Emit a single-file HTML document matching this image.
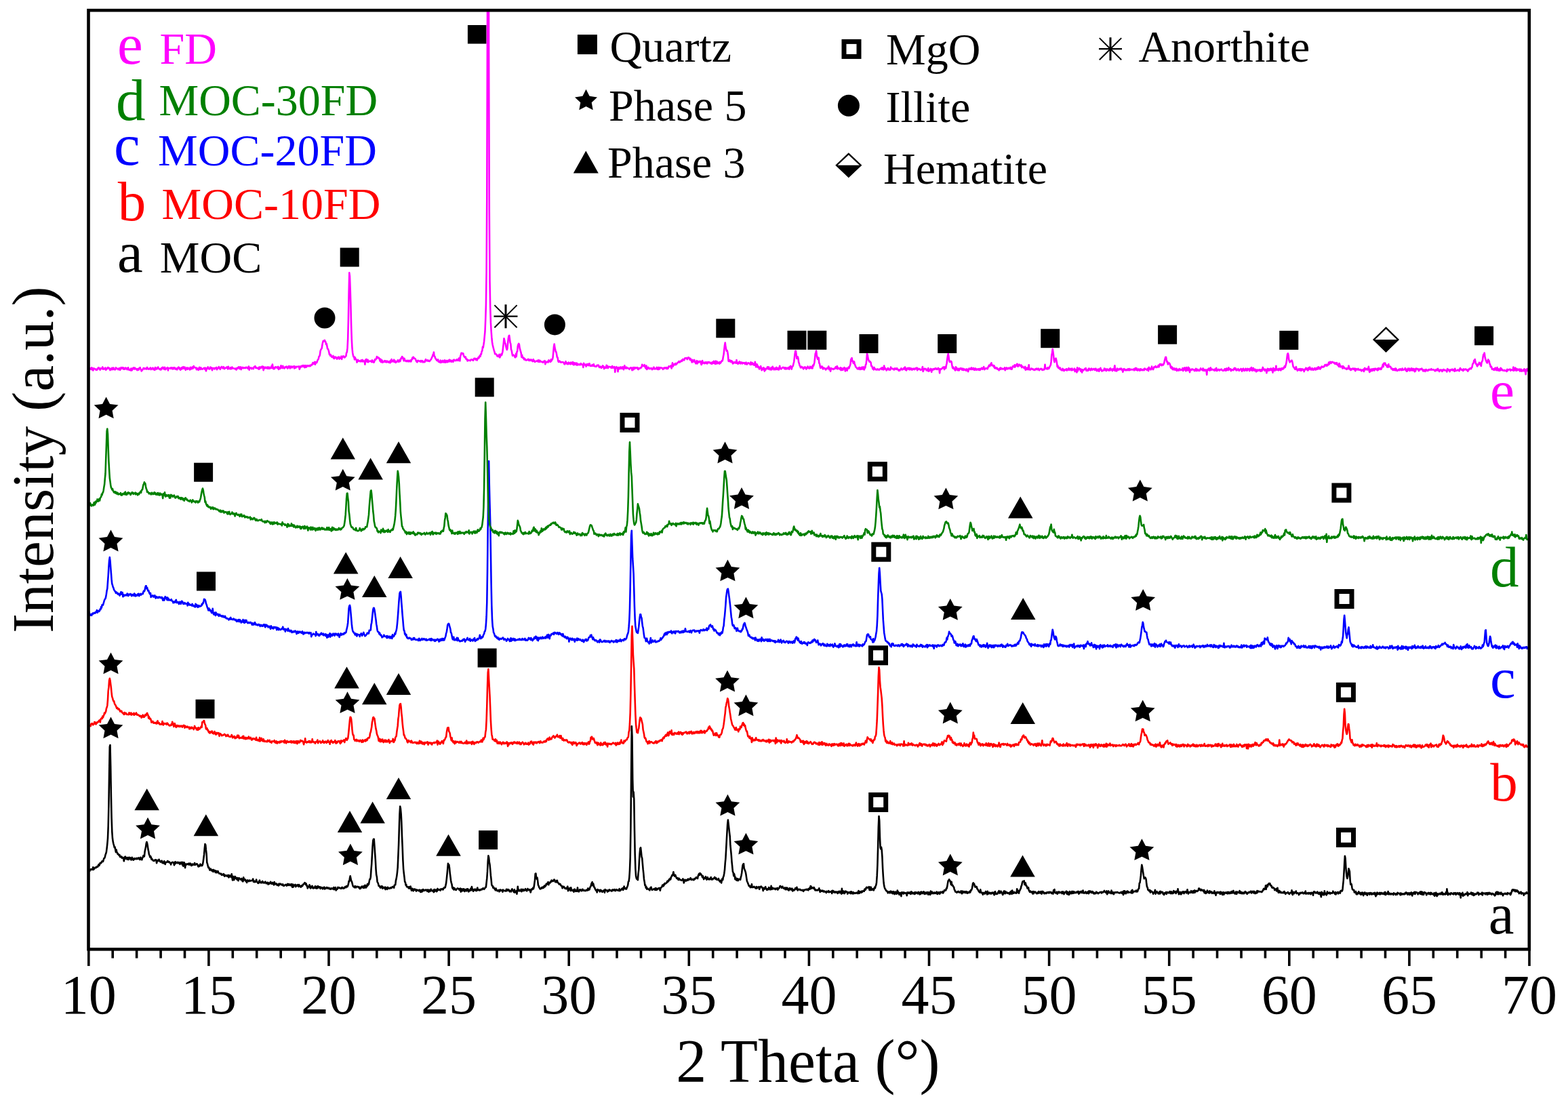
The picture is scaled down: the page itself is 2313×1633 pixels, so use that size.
<!DOCTYPE html><html><head><meta charset="utf-8"><title>XRD patterns</title><style>html,body{margin:0;padding:0;background:#fff;}svg{display:block;}text{font-family:"Liberation Serif","Times New Roman",serif;}</style></head><body>
<svg width="2313" height="1633" viewBox="0 0 2313 1633">
<rect width="2313" height="1633" fill="#fff"/>
<defs><clipPath id="pc"><rect x="130.5" y="15.2" width="2125.3" height="1385.1"/></clipPath></defs>
<g clip-path="url(#pc)" fill="none" stroke-width="2.6" stroke-linejoin="round">
<polyline stroke="#000000" points="131.0,1283.9 131.7,1285.2 132.4,1284.8 133.1,1282.5 133.8,1282.5 134.5,1282.0 135.2,1283.0 135.9,1282.0 136.6,1282.6 137.3,1279.3 138.0,1282.9 138.7,1280.7 139.4,1281.3 140.1,1280.0 140.8,1279.4 141.5,1280.0 142.2,1280.0 142.9,1278.5 143.6,1278.1 144.3,1278.6 145.0,1276.4 145.7,1275.1 146.4,1276.8 147.1,1275.0 147.8,1272.9 148.5,1273.1 149.2,1273.2 149.9,1271.6 150.6,1270.3 151.3,1271.1 152.0,1270.9 152.7,1268.3 153.4,1266.2 154.1,1265.9 154.8,1264.3 155.5,1261.0 156.2,1259.3 156.9,1256.8 157.6,1251.3 158.3,1244.8 159.0,1236.5 159.7,1218.7 160.4,1188.6 161.1,1140.9 161.8,1101.5 162.5,1099.0 163.2,1130.6 163.9,1175.1 164.6,1207.4 165.3,1226.8 166.0,1236.8 166.7,1241.6 167.4,1244.8 168.1,1247.2 168.8,1250.1 169.5,1249.4 170.2,1253.4 170.9,1257.1 171.6,1253.6 172.3,1257.3 173.0,1257.8 173.7,1260.0 174.4,1259.5 175.1,1260.8 175.8,1262.0 176.5,1261.2 177.2,1264.2 177.9,1263.2 178.6,1264.4 179.3,1263.6 180.0,1265.8 180.7,1265.5 181.4,1264.9 182.1,1266.0 182.8,1270.3 183.5,1267.7 184.2,1264.0 184.9,1263.7 185.6,1266.6 186.3,1266.1 187.0,1265.1 187.7,1267.8 188.4,1265.0 189.1,1267.1 189.8,1268.0 190.5,1264.8 191.2,1266.3 191.9,1265.2 192.6,1267.0 193.3,1268.5 194.0,1268.3 194.7,1264.8 195.4,1266.2 196.1,1267.7 196.8,1268.7 197.5,1267.4 198.2,1266.1 198.9,1267.3 199.6,1266.9 200.3,1266.7 201.0,1266.0 201.7,1267.3 202.4,1267.2 203.1,1265.8 203.8,1266.6 204.5,1265.3 205.2,1266.2 205.9,1268.0 206.6,1266.4 207.3,1264.8 208.0,1267.9 208.7,1266.7 209.4,1268.3 210.1,1265.5 210.8,1264.3 211.5,1262.2 212.2,1263.9 212.9,1263.2 213.6,1256.3 214.3,1252.7 215.0,1249.8 215.7,1244.4 216.4,1242.0 217.1,1244.0 217.8,1247.8 218.5,1253.1 219.2,1256.0 219.9,1260.6 220.6,1261.7 221.3,1264.5 222.0,1262.9 222.7,1264.6 223.4,1267.8 224.1,1266.7 224.8,1268.4 225.5,1268.7 226.2,1269.8 226.9,1269.4 227.6,1269.9 228.3,1268.7 229.0,1268.2 229.7,1268.3 230.4,1268.8 231.1,1273.2 231.8,1269.0 232.5,1269.6 233.2,1270.1 233.9,1268.8 234.6,1267.8 235.3,1270.1 236.0,1270.5 236.7,1271.6 237.4,1271.1 238.1,1269.8 238.8,1269.8 239.5,1273.1 240.2,1271.7 240.9,1273.1 241.6,1273.5 242.3,1270.2 243.0,1271.7 243.7,1275.0 244.4,1272.0 245.1,1272.1 245.8,1271.8 246.5,1271.8 247.2,1270.0 247.9,1271.6 248.6,1271.0 249.3,1272.1 250.0,1271.5 250.7,1272.8 251.4,1273.1 252.1,1275.4 252.8,1272.7 253.5,1272.5 254.2,1271.9 254.9,1272.3 255.6,1272.0 256.3,1273.1 257.0,1276.3 257.7,1273.4 258.4,1271.3 259.1,1273.9 259.8,1272.1 260.5,1272.2 261.2,1272.8 261.9,1271.9 262.6,1273.5 263.3,1272.6 264.0,1272.1 264.7,1272.4 265.4,1274.9 266.1,1273.5 266.8,1272.2 267.5,1273.6 268.2,1271.9 268.9,1275.8 269.6,1272.0 270.3,1277.8 271.0,1274.5 271.7,1272.3 272.4,1274.4 273.1,1280.2 273.8,1274.7 274.5,1274.5 275.2,1275.4 275.9,1274.5 276.6,1274.8 277.3,1274.4 278.0,1275.3 278.7,1273.6 279.4,1275.6 280.1,1274.2 280.8,1273.6 281.5,1275.4 282.2,1277.0 282.9,1276.2 283.6,1274.6 284.3,1276.1 285.0,1274.9 285.7,1275.3 286.4,1275.7 287.1,1273.0 287.8,1276.0 288.5,1274.9 289.2,1275.1 289.9,1274.4 290.6,1274.4 291.3,1275.2 292.0,1277.4 292.7,1278.4 293.4,1276.6 294.1,1277.9 294.8,1276.4 295.5,1274.6 296.2,1276.9 296.9,1277.1 297.6,1275.8 298.3,1276.9 299.0,1275.1 299.7,1271.1 300.4,1266.0 301.1,1260.4 301.8,1251.7 302.5,1245.1 303.2,1246.2 303.9,1253.7 304.6,1259.6 305.3,1272.4 306.0,1274.3 306.7,1277.4 307.4,1279.8 308.1,1279.3 308.8,1281.5 309.5,1283.6 310.2,1282.7 310.9,1281.6 311.6,1283.4 312.3,1284.5 313.0,1283.9 313.7,1283.1 314.4,1285.9 315.1,1283.0 315.8,1285.3 316.5,1285.0 317.2,1284.0 317.9,1287.1 318.6,1286.4 319.3,1284.9 320.0,1287.3 320.7,1286.4 321.4,1285.0 322.1,1286.7 322.8,1288.0 323.5,1288.8 324.2,1288.5 324.9,1288.6 325.6,1289.4 326.3,1288.9 327.0,1290.8 327.7,1289.8 328.4,1290.3 329.1,1290.8 329.8,1289.2 330.5,1289.9 331.2,1292.7 331.9,1291.6 332.6,1291.1 333.3,1292.0 334.0,1291.3 334.7,1292.4 335.4,1291.5 336.1,1292.8 336.8,1290.9 337.5,1294.4 338.2,1292.5 338.9,1291.4 339.6,1293.2 340.3,1293.2 341.0,1293.9 341.7,1289.4 342.4,1294.5 343.1,1298.4 343.8,1292.9 344.5,1294.9 345.2,1298.1 345.9,1295.1 346.6,1292.9 347.3,1293.8 348.0,1295.8 348.7,1295.4 349.4,1297.4 350.1,1294.9 350.8,1296.0 351.5,1299.3 352.2,1295.2 352.9,1295.2 353.6,1296.4 354.3,1296.5 355.0,1297.6 355.7,1296.9 356.4,1296.0 357.1,1298.7 357.8,1300.2 358.5,1300.3 359.2,1294.2 359.9,1297.4 360.6,1296.7 361.3,1298.5 362.0,1297.7 362.7,1300.2 363.4,1299.2 364.1,1301.9 364.8,1298.6 365.5,1298.4 366.2,1299.0 366.9,1300.2 367.6,1299.4 368.3,1298.5 369.0,1299.6 369.7,1299.4 370.4,1299.2 371.1,1299.0 371.8,1298.8 372.5,1298.8 373.2,1296.5 373.9,1300.9 374.6,1300.5 375.3,1299.7 376.0,1301.3 376.7,1300.7 377.4,1300.7 378.1,1297.5 378.8,1300.2 379.5,1301.2 380.2,1302.5 380.9,1302.9 381.6,1302.5 382.3,1299.6 383.0,1298.5 383.7,1301.8 384.4,1301.3 385.1,1302.4 385.8,1301.3 386.5,1301.8 387.2,1299.9 387.9,1302.2 388.6,1301.3 389.3,1302.3 390.0,1302.5 390.7,1301.9 391.4,1300.7 392.1,1302.2 392.8,1303.2 393.5,1303.0 394.2,1301.8 394.9,1301.9 395.6,1304.6 396.3,1302.6 397.0,1303.9 397.7,1303.3 398.4,1302.3 399.1,1300.8 399.8,1303.3 400.5,1303.5 401.2,1304.0 401.9,1301.9 402.6,1302.8 403.3,1303.4 404.0,1305.4 404.7,1301.0 405.4,1304.3 406.1,1303.2 406.8,1304.4 407.5,1303.4 408.2,1304.5 408.9,1305.9 409.6,1304.6 410.3,1304.8 411.0,1306.5 411.7,1303.6 412.4,1305.1 413.1,1304.3 413.8,1303.7 414.5,1304.7 415.2,1304.5 415.9,1305.7 416.6,1304.9 417.3,1304.4 418.0,1306.7 418.7,1306.3 419.4,1306.6 420.1,1305.9 420.8,1305.2 421.5,1304.9 422.2,1305.1 422.9,1306.6 423.6,1305.7 424.3,1303.9 425.0,1305.7 425.7,1304.1 426.4,1306.0 427.1,1304.5 427.8,1304.5 428.5,1306.1 429.2,1306.0 429.9,1304.2 430.6,1307.0 431.3,1308.7 432.0,1304.6 432.7,1308.5 433.4,1305.6 434.1,1305.9 434.8,1306.3 435.5,1304.9 436.2,1308.1 436.9,1307.3 437.6,1305.9 438.3,1306.5 439.0,1305.1 439.7,1306.5 440.4,1308.0 441.1,1305.0 441.8,1306.5 442.5,1307.2 443.2,1308.2 443.9,1308.6 444.6,1306.5 445.3,1306.0 446.0,1307.2 446.7,1305.7 447.4,1304.5 448.1,1304.1 448.8,1303.2 449.5,1302.0 450.2,1302.5 450.9,1304.8 451.6,1303.5 452.3,1306.7 453.0,1306.1 453.7,1310.4 454.4,1308.7 455.1,1308.2 455.8,1307.9 456.5,1305.3 457.2,1309.1 457.9,1310.3 458.6,1307.6 459.3,1309.3 460.0,1309.5 460.7,1306.9 461.4,1309.8 462.1,1310.4 462.8,1309.2 463.5,1308.9 464.2,1309.9 464.9,1307.3 465.6,1309.3 466.3,1310.4 467.0,1307.8 467.7,1310.5 468.4,1308.9 469.1,1307.1 469.8,1309.4 470.5,1308.4 471.2,1309.3 471.9,1308.3 472.6,1310.9 473.3,1308.9 474.0,1310.2 474.7,1309.2 475.4,1309.5 476.1,1311.3 476.8,1310.2 477.5,1309.6 478.2,1308.6 478.9,1311.5 479.6,1311.0 480.3,1309.8 481.0,1310.5 481.7,1309.1 482.4,1309.1 483.1,1309.4 483.8,1310.8 484.5,1310.7 485.2,1309.6 485.9,1311.3 486.6,1311.4 487.3,1310.7 488.0,1311.7 488.7,1310.2 489.4,1310.4 490.1,1311.1 490.8,1310.5 491.5,1311.5 492.2,1309.1 492.9,1312.2 493.6,1309.7 494.3,1310.4 495.0,1309.0 495.7,1313.5 496.4,1312.0 497.1,1311.8 497.8,1311.5 498.5,1308.7 499.2,1309.6 499.9,1309.9 500.6,1309.3 501.3,1309.9 502.0,1310.6 502.7,1310.3 503.4,1310.8 504.1,1309.1 504.8,1309.1 505.5,1309.1 506.2,1310.6 506.9,1310.3 507.6,1310.5 508.3,1309.7 509.0,1308.0 509.7,1308.7 510.4,1309.2 511.1,1307.1 511.8,1307.3 512.5,1308.1 513.2,1306.5 513.9,1304.1 514.6,1299.8 515.3,1300.4 516.0,1295.4 516.7,1292.3 517.4,1295.7 518.1,1299.2 518.8,1300.1 519.5,1302.6 520.2,1305.3 520.9,1307.5 521.6,1308.2 522.3,1308.4 523.0,1309.3 523.7,1307.0 524.4,1308.0 525.1,1309.3 525.8,1308.1 526.5,1307.7 527.2,1307.8 527.9,1308.2 528.6,1309.0 529.3,1308.1 530.0,1309.5 530.7,1311.1 531.4,1309.0 532.1,1310.6 532.8,1309.4 533.5,1307.7 534.2,1308.6 534.9,1307.7 535.6,1309.6 536.3,1307.3 537.0,1310.0 537.7,1309.0 538.4,1305.8 539.1,1308.8 539.8,1309.5 540.5,1306.5 541.2,1308.1 541.9,1304.4 542.6,1306.2 543.3,1303.2 544.0,1304.5 544.7,1300.3 545.4,1297.0 546.1,1296.9 546.8,1293.8 547.5,1283.0 548.2,1274.6 548.9,1261.6 549.6,1248.5 550.3,1240.0 551.0,1237.8 551.7,1237.7 552.4,1247.5 553.1,1258.1 553.8,1267.8 554.5,1281.8 555.2,1290.6 555.9,1293.5 556.6,1300.9 557.3,1301.9 558.0,1303.7 558.7,1307.0 559.4,1306.6 560.1,1307.4 560.8,1309.4 561.5,1309.6 562.2,1307.6 562.9,1307.3 563.6,1307.3 564.3,1310.7 565.0,1308.5 565.7,1309.9 566.4,1310.1 567.1,1309.8 567.8,1308.7 568.5,1312.1 569.2,1309.1 569.9,1310.2 570.6,1310.1 571.3,1311.8 572.0,1308.7 572.7,1310.3 573.4,1310.1 574.1,1310.8 574.8,1310.7 575.5,1309.5 576.2,1310.1 576.9,1309.2 577.6,1310.0 578.3,1309.0 579.0,1308.0 579.7,1308.3 580.4,1308.2 581.1,1309.7 581.8,1305.7 582.5,1305.5 583.2,1305.3 583.9,1299.1 584.6,1296.4 585.3,1292.3 586.0,1286.6 586.7,1279.3 587.4,1262.8 588.1,1245.6 588.8,1223.1 589.5,1201.1 590.2,1189.5 590.9,1192.6 591.6,1200.0 592.3,1212.9 593.0,1234.0 593.7,1249.7 594.4,1268.9 595.1,1281.8 595.8,1288.3 596.5,1294.2 597.2,1300.8 597.9,1301.5 598.6,1305.7 599.3,1304.9 600.0,1308.3 600.7,1308.3 601.4,1308.4 602.1,1308.5 602.8,1310.3 603.5,1308.3 604.2,1310.5 604.9,1310.6 605.6,1307.5 606.3,1310.1 607.0,1313.7 607.7,1311.6 608.4,1310.8 609.1,1313.8 609.8,1314.3 610.5,1312.2 611.2,1311.5 611.9,1312.7 612.6,1311.9 613.3,1312.4 614.0,1314.6 614.7,1312.5 615.4,1313.1 616.1,1313.4 616.8,1313.0 617.5,1314.1 618.2,1314.1 618.9,1312.7 619.6,1313.3 620.3,1316.0 621.0,1313.7 621.7,1313.0 622.4,1315.6 623.1,1313.3 623.8,1312.0 624.5,1314.1 625.2,1312.8 625.9,1312.8 626.6,1313.7 627.3,1313.2 628.0,1312.5 628.7,1312.7 629.4,1312.7 630.1,1314.7 630.8,1312.5 631.5,1312.7 632.2,1315.7 632.9,1312.7 633.6,1315.1 634.3,1314.9 635.0,1313.2 635.7,1311.7 636.4,1313.8 637.1,1314.1 637.8,1314.4 638.5,1313.4 639.2,1314.7 639.9,1316.1 640.6,1312.0 641.3,1314.9 642.0,1313.4 642.7,1312.5 643.4,1312.8 644.1,1315.2 644.8,1314.2 645.5,1310.9 646.2,1313.1 646.9,1312.7 647.6,1312.6 648.3,1312.2 649.0,1313.3 649.7,1313.6 650.4,1311.4 651.1,1311.9 651.8,1311.4 652.5,1311.1 653.2,1312.5 653.9,1311.8 654.6,1310.1 655.3,1309.2 656.0,1309.6 656.7,1309.2 657.4,1306.1 658.1,1302.9 658.8,1296.9 659.5,1289.9 660.2,1282.5 660.9,1273.9 661.6,1276.2 662.3,1275.7 663.0,1280.1 663.7,1287.8 664.4,1293.0 665.1,1298.7 665.8,1302.4 666.5,1304.4 667.2,1309.3 667.9,1310.9 668.6,1309.3 669.3,1312.4 670.0,1310.0 670.7,1310.6 671.4,1312.4 672.1,1312.0 672.8,1312.9 673.5,1311.4 674.2,1311.2 674.9,1310.3 675.6,1311.1 676.3,1311.3 677.0,1311.0 677.7,1313.0 678.4,1312.0 679.1,1310.5 679.8,1315.6 680.5,1311.8 681.2,1311.4 681.9,1314.3 682.6,1314.2 683.3,1311.5 684.0,1311.2 684.7,1311.7 685.4,1315.1 686.1,1312.5 686.8,1312.0 687.5,1312.9 688.2,1314.3 688.9,1311.3 689.6,1312.5 690.3,1311.3 691.0,1315.4 691.7,1315.0 692.4,1314.0 693.1,1312.7 693.8,1313.7 694.5,1310.5 695.2,1313.2 695.9,1308.0 696.6,1311.3 697.3,1312.0 698.0,1314.8 698.7,1313.5 699.4,1312.0 700.1,1313.1 700.8,1311.7 701.5,1313.6 702.2,1312.6 702.9,1314.1 703.6,1311.6 704.3,1309.5 705.0,1313.1 705.7,1312.5 706.4,1313.1 707.1,1312.3 707.8,1313.5 708.5,1312.9 709.2,1312.8 709.9,1311.6 710.6,1312.1 711.3,1312.1 712.0,1310.9 712.7,1310.2 713.4,1311.3 714.1,1311.8 714.8,1310.9 715.5,1309.9 716.2,1308.6 716.9,1308.7 717.6,1302.0 718.3,1295.7 719.0,1285.9 719.7,1270.7 720.4,1262.3 721.1,1264.8 721.8,1271.4 722.5,1275.2 723.2,1282.5 723.9,1291.2 724.6,1297.3 725.3,1305.2 726.0,1306.8 726.7,1306.9 727.4,1309.8 728.1,1308.7 728.8,1310.0 729.5,1311.6 730.2,1310.8 730.9,1313.3 731.6,1310.6 732.3,1312.7 733.0,1313.2 733.7,1314.4 734.4,1313.8 735.1,1313.1 735.8,1313.0 736.5,1315.3 737.2,1314.4 737.9,1312.4 738.6,1313.8 739.3,1313.1 740.0,1313.5 740.7,1313.0 741.4,1315.8 742.1,1312.6 742.8,1313.7 743.5,1313.7 744.2,1314.1 744.9,1314.0 745.6,1314.0 746.3,1314.6 747.0,1311.8 747.7,1313.6 748.4,1312.1 749.1,1313.8 749.8,1312.2 750.5,1312.5 751.2,1313.6 751.9,1315.3 752.6,1314.3 753.3,1314.0 754.0,1315.3 754.7,1312.6 755.4,1311.3 756.1,1313.2 756.8,1313.4 757.5,1315.2 758.2,1316.2 758.9,1312.2 759.6,1316.6 760.3,1315.6 761.0,1314.7 761.7,1314.2 762.4,1318.8 763.1,1313.9 763.8,1307.7 764.5,1314.0 765.2,1312.2 765.9,1314.3 766.6,1313.7 767.3,1314.2 768.0,1314.2 768.7,1311.8 769.4,1315.3 770.1,1312.5 770.8,1313.8 771.5,1311.9 772.2,1314.1 772.9,1312.8 773.6,1313.7 774.3,1312.9 775.0,1311.1 775.7,1312.3 776.4,1313.7 777.1,1314.3 777.8,1311.8 778.5,1311.0 779.2,1312.4 779.9,1313.1 780.6,1312.5 781.3,1312.2 782.0,1314.0 782.7,1316.5 783.4,1313.6 784.1,1311.5 784.8,1312.3 785.5,1311.6 786.2,1309.7 786.9,1311.3 787.6,1308.5 788.3,1303.6 789.0,1298.2 789.7,1288.9 790.4,1288.5 791.1,1294.6 791.8,1296.6 792.5,1294.7 793.2,1299.3 793.9,1305.7 794.6,1306.7 795.3,1309.0 796.0,1310.0 796.7,1311.4 797.4,1311.2 798.1,1310.7 798.8,1309.2 799.5,1310.3 800.2,1309.5 800.9,1308.4 801.6,1309.8 802.3,1308.4 803.0,1306.5 803.7,1308.4 804.4,1306.2 805.1,1306.7 805.8,1303.7 806.5,1304.9 807.2,1303.3 807.9,1302.7 808.6,1301.1 809.3,1305.2 810.0,1302.0 810.7,1302.0 811.4,1302.5 812.1,1300.6 812.8,1301.0 813.5,1298.5 814.2,1300.0 814.9,1299.1 815.6,1300.0 816.3,1299.6 817.0,1297.9 817.7,1297.5 818.4,1298.7 819.1,1301.0 819.8,1301.0 820.5,1301.4 821.2,1299.0 821.9,1298.8 822.6,1301.7 823.3,1302.5 824.0,1302.8 824.7,1304.4 825.4,1304.4 826.1,1303.8 826.8,1304.7 827.5,1306.4 828.2,1306.8 828.9,1307.1 829.6,1310.3 830.3,1307.8 831.0,1308.7 831.7,1307.8 832.4,1308.9 833.1,1310.3 833.8,1310.7 834.5,1310.2 835.2,1311.1 835.9,1311.0 836.6,1309.0 837.3,1307.6 838.0,1314.2 838.7,1312.7 839.4,1311.9 840.1,1310.1 840.8,1310.8 841.5,1314.0 842.2,1309.3 842.9,1312.3 843.6,1313.7 844.3,1313.0 845.0,1313.8 845.7,1312.9 846.4,1315.8 847.1,1312.0 847.8,1311.6 848.5,1313.6 849.2,1314.9 849.9,1313.3 850.6,1314.6 851.3,1312.8 852.0,1309.4 852.7,1315.1 853.4,1315.3 854.1,1315.3 854.8,1313.0 855.5,1312.2 856.2,1312.2 856.9,1313.3 857.6,1314.3 858.3,1314.2 859.0,1311.9 859.7,1311.9 860.4,1313.6 861.1,1313.7 861.8,1313.5 862.5,1313.3 863.2,1314.2 863.9,1313.6 864.6,1313.7 865.3,1312.5 866.0,1313.7 866.7,1312.9 867.4,1310.4 868.1,1313.1 868.8,1312.5 869.5,1312.3 870.2,1309.7 870.9,1308.0 871.6,1307.3 872.3,1303.8 873.0,1302.4 873.7,1301.2 874.4,1306.4 875.1,1303.4 875.8,1306.1 876.5,1308.8 877.2,1309.3 877.9,1311.5 878.6,1312.7 879.3,1313.9 880.0,1313.1 880.7,1316.4 881.4,1312.1 882.1,1313.6 882.8,1313.0 883.5,1312.9 884.2,1313.9 884.9,1315.3 885.6,1312.8 886.3,1312.8 887.0,1314.5 887.7,1314.3 888.4,1315.9 889.1,1314.9 889.8,1314.0 890.5,1313.3 891.2,1314.0 891.9,1316.8 892.6,1312.1 893.3,1313.7 894.0,1313.5 894.7,1313.4 895.4,1313.2 896.1,1315.6 896.8,1314.5 897.5,1314.7 898.2,1312.9 898.9,1312.4 899.6,1313.3 900.3,1313.9 901.0,1313.2 901.7,1313.3 902.4,1314.6 903.1,1313.8 903.8,1312.3 904.5,1312.9 905.2,1312.7 905.9,1313.6 906.6,1312.0 907.3,1313.1 908.0,1314.1 908.7,1313.2 909.4,1312.1 910.1,1312.4 910.8,1313.2 911.5,1313.5 912.2,1313.9 912.9,1312.7 913.6,1311.2 914.3,1314.3 915.0,1312.9 915.7,1312.9 916.4,1312.7 917.1,1311.0 917.8,1311.6 918.5,1310.2 919.2,1312.8 919.9,1311.4 920.6,1307.5 921.3,1310.4 922.0,1310.7 922.7,1311.3 923.4,1310.0 924.1,1311.3 924.8,1309.1 925.5,1307.8 926.2,1305.7 926.9,1300.7 927.6,1300.0 928.3,1294.6 929.0,1283.9 929.7,1264.8 930.4,1220.8 931.1,1144.4 931.8,1071.2 932.5,1086.4 933.2,1149.5 933.9,1175.5 934.6,1168.3 935.3,1178.5 936.0,1225.3 936.7,1260.6 937.4,1282.0 938.1,1292.3 938.8,1295.6 939.5,1297.0 940.2,1296.8 940.9,1298.1 941.6,1288.2 942.3,1282.6 943.0,1269.1 943.7,1258.6 944.4,1251.5 945.1,1250.3 945.8,1256.7 946.5,1263.8 947.2,1265.9 947.9,1274.1 948.6,1282.2 949.3,1288.5 950.0,1296.9 950.7,1300.7 951.4,1306.2 952.1,1305.6 952.8,1309.9 953.5,1308.2 954.2,1311.7 954.9,1310.5 955.6,1310.8 956.3,1311.6 957.0,1311.9 957.7,1312.7 958.4,1313.3 959.1,1309.7 959.8,1310.2 960.5,1308.6 961.2,1311.4 961.9,1312.8 962.6,1312.4 963.3,1312.1 964.0,1311.6 964.7,1311.3 965.4,1312.2 966.1,1312.6 966.8,1310.1 967.5,1312.9 968.2,1310.4 968.9,1312.7 969.6,1311.2 970.3,1311.4 971.0,1310.5 971.7,1310.2 972.4,1311.1 973.1,1309.9 973.8,1313.7 974.5,1310.0 975.2,1309.3 975.9,1308.9 976.6,1307.7 977.3,1305.5 978.0,1307.3 978.7,1307.2 979.4,1304.3 980.1,1305.2 980.8,1302.9 981.5,1303.5 982.2,1303.1 982.9,1302.6 983.6,1301.8 984.3,1299.9 985.0,1301.1 985.7,1299.1 986.4,1299.5 987.1,1297.2 987.8,1297.7 988.5,1295.9 989.2,1297.3 989.9,1294.2 990.6,1293.0 991.3,1291.1 992.0,1291.6 992.7,1289.1 993.4,1286.2 994.1,1289.9 994.8,1292.1 995.5,1292.6 996.2,1290.8 996.9,1292.6 997.6,1294.4 998.3,1295.9 999.0,1295.8 999.7,1295.1 1000.4,1297.7 1001.1,1297.9 1001.8,1295.8 1002.5,1297.1 1003.2,1297.9 1003.9,1297.9 1004.6,1298.3 1005.3,1298.7 1006.0,1298.4 1006.7,1297.7 1007.4,1296.3 1008.1,1299.1 1008.8,1302.5 1009.5,1300.1 1010.2,1297.8 1010.9,1297.8 1011.6,1299.5 1012.3,1299.4 1013.0,1298.2 1013.7,1298.6 1014.4,1296.9 1015.1,1298.4 1015.8,1296.7 1016.5,1297.5 1017.2,1297.5 1017.9,1297.0 1018.6,1295.1 1019.3,1296.6 1020.0,1297.8 1020.7,1297.3 1021.4,1296.9 1022.1,1297.8 1022.8,1298.0 1023.5,1298.1 1024.2,1296.1 1024.9,1296.9 1025.6,1296.3 1026.3,1295.4 1027.0,1294.2 1027.7,1295.3 1028.4,1295.4 1029.1,1295.9 1029.8,1291.9 1030.5,1290.3 1031.2,1288.9 1031.9,1291.0 1032.6,1288.0 1033.3,1289.4 1034.0,1289.3 1034.7,1290.8 1035.4,1291.8 1036.1,1294.1 1036.8,1292.2 1037.5,1294.6 1038.2,1297.1 1038.9,1295.1 1039.6,1295.7 1040.3,1295.1 1041.0,1293.2 1041.7,1296.2 1042.4,1297.7 1043.1,1295.8 1043.8,1294.2 1044.5,1296.6 1045.2,1296.4 1045.9,1297.4 1046.6,1297.3 1047.3,1295.9 1048.0,1296.4 1048.7,1294.1 1049.4,1297.4 1050.1,1296.3 1050.8,1297.4 1051.5,1297.3 1052.2,1295.8 1052.9,1295.9 1053.6,1295.1 1054.3,1293.8 1055.0,1296.1 1055.7,1296.6 1056.4,1295.3 1057.1,1297.6 1057.8,1297.1 1058.5,1297.8 1059.2,1296.8 1059.9,1296.0 1060.6,1298.8 1061.3,1299.4 1062.0,1300.6 1062.7,1298.8 1063.4,1299.0 1064.1,1302.5 1064.8,1298.4 1065.5,1296.0 1066.2,1298.1 1066.9,1293.7 1067.6,1292.3 1068.3,1288.3 1069.0,1283.3 1069.7,1273.3 1070.4,1266.5 1071.1,1253.5 1071.8,1240.0 1072.5,1227.5 1073.2,1215.7 1073.9,1209.6 1074.6,1215.5 1075.3,1221.6 1076.0,1227.8 1076.7,1233.6 1077.4,1247.2 1078.1,1254.3 1078.8,1261.7 1079.5,1271.4 1080.2,1278.2 1080.9,1285.8 1081.6,1287.0 1082.3,1292.2 1083.0,1289.0 1083.7,1291.9 1084.4,1297.2 1085.1,1294.3 1085.8,1296.8 1086.5,1298.6 1087.2,1296.5 1087.9,1296.1 1088.6,1299.1 1089.3,1298.2 1090.0,1296.8 1090.7,1296.9 1091.4,1297.2 1092.1,1297.7 1092.8,1294.1 1093.5,1291.6 1094.2,1287.7 1094.9,1281.3 1095.6,1276.4 1096.3,1274.8 1097.0,1274.2 1097.7,1281.1 1098.4,1282.8 1099.1,1284.5 1099.8,1286.6 1100.5,1290.3 1101.2,1295.1 1101.9,1299.8 1102.6,1301.1 1103.3,1303.2 1104.0,1304.6 1104.7,1306.9 1105.4,1306.4 1106.1,1307.0 1106.8,1309.1 1107.5,1307.5 1108.2,1308.8 1108.9,1304.3 1109.6,1308.9 1110.3,1308.8 1111.0,1309.0 1111.7,1308.4 1112.4,1307.9 1113.1,1308.8 1113.8,1308.7 1114.5,1310.5 1115.2,1310.5 1115.9,1308.1 1116.6,1310.3 1117.3,1309.1 1118.0,1308.7 1118.7,1309.2 1119.4,1308.1 1120.1,1311.8 1120.8,1310.4 1121.5,1308.5 1122.2,1307.7 1122.9,1307.6 1123.6,1308.6 1124.3,1309.6 1125.0,1310.7 1125.7,1314.1 1126.4,1309.7 1127.1,1311.7 1127.8,1311.5 1128.5,1309.6 1129.2,1308.2 1129.9,1311.2 1130.6,1310.9 1131.3,1312.9 1132.0,1311.9 1132.7,1311.1 1133.4,1312.2 1134.1,1309.1 1134.8,1310.5 1135.5,1310.0 1136.2,1312.3 1136.9,1311.0 1137.6,1306.9 1138.3,1312.0 1139.0,1309.4 1139.7,1311.3 1140.4,1309.9 1141.1,1310.8 1141.8,1311.2 1142.5,1310.7 1143.2,1310.6 1143.9,1312.1 1144.6,1311.0 1145.3,1310.5 1146.0,1311.3 1146.7,1309.9 1147.4,1312.6 1148.1,1310.6 1148.8,1310.5 1149.5,1310.1 1150.2,1308.0 1150.9,1306.8 1151.6,1307.7 1152.3,1308.0 1153.0,1309.8 1153.7,1309.3 1154.4,1307.7 1155.1,1309.6 1155.8,1310.2 1156.5,1310.9 1157.2,1310.7 1157.9,1309.3 1158.6,1312.2 1159.3,1310.2 1160.0,1311.8 1160.7,1309.4 1161.4,1312.2 1162.1,1310.5 1162.8,1312.7 1163.5,1313.5 1164.2,1312.9 1164.9,1310.2 1165.6,1310.6 1166.3,1310.7 1167.0,1312.5 1167.7,1312.2 1168.4,1310.6 1169.1,1314.5 1169.8,1312.6 1170.5,1312.7 1171.2,1313.5 1171.9,1312.0 1172.6,1312.3 1173.3,1310.0 1174.0,1310.6 1174.7,1311.4 1175.4,1308.8 1176.1,1312.5 1176.8,1313.5 1177.5,1311.9 1178.2,1311.9 1178.9,1311.9 1179.6,1312.6 1180.3,1311.9 1181.0,1313.1 1181.7,1313.0 1182.4,1313.0 1183.1,1313.6 1183.8,1312.7 1184.5,1312.9 1185.2,1314.8 1185.9,1312.7 1186.6,1312.7 1187.3,1312.9 1188.0,1312.3 1188.7,1312.2 1189.4,1311.8 1190.1,1312.7 1190.8,1311.8 1191.5,1311.8 1192.2,1313.3 1192.9,1311.2 1193.6,1311.9 1194.3,1309.9 1195.0,1311.6 1195.7,1307.0 1196.4,1307.5 1197.1,1310.6 1197.8,1309.1 1198.5,1309.8 1199.2,1309.4 1199.9,1310.6 1200.6,1309.0 1201.3,1310.1 1202.0,1312.4 1202.7,1313.4 1203.4,1312.5 1204.1,1313.1 1204.8,1313.2 1205.5,1313.6 1206.2,1312.6 1206.9,1312.5 1207.6,1313.0 1208.3,1310.2 1209.0,1313.3 1209.7,1316.0 1210.4,1313.3 1211.1,1314.9 1211.8,1314.2 1212.5,1314.6 1213.2,1313.6 1213.9,1314.0 1214.6,1315.5 1215.3,1315.4 1216.0,1314.5 1216.7,1315.5 1217.4,1315.3 1218.1,1315.3 1218.8,1317.0 1219.5,1314.8 1220.2,1315.8 1220.9,1315.8 1221.6,1315.1 1222.3,1314.1 1223.0,1316.3 1223.7,1315.8 1224.4,1315.6 1225.1,1315.6 1225.8,1315.7 1226.5,1314.6 1227.2,1318.0 1227.9,1313.7 1228.6,1315.8 1229.3,1314.1 1230.0,1315.5 1230.7,1316.7 1231.4,1315.6 1232.1,1315.4 1232.8,1316.6 1233.5,1315.7 1234.2,1315.6 1234.9,1315.6 1235.6,1317.9 1236.3,1316.9 1237.0,1315.3 1237.7,1314.8 1238.4,1316.9 1239.1,1314.8 1239.8,1316.8 1240.5,1315.0 1241.2,1318.6 1241.9,1310.9 1242.6,1317.8 1243.3,1317.3 1244.0,1314.4 1244.7,1316.1 1245.4,1318.1 1246.1,1317.8 1246.8,1314.6 1247.5,1315.9 1248.2,1315.1 1248.9,1315.3 1249.6,1315.8 1250.3,1318.6 1251.0,1316.7 1251.7,1316.3 1252.4,1316.2 1253.1,1317.3 1253.8,1317.4 1254.5,1315.5 1255.2,1318.3 1255.9,1315.3 1256.6,1316.2 1257.3,1317.1 1258.0,1318.5 1258.7,1316.2 1259.4,1316.9 1260.1,1318.0 1260.8,1317.2 1261.5,1317.8 1262.2,1317.7 1262.9,1316.8 1263.6,1317.2 1264.3,1317.5 1265.0,1316.3 1265.7,1318.1 1266.4,1314.0 1267.1,1315.1 1267.8,1317.7 1268.5,1316.5 1269.2,1315.1 1269.9,1316.1 1270.6,1316.7 1271.3,1314.6 1272.0,1315.8 1272.7,1314.5 1273.4,1314.4 1274.1,1313.8 1274.8,1314.7 1275.5,1311.6 1276.2,1312.7 1276.9,1312.5 1277.6,1309.8 1278.3,1308.8 1279.0,1308.8 1279.7,1309.7 1280.4,1309.3 1281.1,1309.5 1281.8,1308.2 1282.5,1312.9 1283.2,1308.7 1283.9,1313.1 1284.6,1308.5 1285.3,1310.4 1286.0,1313.0 1286.7,1311.5 1287.4,1312.2 1288.1,1311.0 1288.8,1313.4 1289.5,1311.2 1290.2,1308.9 1290.9,1310.2 1291.6,1307.3 1292.3,1305.8 1293.0,1301.9 1293.7,1291.9 1294.4,1276.2 1295.1,1250.8 1295.8,1220.6 1296.5,1204.0 1297.2,1210.6 1297.9,1233.8 1298.6,1249.8 1299.3,1252.5 1300.0,1249.8 1300.7,1253.8 1301.4,1263.8 1302.1,1280.5 1302.8,1292.1 1303.5,1301.5 1304.2,1306.6 1304.9,1309.5 1305.6,1311.4 1306.3,1311.9 1307.0,1313.8 1307.7,1314.1 1308.4,1315.0 1309.1,1314.8 1309.8,1317.3 1310.5,1315.8 1311.2,1316.0 1311.9,1315.3 1312.6,1317.4 1313.3,1315.2 1314.0,1314.6 1314.7,1315.4 1315.4,1317.4 1316.1,1315.4 1316.8,1318.3 1317.5,1316.9 1318.2,1315.2 1318.9,1316.7 1319.6,1319.1 1320.3,1316.1 1321.0,1315.6 1321.7,1317.8 1322.4,1318.7 1323.1,1318.4 1323.8,1313.5 1324.5,1317.5 1325.2,1315.8 1325.9,1318.7 1326.6,1319.8 1327.3,1317.2 1328.0,1318.9 1328.7,1317.0 1329.4,1322.1 1330.1,1316.4 1330.8,1316.6 1331.5,1317.9 1332.2,1316.4 1332.9,1318.5 1333.6,1316.5 1334.3,1317.6 1335.0,1317.4 1335.7,1317.1 1336.4,1317.7 1337.1,1318.8 1337.8,1321.1 1338.5,1316.2 1339.2,1317.9 1339.9,1317.3 1340.6,1316.5 1341.3,1317.9 1342.0,1316.5 1342.7,1317.5 1343.4,1319.0 1344.1,1315.2 1344.8,1317.8 1345.5,1318.1 1346.2,1316.5 1346.9,1318.2 1347.6,1318.0 1348.3,1317.2 1349.0,1319.0 1349.7,1316.1 1350.4,1318.3 1351.1,1317.3 1351.8,1316.4 1352.5,1317.4 1353.2,1317.2 1353.9,1318.5 1354.6,1315.8 1355.3,1317.3 1356.0,1317.0 1356.7,1319.4 1357.4,1316.3 1358.1,1318.8 1358.8,1315.5 1359.5,1315.7 1360.2,1317.4 1360.9,1318.0 1361.6,1316.7 1362.3,1315.3 1363.0,1315.7 1363.7,1319.0 1364.4,1317.7 1365.1,1316.5 1365.8,1318.5 1366.5,1316.6 1367.2,1316.6 1367.9,1316.1 1368.6,1318.8 1369.3,1319.7 1370.0,1316.3 1370.7,1317.8 1371.4,1318.5 1372.1,1319.8 1372.8,1314.6 1373.5,1317.5 1374.2,1318.1 1374.9,1315.6 1375.6,1317.8 1376.3,1317.5 1377.0,1318.1 1377.7,1316.6 1378.4,1317.7 1379.1,1316.5 1379.8,1317.9 1380.5,1317.4 1381.2,1316.7 1381.9,1315.5 1382.6,1319.0 1383.3,1318.3 1384.0,1318.0 1384.7,1316.2 1385.4,1316.5 1386.1,1318.7 1386.8,1317.6 1387.5,1315.7 1388.2,1316.6 1388.9,1316.6 1389.6,1316.1 1390.3,1315.1 1391.0,1317.4 1391.7,1316.4 1392.4,1315.1 1393.1,1313.1 1393.8,1313.7 1394.5,1313.5 1395.2,1313.4 1395.9,1310.6 1396.6,1310.6 1397.3,1307.4 1398.0,1303.1 1398.7,1299.3 1399.4,1299.0 1400.1,1297.3 1400.8,1298.5 1401.5,1299.5 1402.2,1301.6 1402.9,1305.0 1403.6,1300.9 1404.3,1306.2 1405.0,1305.4 1405.7,1306.4 1406.4,1308.2 1407.1,1308.6 1407.8,1312.3 1408.5,1313.1 1409.2,1315.5 1409.9,1315.6 1410.6,1315.9 1411.3,1316.8 1412.0,1315.3 1412.7,1315.4 1413.4,1316.0 1414.1,1314.8 1414.8,1316.2 1415.5,1316.0 1416.2,1316.8 1416.9,1316.5 1417.6,1314.4 1418.3,1316.7 1419.0,1318.3 1419.7,1314.6 1420.4,1315.8 1421.1,1316.8 1421.8,1315.2 1422.5,1316.1 1423.2,1316.8 1423.9,1315.2 1424.6,1317.0 1425.3,1317.1 1426.0,1315.2 1426.7,1316.6 1427.4,1317.7 1428.1,1316.2 1428.8,1316.8 1429.5,1316.8 1430.2,1314.9 1430.9,1316.6 1431.6,1315.3 1432.3,1312.8 1433.0,1313.0 1433.7,1311.1 1434.4,1308.1 1435.1,1303.2 1435.8,1302.3 1436.5,1303.5 1437.2,1304.2 1437.9,1307.3 1438.6,1308.7 1439.3,1307.5 1440.0,1308.3 1440.7,1308.0 1441.4,1311.1 1442.1,1311.6 1442.8,1312.7 1443.5,1314.4 1444.2,1315.2 1444.9,1316.2 1445.6,1316.6 1446.3,1312.4 1447.0,1315.7 1447.7,1317.0 1448.4,1317.2 1449.1,1316.8 1449.8,1319.8 1450.5,1318.1 1451.2,1316.8 1451.9,1317.7 1452.6,1318.5 1453.3,1317.4 1454.0,1315.0 1454.7,1317.1 1455.4,1317.1 1456.1,1319.5 1456.8,1314.9 1457.5,1318.8 1458.2,1316.9 1458.9,1318.1 1459.6,1316.7 1460.3,1317.3 1461.0,1318.4 1461.7,1317.2 1462.4,1318.3 1463.1,1317.0 1463.8,1316.6 1464.5,1316.8 1465.2,1318.2 1465.9,1316.9 1466.6,1320.3 1467.3,1315.7 1468.0,1315.2 1468.7,1317.1 1469.4,1319.0 1470.1,1318.3 1470.8,1318.6 1471.5,1318.5 1472.2,1316.2 1472.9,1317.2 1473.6,1314.0 1474.3,1316.4 1475.0,1317.7 1475.7,1315.3 1476.4,1314.7 1477.1,1315.5 1477.8,1317.3 1478.5,1318.4 1479.2,1320.0 1479.9,1318.7 1480.6,1315.3 1481.3,1314.3 1482.0,1317.2 1482.7,1318.2 1483.4,1315.1 1484.1,1316.4 1484.8,1316.4 1485.5,1317.7 1486.2,1316.7 1486.9,1317.5 1487.6,1318.1 1488.3,1317.0 1489.0,1317.7 1489.7,1319.1 1490.4,1315.6 1491.1,1315.6 1491.8,1314.5 1492.5,1318.9 1493.2,1313.5 1493.9,1317.9 1494.6,1316.3 1495.3,1317.6 1496.0,1315.8 1496.7,1317.2 1497.4,1316.8 1498.1,1316.7 1498.8,1317.7 1499.5,1317.3 1500.2,1311.3 1500.9,1316.7 1501.6,1313.5 1502.3,1316.2 1503.0,1317.7 1503.7,1314.5 1504.4,1313.5 1505.1,1311.6 1505.8,1310.7 1506.5,1307.1 1507.2,1305.9 1507.9,1302.3 1508.6,1300.2 1509.3,1300.0 1510.0,1300.1 1510.7,1299.3 1511.4,1304.9 1512.1,1303.7 1512.8,1302.4 1513.5,1306.5 1514.2,1306.4 1514.9,1308.3 1515.6,1310.5 1516.3,1310.2 1517.0,1309.1 1517.7,1313.4 1518.4,1314.5 1519.1,1316.0 1519.8,1314.4 1520.5,1315.3 1521.2,1316.2 1521.9,1315.6 1522.6,1315.8 1523.3,1318.4 1524.0,1315.1 1524.7,1318.2 1525.4,1315.3 1526.1,1316.5 1526.8,1316.1 1527.5,1315.7 1528.2,1317.2 1528.9,1317.8 1529.6,1318.3 1530.3,1317.3 1531.0,1316.2 1531.7,1317.7 1532.4,1315.0 1533.1,1316.8 1533.8,1317.3 1534.5,1317.4 1535.2,1315.4 1535.9,1315.0 1536.6,1318.7 1537.3,1316.2 1538.0,1314.9 1538.7,1315.3 1539.4,1316.8 1540.1,1318.1 1540.8,1316.8 1541.5,1318.2 1542.2,1317.0 1542.9,1317.3 1543.6,1317.9 1544.3,1316.3 1545.0,1317.1 1545.7,1316.3 1546.4,1316.0 1547.1,1317.5 1547.8,1315.8 1548.5,1316.9 1549.2,1315.9 1549.9,1316.7 1550.6,1316.2 1551.3,1318.0 1552.0,1316.8 1552.7,1316.8 1553.4,1318.6 1554.1,1313.4 1554.8,1315.5 1555.5,1312.1 1556.2,1316.7 1556.9,1317.2 1557.6,1317.5 1558.3,1317.0 1559.0,1315.7 1559.7,1318.7 1560.4,1317.0 1561.1,1316.4 1561.8,1315.4 1562.5,1317.2 1563.2,1316.1 1563.9,1316.2 1564.6,1316.9 1565.3,1316.9 1566.0,1315.7 1566.7,1318.1 1567.4,1315.5 1568.1,1315.4 1568.8,1317.0 1569.5,1319.1 1570.2,1316.7 1570.9,1316.1 1571.6,1316.7 1572.3,1316.0 1573.0,1314.7 1573.7,1318.6 1574.4,1315.5 1575.1,1316.4 1575.8,1319.7 1576.5,1316.6 1577.2,1319.8 1577.9,1315.0 1578.6,1315.7 1579.3,1316.7 1580.0,1318.2 1580.7,1316.3 1581.4,1314.9 1582.1,1317.9 1582.8,1315.5 1583.5,1315.0 1584.2,1317.6 1584.9,1315.8 1585.6,1316.1 1586.3,1317.1 1587.0,1316.3 1587.7,1316.9 1588.4,1315.5 1589.1,1316.4 1589.8,1315.3 1590.5,1314.8 1591.2,1318.6 1591.9,1317.1 1592.6,1317.6 1593.3,1315.4 1594.0,1316.5 1594.7,1315.1 1595.4,1314.9 1596.1,1317.2 1596.8,1315.7 1597.5,1313.6 1598.2,1316.9 1598.9,1317.7 1599.6,1317.4 1600.3,1317.0 1601.0,1315.5 1601.7,1315.9 1602.4,1317.9 1603.1,1316.2 1603.8,1317.6 1604.5,1316.7 1605.2,1315.2 1605.9,1318.2 1606.6,1314.2 1607.3,1316.7 1608.0,1315.4 1608.7,1314.6 1609.4,1315.5 1610.1,1317.1 1610.8,1316.5 1611.5,1315.0 1612.2,1317.0 1612.9,1317.8 1613.6,1316.7 1614.3,1318.5 1615.0,1317.5 1615.7,1317.4 1616.4,1318.1 1617.1,1315.7 1617.8,1315.9 1618.5,1317.1 1619.2,1317.1 1619.9,1318.2 1620.6,1317.8 1621.3,1316.7 1622.0,1316.7 1622.7,1316.1 1623.4,1316.0 1624.1,1315.9 1624.8,1317.5 1625.5,1315.9 1626.2,1316.0 1626.9,1316.6 1627.6,1315.9 1628.3,1315.0 1629.0,1313.9 1629.7,1315.2 1630.4,1316.1 1631.1,1316.7 1631.8,1316.9 1632.5,1314.3 1633.2,1319.2 1633.9,1316.6 1634.6,1316.7 1635.3,1314.4 1636.0,1317.2 1636.7,1317.0 1637.4,1316.1 1638.1,1316.8 1638.8,1318.0 1639.5,1313.6 1640.2,1315.5 1640.9,1318.1 1641.6,1316.8 1642.3,1316.3 1643.0,1319.2 1643.7,1316.7 1644.4,1316.3 1645.1,1316.8 1645.8,1316.1 1646.5,1316.8 1647.2,1316.7 1647.9,1315.8 1648.6,1316.2 1649.3,1316.9 1650.0,1316.9 1650.7,1317.2 1651.4,1317.4 1652.1,1316.8 1652.8,1317.1 1653.5,1316.0 1654.2,1316.1 1654.9,1317.6 1655.6,1315.7 1656.3,1316.8 1657.0,1320.0 1657.7,1314.3 1658.4,1318.1 1659.1,1314.3 1659.8,1316.8 1660.5,1318.2 1661.2,1318.0 1661.9,1315.2 1662.6,1314.8 1663.3,1314.6 1664.0,1317.0 1664.7,1315.7 1665.4,1316.1 1666.1,1316.4 1666.8,1316.5 1667.5,1316.7 1668.2,1316.1 1668.9,1314.1 1669.6,1317.6 1670.3,1312.7 1671.0,1317.2 1671.7,1315.0 1672.4,1315.4 1673.1,1314.9 1673.8,1314.9 1674.5,1315.2 1675.2,1314.7 1675.9,1313.5 1676.6,1315.5 1677.3,1313.5 1678.0,1315.2 1678.7,1312.8 1679.4,1311.1 1680.1,1310.8 1680.8,1302.7 1681.5,1302.4 1682.2,1297.1 1682.9,1291.2 1683.6,1282.4 1684.3,1275.9 1685.0,1278.9 1685.7,1283.4 1686.4,1288.1 1687.1,1292.8 1687.8,1296.2 1688.5,1295.5 1689.2,1294.3 1689.9,1295.2 1690.6,1297.1 1691.3,1303.8 1692.0,1308.3 1692.7,1309.0 1693.4,1312.8 1694.1,1312.5 1694.8,1314.0 1695.5,1314.7 1696.2,1312.9 1696.9,1316.6 1697.6,1314.2 1698.3,1315.2 1699.0,1314.9 1699.7,1316.1 1700.4,1316.2 1701.1,1318.7 1701.8,1317.5 1702.5,1316.2 1703.2,1315.5 1703.9,1312.7 1704.6,1318.8 1705.3,1315.8 1706.0,1316.5 1706.7,1315.2 1707.4,1316.9 1708.1,1317.4 1708.8,1318.4 1709.5,1317.6 1710.2,1315.5 1710.9,1318.5 1711.6,1314.8 1712.3,1317.2 1713.0,1316.8 1713.7,1315.7 1714.4,1316.3 1715.1,1316.1 1715.8,1318.8 1716.5,1317.9 1717.2,1320.0 1717.9,1317.4 1718.6,1317.7 1719.3,1316.6 1720.0,1316.1 1720.7,1319.0 1721.4,1316.1 1722.1,1316.9 1722.8,1316.4 1723.5,1317.2 1724.2,1316.4 1724.9,1317.2 1725.6,1315.1 1726.3,1316.4 1727.0,1318.1 1727.7,1315.3 1728.4,1315.8 1729.1,1318.1 1729.8,1317.0 1730.5,1317.8 1731.2,1314.0 1731.9,1316.7 1732.6,1315.1 1733.3,1315.0 1734.0,1317.0 1734.7,1317.9 1735.4,1314.8 1736.1,1315.3 1736.8,1315.9 1737.5,1311.2 1738.2,1315.0 1738.9,1319.2 1739.6,1317.2 1740.3,1316.1 1741.0,1316.0 1741.7,1319.2 1742.4,1319.1 1743.1,1316.0 1743.8,1317.0 1744.5,1317.2 1745.2,1315.2 1745.9,1315.9 1746.6,1318.1 1747.3,1315.7 1748.0,1316.0 1748.7,1315.0 1749.4,1315.6 1750.1,1317.3 1750.8,1315.5 1751.5,1312.3 1752.2,1316.2 1752.9,1318.5 1753.6,1316.6 1754.3,1315.8 1755.0,1316.6 1755.7,1316.9 1756.4,1316.4 1757.1,1314.2 1757.8,1316.5 1758.5,1315.9 1759.2,1317.0 1759.9,1314.3 1760.6,1317.0 1761.3,1315.0 1762.0,1313.4 1762.7,1316.7 1763.4,1314.2 1764.1,1314.9 1764.8,1314.0 1765.5,1315.0 1766.2,1314.6 1766.9,1314.3 1767.6,1313.5 1768.3,1310.6 1769.0,1310.5 1769.7,1312.7 1770.4,1311.6 1771.1,1313.5 1771.8,1313.6 1772.5,1312.1 1773.2,1313.0 1773.9,1313.2 1774.6,1313.9 1775.3,1314.9 1776.0,1312.8 1776.7,1317.2 1777.4,1314.7 1778.1,1315.3 1778.8,1317.9 1779.5,1317.2 1780.2,1316.6 1780.9,1313.6 1781.6,1315.2 1782.3,1316.6 1783.0,1315.8 1783.7,1317.6 1784.4,1314.3 1785.1,1316.9 1785.8,1315.3 1786.5,1315.4 1787.2,1315.9 1787.9,1317.8 1788.6,1316.4 1789.3,1317.1 1790.0,1317.0 1790.7,1317.9 1791.4,1314.2 1792.1,1317.0 1792.8,1317.0 1793.5,1320.7 1794.2,1316.5 1794.9,1317.1 1795.6,1315.8 1796.3,1317.3 1797.0,1317.2 1797.7,1316.1 1798.4,1316.3 1799.1,1316.8 1799.8,1318.9 1800.5,1315.5 1801.2,1317.8 1801.9,1316.4 1802.6,1319.0 1803.3,1319.8 1804.0,1316.4 1804.7,1316.1 1805.4,1319.7 1806.1,1317.6 1806.8,1317.5 1807.5,1316.4 1808.2,1316.7 1808.9,1317.8 1809.6,1317.6 1810.3,1315.9 1811.0,1318.3 1811.7,1317.2 1812.4,1315.8 1813.1,1318.0 1813.8,1316.7 1814.5,1317.8 1815.2,1316.2 1815.9,1317.3 1816.6,1315.0 1817.3,1317.3 1818.0,1315.1 1818.7,1317.1 1819.4,1313.9 1820.1,1316.8 1820.8,1317.7 1821.5,1318.5 1822.2,1318.3 1822.9,1315.6 1823.6,1318.7 1824.3,1318.8 1825.0,1315.5 1825.7,1316.0 1826.4,1316.2 1827.1,1316.9 1827.8,1317.1 1828.5,1314.0 1829.2,1317.6 1829.9,1316.6 1830.6,1315.7 1831.3,1318.0 1832.0,1316.5 1832.7,1318.2 1833.4,1317.5 1834.1,1316.5 1834.8,1318.2 1835.5,1317.8 1836.2,1316.2 1836.9,1315.0 1837.6,1316.2 1838.3,1317.5 1839.0,1316.5 1839.7,1318.8 1840.4,1317.1 1841.1,1317.0 1841.8,1317.2 1842.5,1315.7 1843.2,1316.6 1843.9,1315.9 1844.6,1316.0 1845.3,1314.6 1846.0,1317.5 1846.7,1316.1 1847.4,1316.4 1848.1,1314.8 1848.8,1315.8 1849.5,1317.4 1850.2,1314.9 1850.9,1315.8 1851.6,1318.1 1852.3,1316.2 1853.0,1315.8 1853.7,1317.5 1854.4,1314.1 1855.1,1316.6 1855.8,1314.6 1856.5,1314.8 1857.2,1314.8 1857.9,1315.5 1858.6,1315.3 1859.3,1315.3 1860.0,1315.3 1860.7,1316.0 1861.4,1316.0 1862.1,1314.4 1862.8,1314.0 1863.5,1312.2 1864.2,1310.8 1864.9,1312.2 1865.6,1310.9 1866.3,1311.4 1867.0,1306.4 1867.7,1311.9 1868.4,1306.6 1869.1,1305.7 1869.8,1307.9 1870.5,1304.6 1871.2,1305.1 1871.9,1303.1 1872.6,1303.7 1873.3,1303.2 1874.0,1305.9 1874.7,1306.5 1875.4,1306.4 1876.1,1308.9 1876.8,1309.7 1877.5,1308.8 1878.2,1309.3 1878.9,1310.0 1879.6,1310.4 1880.3,1313.1 1881.0,1312.5 1881.7,1312.4 1882.4,1311.0 1883.1,1314.4 1883.8,1313.7 1884.5,1309.8 1885.2,1314.8 1885.9,1316.7 1886.6,1316.7 1887.3,1313.9 1888.0,1315.6 1888.7,1316.7 1889.4,1315.5 1890.1,1317.1 1890.8,1316.7 1891.5,1317.1 1892.2,1316.4 1892.9,1316.9 1893.6,1317.2 1894.3,1315.0 1895.0,1315.6 1895.7,1317.4 1896.4,1318.8 1897.1,1317.2 1897.8,1317.3 1898.5,1317.1 1899.2,1316.4 1899.9,1316.1 1900.6,1318.0 1901.3,1317.9 1902.0,1318.9 1902.7,1317.3 1903.4,1317.2 1904.1,1316.9 1904.8,1317.1 1905.5,1313.4 1906.2,1319.0 1906.9,1319.9 1907.6,1315.9 1908.3,1317.5 1909.0,1318.1 1909.7,1316.2 1910.4,1316.6 1911.1,1316.8 1911.8,1314.5 1912.5,1318.1 1913.2,1317.3 1913.9,1317.2 1914.6,1317.5 1915.3,1317.7 1916.0,1320.1 1916.7,1317.6 1917.4,1318.4 1918.1,1316.8 1918.8,1317.8 1919.5,1317.1 1920.2,1317.3 1920.9,1316.4 1921.6,1316.5 1922.3,1318.0 1923.0,1318.3 1923.7,1318.0 1924.4,1316.7 1925.1,1317.9 1925.8,1314.6 1926.5,1318.6 1927.2,1317.5 1927.9,1317.8 1928.6,1318.2 1929.3,1317.0 1930.0,1318.6 1930.7,1317.0 1931.4,1318.2 1932.1,1317.1 1932.8,1317.9 1933.5,1319.2 1934.2,1316.8 1934.9,1316.9 1935.6,1317.2 1936.3,1317.9 1937.0,1320.8 1937.7,1315.7 1938.4,1315.2 1939.1,1316.8 1939.8,1315.8 1940.5,1317.0 1941.2,1317.6 1941.9,1316.5 1942.6,1316.8 1943.3,1315.5 1944.0,1317.8 1944.7,1316.8 1945.4,1318.9 1946.1,1318.8 1946.8,1316.6 1947.5,1317.2 1948.2,1320.7 1948.9,1323.1 1949.6,1315.7 1950.3,1317.5 1951.0,1319.8 1951.7,1317.5 1952.4,1317.9 1953.1,1320.3 1953.8,1314.3 1954.5,1318.7 1955.2,1317.9 1955.9,1317.8 1956.6,1320.5 1957.3,1318.5 1958.0,1315.4 1958.7,1318.1 1959.4,1316.9 1960.1,1317.8 1960.8,1316.7 1961.5,1316.5 1962.2,1318.6 1962.9,1317.5 1963.6,1317.2 1964.3,1317.2 1965.0,1317.6 1965.7,1317.4 1966.4,1314.7 1967.1,1316.4 1967.8,1317.1 1968.5,1316.9 1969.2,1318.8 1969.9,1316.1 1970.6,1319.4 1971.3,1317.2 1972.0,1317.2 1972.7,1316.3 1973.4,1316.1 1974.1,1318.3 1974.8,1316.2 1975.5,1316.1 1976.2,1317.3 1976.9,1317.6 1977.6,1314.0 1978.3,1314.3 1979.0,1313.6 1979.7,1314.4 1980.4,1312.8 1981.1,1305.6 1981.8,1298.6 1982.5,1287.5 1983.2,1273.6 1983.9,1262.7 1984.6,1266.2 1985.3,1278.6 1986.0,1286.7 1986.7,1293.6 1987.4,1295.9 1988.1,1293.5 1988.8,1287.9 1989.5,1281.4 1990.2,1283.3 1990.9,1285.6 1991.6,1298.1 1992.3,1304.7 1993.0,1303.5 1993.7,1304.5 1994.4,1309.2 1995.1,1312.2 1995.8,1312.4 1996.5,1313.2 1997.2,1312.8 1997.9,1316.5 1998.6,1316.2 1999.3,1316.4 2000.0,1315.0 2000.7,1319.1 2001.4,1317.5 2002.1,1319.2 2002.8,1317.2 2003.5,1317.2 2004.2,1315.3 2004.9,1318.3 2005.6,1317.3 2006.3,1316.8 2007.0,1319.5 2007.7,1319.7 2008.4,1317.2 2009.1,1316.6 2009.8,1319.1 2010.5,1316.8 2011.2,1321.1 2011.9,1317.7 2012.6,1319.0 2013.3,1316.4 2014.0,1317.9 2014.7,1319.2 2015.4,1318.4 2016.1,1317.3 2016.8,1320.8 2017.5,1318.8 2018.2,1317.7 2018.9,1317.3 2019.6,1317.7 2020.3,1319.6 2021.0,1317.1 2021.7,1318.1 2022.4,1317.1 2023.1,1319.5 2023.8,1317.9 2024.5,1319.1 2025.2,1318.7 2025.9,1317.4 2026.6,1318.9 2027.3,1319.2 2028.0,1316.8 2028.7,1318.9 2029.4,1322.2 2030.1,1317.8 2030.8,1320.3 2031.5,1316.6 2032.2,1318.7 2032.9,1317.5 2033.6,1319.0 2034.3,1318.1 2035.0,1316.8 2035.7,1319.4 2036.4,1317.9 2037.1,1317.0 2037.8,1318.3 2038.5,1317.1 2039.2,1318.6 2039.9,1318.1 2040.6,1317.8 2041.3,1319.0 2042.0,1316.7 2042.7,1319.3 2043.4,1315.9 2044.1,1320.1 2044.8,1318.4 2045.5,1317.9 2046.2,1317.4 2046.9,1318.9 2047.6,1315.1 2048.3,1318.0 2049.0,1319.4 2049.7,1317.7 2050.4,1318.0 2051.1,1318.7 2051.8,1319.5 2052.5,1318.1 2053.2,1318.4 2053.9,1318.3 2054.6,1319.1 2055.3,1320.0 2056.0,1317.2 2056.7,1318.1 2057.4,1318.2 2058.1,1319.0 2058.8,1320.0 2059.5,1318.3 2060.2,1318.5 2060.9,1319.6 2061.6,1316.8 2062.3,1317.4 2063.0,1317.8 2063.7,1318.3 2064.4,1318.6 2065.1,1317.7 2065.8,1320.3 2066.5,1317.5 2067.2,1318.1 2067.9,1319.6 2068.6,1319.2 2069.3,1318.3 2070.0,1318.7 2070.7,1319.3 2071.4,1318.3 2072.1,1319.1 2072.8,1317.2 2073.5,1318.4 2074.2,1316.4 2074.9,1317.3 2075.6,1317.0 2076.3,1319.8 2077.0,1317.8 2077.7,1318.7 2078.4,1317.2 2079.1,1319.8 2079.8,1318.0 2080.5,1317.3 2081.2,1319.3 2081.9,1316.4 2082.6,1319.0 2083.3,1321.4 2084.0,1317.4 2084.7,1318.4 2085.4,1316.5 2086.1,1318.3 2086.8,1315.8 2087.5,1319.0 2088.2,1316.0 2088.9,1316.2 2089.6,1316.8 2090.3,1316.5 2091.0,1318.0 2091.7,1319.3 2092.4,1317.8 2093.1,1316.9 2093.8,1317.3 2094.5,1318.4 2095.2,1315.4 2095.9,1319.0 2096.6,1318.8 2097.3,1315.4 2098.0,1319.7 2098.7,1316.4 2099.4,1318.0 2100.1,1319.7 2100.8,1316.4 2101.5,1316.1 2102.2,1317.0 2102.9,1317.0 2103.6,1318.1 2104.3,1320.3 2105.0,1317.7 2105.7,1317.7 2106.4,1318.1 2107.1,1316.9 2107.8,1318.7 2108.5,1318.3 2109.2,1317.1 2109.9,1319.3 2110.6,1316.8 2111.3,1319.1 2112.0,1317.4 2112.7,1318.7 2113.4,1318.9 2114.1,1319.3 2114.8,1320.0 2115.5,1317.3 2116.2,1321.7 2116.9,1318.8 2117.6,1317.4 2118.3,1316.7 2119.0,1321.1 2119.7,1322.0 2120.4,1318.3 2121.1,1319.2 2121.8,1319.9 2122.5,1318.5 2123.2,1317.9 2123.9,1318.3 2124.6,1319.3 2125.3,1318.4 2126.0,1316.9 2126.7,1319.2 2127.4,1316.3 2128.1,1317.5 2128.8,1319.8 2129.5,1318.6 2130.2,1318.6 2130.9,1318.5 2131.6,1319.6 2132.3,1318.3 2133.0,1316.1 2133.7,1318.7 2134.4,1311.4 2135.1,1316.0 2135.8,1320.2 2136.5,1319.6 2137.2,1317.8 2137.9,1318.3 2138.6,1318.5 2139.3,1319.6 2140.0,1317.5 2140.7,1317.3 2141.4,1317.6 2142.1,1318.6 2142.8,1318.7 2143.5,1317.9 2144.2,1319.3 2144.9,1317.2 2145.6,1318.3 2146.3,1317.6 2147.0,1317.2 2147.7,1319.8 2148.4,1318.0 2149.1,1317.6 2149.8,1318.4 2150.5,1317.2 2151.2,1319.1 2151.9,1319.4 2152.6,1319.6 2153.3,1317.2 2154.0,1319.8 2154.7,1324.4 2155.4,1318.2 2156.1,1319.9 2156.8,1320.2 2157.5,1316.8 2158.2,1321.7 2158.9,1319.3 2159.6,1319.5 2160.3,1320.4 2161.0,1319.0 2161.7,1318.5 2162.4,1319.1 2163.1,1318.0 2163.8,1319.0 2164.5,1316.1 2165.2,1321.2 2165.9,1317.8 2166.6,1319.1 2167.3,1318.4 2168.0,1318.6 2168.7,1318.6 2169.4,1318.5 2170.1,1316.5 2170.8,1317.8 2171.5,1319.8 2172.2,1317.2 2172.9,1317.2 2173.6,1320.9 2174.3,1319.9 2175.0,1320.3 2175.7,1318.4 2176.4,1318.8 2177.1,1319.3 2177.8,1319.1 2178.5,1318.3 2179.2,1316.7 2179.9,1317.6 2180.6,1316.7 2181.3,1320.3 2182.0,1318.0 2182.7,1318.2 2183.4,1318.8 2184.1,1318.5 2184.8,1319.1 2185.5,1317.7 2186.2,1316.6 2186.9,1320.5 2187.6,1317.6 2188.3,1317.9 2189.0,1317.5 2189.7,1317.8 2190.4,1318.4 2191.1,1319.3 2191.8,1317.2 2192.5,1317.2 2193.2,1317.6 2193.9,1319.8 2194.6,1317.0 2195.3,1318.5 2196.0,1319.2 2196.7,1316.8 2197.4,1318.5 2198.1,1318.6 2198.8,1317.5 2199.5,1318.2 2200.2,1319.6 2200.9,1318.7 2201.6,1317.9 2202.3,1318.2 2203.0,1318.9 2203.7,1319.9 2204.4,1319.3 2205.1,1321.3 2205.8,1320.2 2206.5,1316.6 2207.2,1316.7 2207.9,1315.7 2208.6,1319.3 2209.3,1315.7 2210.0,1318.3 2210.7,1319.2 2211.4,1316.7 2212.1,1317.6 2212.8,1318.0 2213.5,1319.2 2214.2,1316.5 2214.9,1318.7 2215.6,1319.1 2216.3,1318.4 2217.0,1321.2 2217.7,1319.7 2218.4,1318.5 2219.1,1318.2 2219.8,1317.8 2220.5,1318.9 2221.2,1317.8 2221.9,1318.8 2222.6,1318.2 2223.3,1319.3 2224.0,1317.0 2224.7,1317.9 2225.4,1318.1 2226.1,1318.0 2226.8,1318.6 2227.5,1317.5 2228.2,1320.1 2228.9,1318.4 2229.6,1316.5 2230.3,1313.6 2231.0,1312.4 2231.7,1314.1 2232.4,1312.4 2233.1,1312.9 2233.8,1312.5 2234.5,1314.7 2235.2,1315.1 2235.9,1312.9 2236.6,1314.9 2237.3,1314.4 2238.0,1313.3 2238.7,1315.6 2239.4,1314.7 2240.1,1315.5 2240.8,1318.1 2241.5,1317.2 2242.2,1317.4 2242.9,1316.0 2243.6,1315.5 2244.3,1318.6 2245.0,1317.1 2245.7,1317.7 2246.4,1317.4 2247.1,1318.0 2247.8,1320.8 2248.5,1317.7 2249.2,1317.8 2249.9,1318.4 2250.6,1318.5 2251.3,1316.8 2252.0,1316.2 2252.7,1317.6 2253.4,1318.0 2254.1,1317.4"/>
<polyline stroke="#ff0000" points="131.0,1070.0 131.7,1071.0 132.4,1070.5 133.1,1070.3 133.8,1071.1 134.5,1067.7 135.2,1068.1 135.9,1067.1 136.6,1068.2 137.3,1069.3 138.0,1067.8 138.7,1068.2 139.4,1065.1 140.1,1067.2 140.8,1065.7 141.5,1068.4 142.2,1067.0 142.9,1066.7 143.6,1065.1 144.3,1065.4 145.0,1065.0 145.7,1063.3 146.4,1062.6 147.1,1062.5 147.8,1065.4 148.5,1060.7 149.2,1060.4 149.9,1059.2 150.6,1060.1 151.3,1056.6 152.0,1058.4 152.7,1055.8 153.4,1054.8 154.1,1051.6 154.8,1052.6 155.5,1050.9 156.2,1049.5 156.9,1045.2 157.6,1043.5 158.3,1040.7 159.0,1032.3 159.7,1019.3 160.4,1013.9 161.1,1003.7 161.8,1000.7 162.5,1003.5 163.2,1009.1 163.9,1014.7 164.6,1022.5 165.3,1027.8 166.0,1029.6 166.7,1032.4 167.4,1034.2 168.1,1034.0 168.8,1037.3 169.5,1039.1 170.2,1039.8 170.9,1041.2 171.6,1043.1 172.3,1045.0 173.0,1043.8 173.7,1044.8 174.4,1046.5 175.1,1045.8 175.8,1045.9 176.5,1047.5 177.2,1049.7 177.9,1048.9 178.6,1048.7 179.3,1048.8 180.0,1051.0 180.7,1051.6 181.4,1052.0 182.1,1053.1 182.8,1053.9 183.5,1051.0 184.2,1053.5 184.9,1051.7 185.6,1051.7 186.3,1052.5 187.0,1053.9 187.7,1054.0 188.4,1053.9 189.1,1054.1 189.8,1054.1 190.5,1051.2 191.2,1052.4 191.9,1053.8 192.6,1053.9 193.3,1051.5 194.0,1054.6 194.7,1052.8 195.4,1053.1 196.1,1053.7 196.8,1054.3 197.5,1051.8 198.2,1054.7 198.9,1053.8 199.6,1052.9 200.3,1053.7 201.0,1051.6 201.7,1053.6 202.4,1054.7 203.1,1053.9 203.8,1054.5 204.5,1055.0 205.2,1055.4 205.9,1056.7 206.6,1055.7 207.3,1055.7 208.0,1056.8 208.7,1058.7 209.4,1056.0 210.1,1057.1 210.8,1054.7 211.5,1058.0 212.2,1057.1 212.9,1057.7 213.6,1055.7 214.3,1054.1 215.0,1055.7 215.7,1055.0 216.4,1052.7 217.1,1051.8 217.8,1054.0 218.5,1055.0 219.2,1059.6 219.9,1057.3 220.6,1059.1 221.3,1060.8 222.0,1060.2 222.7,1062.0 223.4,1065.8 224.1,1064.4 224.8,1064.3 225.5,1064.0 226.2,1066.4 226.9,1066.7 227.6,1066.4 228.3,1065.9 229.0,1066.8 229.7,1067.1 230.4,1066.0 231.1,1067.6 231.8,1064.6 232.5,1063.3 233.2,1066.9 233.9,1067.2 234.6,1066.1 235.3,1067.9 236.0,1068.8 236.7,1068.1 237.4,1068.0 238.1,1068.7 238.8,1068.3 239.5,1064.0 240.2,1067.7 240.9,1069.5 241.6,1066.8 242.3,1068.2 243.0,1067.7 243.7,1067.2 244.4,1067.2 245.1,1068.5 245.8,1068.8 246.5,1066.6 247.2,1066.9 247.9,1068.3 248.6,1069.1 249.3,1069.9 250.0,1070.6 250.7,1069.9 251.4,1070.3 252.1,1070.0 252.8,1068.2 253.5,1069.3 254.2,1064.8 254.9,1066.7 255.6,1067.6 256.3,1072.0 257.0,1068.4 257.7,1067.2 258.4,1069.2 259.1,1071.7 259.8,1072.8 260.5,1070.6 261.2,1070.0 261.9,1070.3 262.6,1071.9 263.3,1070.5 264.0,1070.6 264.7,1071.8 265.4,1072.1 266.1,1070.7 266.8,1071.4 267.5,1071.5 268.2,1070.5 268.9,1072.7 269.6,1071.3 270.3,1070.9 271.0,1069.8 271.7,1070.3 272.4,1073.7 273.1,1070.7 273.8,1072.6 274.5,1071.8 275.2,1072.9 275.9,1073.1 276.6,1071.7 277.3,1072.3 278.0,1072.9 278.7,1073.0 279.4,1075.3 280.1,1072.7 280.8,1073.9 281.5,1074.8 282.2,1074.1 282.9,1072.7 283.6,1074.1 284.3,1073.8 285.0,1074.4 285.7,1076.1 286.4,1073.8 287.1,1070.9 287.8,1073.3 288.5,1074.0 289.2,1073.8 289.9,1076.4 290.6,1075.0 291.3,1074.0 292.0,1076.9 292.7,1073.2 293.4,1075.7 294.1,1075.7 294.8,1075.0 295.5,1073.5 296.2,1072.9 296.9,1071.4 297.6,1072.9 298.3,1065.4 299.0,1065.3 299.7,1064.5 300.4,1063.3 301.1,1063.0 301.8,1066.9 302.5,1068.7 303.2,1070.0 303.9,1075.4 304.6,1075.4 305.3,1074.2 306.0,1076.9 306.7,1076.7 307.4,1079.0 308.1,1080.5 308.8,1079.2 309.5,1081.5 310.2,1081.1 310.9,1080.0 311.6,1078.9 312.3,1080.3 313.0,1078.7 313.7,1081.8 314.4,1080.9 315.1,1082.5 315.8,1081.5 316.5,1079.1 317.2,1082.2 317.9,1082.7 318.6,1083.7 319.3,1080.9 320.0,1081.1 320.7,1082.4 321.4,1081.3 322.1,1081.1 322.8,1081.5 323.5,1085.9 324.2,1082.4 324.9,1082.1 325.6,1082.9 326.3,1083.5 327.0,1085.2 327.7,1084.9 328.4,1084.9 329.1,1084.2 329.8,1084.4 330.5,1083.7 331.2,1082.8 331.9,1084.0 332.6,1084.3 333.3,1086.1 334.0,1084.7 334.7,1085.1 335.4,1085.6 336.1,1083.8 336.8,1085.5 337.5,1086.1 338.2,1086.7 338.9,1086.5 339.6,1087.2 340.3,1086.4 341.0,1086.2 341.7,1084.0 342.4,1085.8 343.1,1088.3 343.8,1086.7 344.5,1087.6 345.2,1086.5 345.9,1086.1 346.6,1089.3 347.3,1087.5 348.0,1088.9 348.7,1087.9 349.4,1087.0 350.1,1084.8 350.8,1087.6 351.5,1084.8 352.2,1085.1 352.9,1089.2 353.6,1088.7 354.3,1088.7 355.0,1088.1 355.7,1088.1 356.4,1088.7 357.1,1088.4 357.8,1086.4 358.5,1089.3 359.2,1085.7 359.9,1089.6 360.6,1087.9 361.3,1089.7 362.0,1090.2 362.7,1087.9 363.4,1089.9 364.1,1089.9 364.8,1088.3 365.5,1088.6 366.2,1089.4 366.9,1086.7 367.6,1088.9 368.3,1089.7 369.0,1089.0 369.7,1087.8 370.4,1089.3 371.1,1091.5 371.8,1091.4 372.5,1089.8 373.2,1089.1 373.9,1090.1 374.6,1090.2 375.3,1089.5 376.0,1090.0 376.7,1091.2 377.4,1091.7 378.1,1087.9 378.8,1091.9 379.5,1091.1 380.2,1092.3 380.9,1091.1 381.6,1091.7 382.3,1093.2 383.0,1088.1 383.7,1093.4 384.4,1091.9 385.1,1089.7 385.8,1088.9 386.5,1092.4 387.2,1091.0 387.9,1093.4 388.6,1090.3 389.3,1092.4 390.0,1093.8 390.7,1093.0 391.4,1093.7 392.1,1093.9 392.8,1093.4 393.5,1094.1 394.2,1094.2 394.9,1091.8 395.6,1093.2 396.3,1093.4 397.0,1093.2 397.7,1091.9 398.4,1094.8 399.1,1094.3 399.8,1094.2 400.5,1095.8 401.2,1093.4 401.9,1093.7 402.6,1093.6 403.3,1093.9 404.0,1093.7 404.7,1092.2 405.4,1094.8 406.1,1095.6 406.8,1095.8 407.5,1093.3 408.2,1094.3 408.9,1096.6 409.6,1094.4 410.3,1094.9 411.0,1094.3 411.7,1095.7 412.4,1095.6 413.1,1093.5 413.8,1095.1 414.5,1095.0 415.2,1093.1 415.9,1094.0 416.6,1093.7 417.3,1094.1 418.0,1093.0 418.7,1093.5 419.4,1095.7 420.1,1091.9 420.8,1093.1 421.5,1094.9 422.2,1096.4 422.9,1093.6 423.6,1093.0 424.3,1094.4 425.0,1094.8 425.7,1095.0 426.4,1093.8 427.1,1094.3 427.8,1094.8 428.5,1093.6 429.2,1093.1 429.9,1095.6 430.6,1093.7 431.3,1095.3 432.0,1095.1 432.7,1093.4 433.4,1095.7 434.1,1093.5 434.8,1095.2 435.5,1096.2 436.2,1093.7 436.9,1093.4 437.6,1093.4 438.3,1097.1 439.0,1094.1 439.7,1093.0 440.4,1095.4 441.1,1094.3 441.8,1095.5 442.5,1093.3 443.2,1091.9 443.9,1093.6 444.6,1093.3 445.3,1092.6 446.0,1093.2 446.7,1093.4 447.4,1095.4 448.1,1098.3 448.8,1095.1 449.5,1093.9 450.2,1089.4 450.9,1094.8 451.6,1095.0 452.3,1095.6 453.0,1094.4 453.7,1094.3 454.4,1094.8 455.1,1093.4 455.8,1093.5 456.5,1095.2 457.2,1093.0 457.9,1094.4 458.6,1095.4 459.3,1094.7 460.0,1095.0 460.7,1090.3 461.4,1094.3 462.1,1094.1 462.8,1095.1 463.5,1094.9 464.2,1094.5 464.9,1096.6 465.6,1095.1 466.3,1094.1 467.0,1093.8 467.7,1094.4 468.4,1091.6 469.1,1096.3 469.8,1095.1 470.5,1094.1 471.2,1093.7 471.9,1093.2 472.6,1094.1 473.3,1096.0 474.0,1095.4 474.7,1094.4 475.4,1094.6 476.1,1092.3 476.8,1095.3 477.5,1094.2 478.2,1096.0 478.9,1094.2 479.6,1093.9 480.3,1094.7 481.0,1093.7 481.7,1096.0 482.4,1094.7 483.1,1094.8 483.8,1092.1 484.5,1094.0 485.2,1094.9 485.9,1094.6 486.6,1097.8 487.3,1093.2 488.0,1094.8 488.7,1092.0 489.4,1093.9 490.1,1094.1 490.8,1095.8 491.5,1094.4 492.2,1095.4 492.9,1094.0 493.6,1093.9 494.3,1092.1 495.0,1095.2 495.7,1096.6 496.4,1094.0 497.1,1095.9 497.8,1095.2 498.5,1093.4 499.2,1093.4 499.9,1093.1 500.6,1093.7 501.3,1095.4 502.0,1097.0 502.7,1092.6 503.4,1095.5 504.1,1092.5 504.8,1093.5 505.5,1093.2 506.2,1093.3 506.9,1091.9 507.6,1091.3 508.3,1095.1 509.0,1091.6 509.7,1091.3 510.4,1089.1 511.1,1091.4 511.8,1091.8 512.5,1090.3 513.2,1089.4 513.9,1084.1 514.6,1077.2 515.3,1069.6 516.0,1062.0 516.7,1057.7 517.4,1058.1 518.1,1060.3 518.8,1067.1 519.5,1075.9 520.2,1082.1 520.9,1084.6 521.6,1084.5 522.3,1090.8 523.0,1091.0 523.7,1092.9 524.4,1092.1 525.1,1091.2 525.8,1090.9 526.5,1093.3 527.2,1092.8 527.9,1091.8 528.6,1093.0 529.3,1092.4 530.0,1094.0 530.7,1092.7 531.4,1091.8 532.1,1093.1 532.8,1092.5 533.5,1094.8 534.2,1094.6 534.9,1091.5 535.6,1094.6 536.3,1092.6 537.0,1093.1 537.7,1092.9 538.4,1091.4 539.1,1093.5 539.8,1092.0 540.5,1090.5 541.2,1092.3 541.9,1091.4 542.6,1088.7 543.3,1088.6 544.0,1088.2 544.7,1088.5 545.4,1086.0 546.1,1081.3 546.8,1079.9 547.5,1076.3 548.2,1072.8 548.9,1065.7 549.6,1062.5 550.3,1058.5 551.0,1057.9 551.7,1059.6 552.4,1060.0 553.1,1065.3 553.8,1070.4 554.5,1075.1 555.2,1077.8 555.9,1082.5 556.6,1084.6 557.3,1085.8 558.0,1088.8 558.7,1093.0 559.4,1089.6 560.1,1091.9 560.8,1094.2 561.5,1090.6 562.2,1093.5 562.9,1094.0 563.6,1093.2 564.3,1090.5 565.0,1093.2 565.7,1095.1 566.4,1092.6 567.1,1093.6 567.8,1091.6 568.5,1094.3 569.2,1094.4 569.9,1092.0 570.6,1093.0 571.3,1094.5 572.0,1093.4 572.7,1092.6 573.4,1091.0 574.1,1094.3 574.8,1096.0 575.5,1093.2 576.2,1094.1 576.9,1093.9 577.6,1093.2 578.3,1093.2 579.0,1093.0 579.7,1089.9 580.4,1095.0 581.1,1094.8 581.8,1091.3 582.5,1092.2 583.2,1088.0 583.9,1086.9 584.6,1086.0 585.3,1079.9 586.0,1075.0 586.7,1070.7 587.4,1060.5 588.1,1056.2 588.8,1046.9 589.5,1040.2 590.2,1038.4 590.9,1038.2 591.6,1043.0 592.3,1052.1 593.0,1058.2 593.7,1067.0 594.4,1073.6 595.1,1078.4 595.8,1084.7 596.5,1084.4 597.2,1087.3 597.9,1089.2 598.6,1089.2 599.3,1090.3 600.0,1091.2 600.7,1094.1 601.4,1095.4 602.1,1094.0 602.8,1092.0 603.5,1093.4 604.2,1094.2 604.9,1094.2 605.6,1093.3 606.3,1095.4 607.0,1092.7 607.7,1094.3 608.4,1095.3 609.1,1096.0 609.8,1095.6 610.5,1095.3 611.2,1095.2 611.9,1094.7 612.6,1095.6 613.3,1095.3 614.0,1095.0 614.7,1097.0 615.4,1097.0 616.1,1095.2 616.8,1096.4 617.5,1097.1 618.2,1096.1 618.9,1092.7 619.6,1096.4 620.3,1093.9 621.0,1093.6 621.7,1096.5 622.4,1094.7 623.1,1097.5 623.8,1095.3 624.5,1097.2 625.2,1097.1 625.9,1098.2 626.6,1095.0 627.3,1095.5 628.0,1096.3 628.7,1096.3 629.4,1094.8 630.1,1095.3 630.8,1094.5 631.5,1098.6 632.2,1095.9 632.9,1096.0 633.6,1095.3 634.3,1096.0 635.0,1096.9 635.7,1095.6 636.4,1095.9 637.1,1098.5 637.8,1096.2 638.5,1096.2 639.2,1095.5 639.9,1095.9 640.6,1095.1 641.3,1096.2 642.0,1095.1 642.7,1095.0 643.4,1095.4 644.1,1094.6 644.8,1092.6 645.5,1098.6 646.2,1095.0 646.9,1093.7 647.6,1096.7 648.3,1095.4 649.0,1097.7 649.7,1095.8 650.4,1096.3 651.1,1094.2 651.8,1093.1 652.5,1094.5 653.2,1095.2 653.9,1097.0 654.6,1091.8 655.3,1092.2 656.0,1091.2 656.7,1089.7 657.4,1087.7 658.1,1087.4 658.8,1081.0 659.5,1076.8 660.2,1073.5 660.9,1075.0 661.6,1073.3 662.3,1078.9 663.0,1080.1 663.7,1081.7 664.4,1086.7 665.1,1088.9 665.8,1092.3 666.5,1088.2 667.2,1093.4 667.9,1093.8 668.6,1095.3 669.3,1093.2 670.0,1093.9 670.7,1097.2 671.4,1095.7 672.1,1093.5 672.8,1095.7 673.5,1094.5 674.2,1094.6 674.9,1094.1 675.6,1094.3 676.3,1095.0 677.0,1095.8 677.7,1095.7 678.4,1093.9 679.1,1094.8 679.8,1095.9 680.5,1093.9 681.2,1096.0 681.9,1095.6 682.6,1096.5 683.3,1096.5 684.0,1096.7 684.7,1095.8 685.4,1096.1 686.1,1095.0 686.8,1094.6 687.5,1096.8 688.2,1092.5 688.9,1096.9 689.6,1096.9 690.3,1094.8 691.0,1096.4 691.7,1094.8 692.4,1096.1 693.1,1094.8 693.8,1096.1 694.5,1095.9 695.2,1094.5 695.9,1098.0 696.6,1096.7 697.3,1093.8 698.0,1096.0 698.7,1095.1 699.4,1097.9 700.1,1095.4 700.8,1095.9 701.5,1095.2 702.2,1096.1 702.9,1094.7 703.6,1094.2 704.3,1094.6 705.0,1094.6 705.7,1095.7 706.4,1095.0 707.1,1094.2 707.8,1094.1 708.5,1093.3 709.2,1094.3 709.9,1091.6 710.6,1093.3 711.3,1094.5 712.0,1092.3 712.7,1088.7 713.4,1091.2 714.1,1089.1 714.8,1087.7 715.5,1087.0 716.2,1080.3 716.9,1076.4 717.6,1062.8 718.3,1041.5 719.0,1014.1 719.7,991.9 720.4,987.1 721.1,1001.4 721.8,1013.6 722.5,1026.6 723.2,1044.0 723.9,1062.4 724.6,1074.7 725.3,1083.2 726.0,1086.4 726.7,1090.7 727.4,1090.8 728.1,1090.9 728.8,1092.2 729.5,1093.0 730.2,1091.5 730.9,1090.4 731.6,1093.9 732.3,1091.8 733.0,1092.5 733.7,1096.8 734.4,1095.0 735.1,1096.5 735.8,1094.7 736.5,1097.0 737.2,1096.0 737.9,1094.6 738.6,1095.8 739.3,1097.3 740.0,1098.3 740.7,1096.2 741.4,1095.2 742.1,1094.7 742.8,1096.6 743.5,1097.1 744.2,1096.0 744.9,1095.7 745.6,1096.8 746.3,1096.5 747.0,1096.4 747.7,1094.4 748.4,1095.6 749.1,1100.9 749.8,1096.0 750.5,1098.8 751.2,1096.5 751.9,1095.8 752.6,1096.4 753.3,1096.8 754.0,1095.3 754.7,1096.4 755.4,1095.7 756.1,1097.8 756.8,1095.6 757.5,1096.3 758.2,1094.5 758.9,1094.6 759.6,1096.1 760.3,1095.1 761.0,1095.9 761.7,1096.5 762.4,1096.9 763.1,1094.6 763.8,1096.0 764.5,1097.0 765.2,1095.5 765.9,1094.7 766.6,1095.4 767.3,1098.1 768.0,1096.3 768.7,1098.0 769.4,1095.9 770.1,1095.7 770.8,1094.6 771.5,1095.9 772.2,1096.3 772.9,1098.3 773.6,1096.8 774.3,1097.5 775.0,1095.7 775.7,1095.7 776.4,1097.7 777.1,1097.8 777.8,1097.6 778.5,1097.6 779.2,1095.6 779.9,1098.7 780.6,1096.6 781.3,1097.6 782.0,1097.0 782.7,1094.1 783.4,1093.9 784.1,1093.6 784.8,1096.0 785.5,1097.3 786.2,1095.7 786.9,1098.6 787.6,1094.5 788.3,1095.2 789.0,1094.9 789.7,1095.9 790.4,1094.5 791.1,1095.6 791.8,1096.4 792.5,1095.1 793.2,1094.5 793.9,1095.0 794.6,1094.0 795.3,1094.1 796.0,1096.2 796.7,1095.5 797.4,1093.3 798.1,1094.6 798.8,1095.3 799.5,1095.5 800.2,1095.2 800.9,1095.4 801.6,1094.0 802.3,1093.8 803.0,1093.3 803.7,1094.6 804.4,1094.1 805.1,1092.7 805.8,1093.8 806.5,1091.3 807.2,1090.2 807.9,1089.4 808.6,1090.2 809.3,1091.6 810.0,1088.8 810.7,1087.7 811.4,1090.9 812.1,1090.2 812.8,1089.7 813.5,1090.4 814.2,1088.0 814.9,1087.0 815.6,1086.9 816.3,1085.4 817.0,1085.9 817.7,1087.9 818.4,1088.6 819.1,1087.5 819.8,1086.3 820.5,1085.6 821.2,1086.2 821.9,1083.8 822.6,1086.8 823.3,1087.3 824.0,1086.5 824.7,1086.9 825.4,1085.3 826.1,1088.5 826.8,1088.9 827.5,1085.2 828.2,1088.2 828.9,1089.7 829.6,1091.6 830.3,1089.1 831.0,1091.6 831.7,1092.6 832.4,1091.9 833.1,1091.4 833.8,1091.5 834.5,1092.4 835.2,1091.8 835.9,1091.3 836.6,1092.3 837.3,1094.3 838.0,1095.0 838.7,1095.5 839.4,1094.5 840.1,1094.6 840.8,1095.2 841.5,1095.1 842.2,1096.5 842.9,1095.2 843.6,1097.7 844.3,1098.9 845.0,1095.0 845.7,1096.4 846.4,1094.7 847.1,1097.0 847.8,1096.7 848.5,1096.0 849.2,1095.1 849.9,1096.4 850.6,1100.0 851.3,1098.4 852.0,1097.0 852.7,1097.4 853.4,1096.6 854.1,1095.7 854.8,1096.2 855.5,1095.6 856.2,1097.5 856.9,1097.1 857.6,1097.0 858.3,1095.5 859.0,1095.2 859.7,1098.0 860.4,1096.4 861.1,1098.2 861.8,1096.0 862.5,1098.0 863.2,1097.1 863.9,1096.3 864.6,1096.3 865.3,1098.9 866.0,1097.7 866.7,1096.2 867.4,1096.6 868.1,1094.4 868.8,1097.7 869.5,1096.7 870.2,1093.6 870.9,1093.2 871.6,1087.7 872.3,1090.3 873.0,1086.7 873.7,1089.1 874.4,1090.5 875.1,1090.7 875.8,1089.1 876.5,1091.8 877.2,1093.7 877.9,1095.9 878.6,1095.7 879.3,1095.4 880.0,1096.9 880.7,1095.2 881.4,1099.2 882.1,1097.3 882.8,1095.8 883.5,1097.2 884.2,1098.3 884.9,1097.7 885.6,1099.5 886.3,1095.5 887.0,1099.0 887.7,1097.2 888.4,1098.3 889.1,1099.2 889.8,1098.2 890.5,1095.6 891.2,1096.8 891.9,1097.5 892.6,1094.9 893.3,1097.4 894.0,1098.6 894.7,1096.7 895.4,1097.9 896.1,1101.5 896.8,1096.6 897.5,1096.9 898.2,1097.1 898.9,1097.7 899.6,1096.9 900.3,1098.0 901.0,1097.4 901.7,1098.2 902.4,1097.3 903.1,1097.0 903.8,1096.0 904.5,1095.5 905.2,1096.7 905.9,1096.6 906.6,1097.3 907.3,1096.9 908.0,1095.8 908.7,1099.5 909.4,1097.2 910.1,1098.2 910.8,1095.5 911.5,1097.8 912.2,1097.9 912.9,1097.0 913.6,1095.4 914.3,1097.7 915.0,1095.3 915.7,1094.2 916.4,1091.6 917.1,1095.8 917.8,1095.0 918.5,1096.3 919.2,1095.9 919.9,1096.5 920.6,1092.6 921.3,1094.3 922.0,1093.8 922.7,1092.4 923.4,1091.7 924.1,1091.0 924.8,1091.2 925.5,1088.7 926.2,1088.0 926.9,1087.1 927.6,1079.9 928.3,1077.5 929.0,1067.2 929.7,1051.6 930.4,1021.9 931.1,982.9 931.8,938.8 932.5,923.9 933.2,942.9 933.9,965.6 934.6,976.7 935.3,986.4 936.0,1011.2 936.7,1033.7 937.4,1054.9 938.1,1068.6 938.8,1075.1 939.5,1080.5 940.2,1079.6 940.9,1081.2 941.6,1076.5 942.3,1074.2 943.0,1067.8 943.7,1061.8 944.4,1058.3 945.1,1059.4 945.8,1059.7 946.5,1063.2 947.2,1065.8 947.9,1068.5 948.6,1076.3 949.3,1079.4 950.0,1082.8 950.7,1087.7 951.4,1089.1 952.1,1088.7 952.8,1090.9 953.5,1093.6 954.2,1094.5 954.9,1094.2 955.6,1097.3 956.3,1094.8 957.0,1093.7 957.7,1093.1 958.4,1096.6 959.1,1094.5 959.8,1094.7 960.5,1094.3 961.2,1094.4 961.9,1095.0 962.6,1096.0 963.3,1096.1 964.0,1095.9 964.7,1096.6 965.4,1095.0 966.1,1094.3 966.8,1095.4 967.5,1093.0 968.2,1096.3 968.9,1096.2 969.6,1095.7 970.3,1093.7 971.0,1094.1 971.7,1094.4 972.4,1092.9 973.1,1092.4 973.8,1092.9 974.5,1092.8 975.2,1091.2 975.9,1092.5 976.6,1093.1 977.3,1090.4 978.0,1088.7 978.7,1087.7 979.4,1089.2 980.1,1086.9 980.8,1086.5 981.5,1084.8 982.2,1084.0 982.9,1085.9 983.6,1083.4 984.3,1083.5 985.0,1080.6 985.7,1085.3 986.4,1085.0 987.1,1082.3 987.8,1079.1 988.5,1079.6 989.2,1080.1 989.9,1082.5 990.6,1077.4 991.3,1083.9 992.0,1082.3 992.7,1083.9 993.4,1081.9 994.1,1083.9 994.8,1082.2 995.5,1080.9 996.2,1081.3 996.9,1081.9 997.6,1082.8 998.3,1082.3 999.0,1081.1 999.7,1082.8 1000.4,1081.0 1001.1,1079.6 1001.8,1083.2 1002.5,1081.4 1003.2,1080.8 1003.9,1079.9 1004.6,1080.8 1005.3,1083.2 1006.0,1081.2 1006.7,1083.8 1007.4,1081.2 1008.1,1082.5 1008.8,1081.2 1009.5,1080.6 1010.2,1080.6 1010.9,1080.7 1011.6,1079.6 1012.3,1079.6 1013.0,1081.4 1013.7,1082.4 1014.4,1081.1 1015.1,1080.9 1015.8,1079.8 1016.5,1082.1 1017.2,1082.0 1017.9,1079.4 1018.6,1080.8 1019.3,1080.3 1020.0,1078.9 1020.7,1082.5 1021.4,1081.9 1022.1,1080.9 1022.8,1082.1 1023.5,1079.9 1024.2,1080.7 1024.9,1081.9 1025.6,1080.0 1026.3,1080.7 1027.0,1079.1 1027.7,1081.0 1028.4,1081.5 1029.1,1079.0 1029.8,1079.2 1030.5,1079.9 1031.2,1081.6 1031.9,1079.3 1032.6,1078.9 1033.3,1077.9 1034.0,1081.1 1034.7,1077.9 1035.4,1079.4 1036.1,1081.1 1036.8,1079.5 1037.5,1079.1 1038.2,1080.3 1038.9,1077.9 1039.6,1081.5 1040.3,1079.6 1041.0,1078.5 1041.7,1078.9 1042.4,1078.5 1043.1,1077.8 1043.8,1076.0 1044.5,1076.0 1045.2,1072.7 1045.9,1074.7 1046.6,1071.2 1047.3,1072.6 1048.0,1073.7 1048.7,1076.1 1049.4,1075.4 1050.1,1078.2 1050.8,1077.4 1051.5,1079.4 1052.2,1082.9 1052.9,1084.7 1053.6,1083.4 1054.3,1084.2 1055.0,1081.6 1055.7,1082.6 1056.4,1085.1 1057.1,1081.3 1057.8,1084.3 1058.5,1083.9 1059.2,1085.0 1059.9,1086.8 1060.6,1087.6 1061.3,1087.7 1062.0,1084.2 1062.7,1083.8 1063.4,1083.8 1064.1,1082.4 1064.8,1080.7 1065.5,1076.2 1066.2,1075.3 1066.9,1072.8 1067.6,1068.4 1068.3,1063.2 1069.0,1057.2 1069.7,1052.1 1070.4,1043.6 1071.1,1041.0 1071.8,1036.8 1072.5,1034.3 1073.2,1030.2 1073.9,1031.4 1074.6,1035.7 1075.3,1042.3 1076.0,1045.7 1076.7,1050.8 1077.4,1055.1 1078.1,1060.2 1078.8,1063.3 1079.5,1066.4 1080.2,1069.3 1080.9,1070.3 1081.6,1071.1 1082.3,1072.8 1083.0,1073.4 1083.7,1075.4 1084.4,1076.6 1085.1,1075.2 1085.8,1073.2 1086.5,1077.0 1087.2,1076.6 1087.9,1075.8 1088.6,1076.8 1089.3,1079.3 1090.0,1075.4 1090.7,1075.4 1091.4,1076.0 1092.1,1071.5 1092.8,1073.2 1093.5,1073.1 1094.2,1070.6 1094.9,1068.5 1095.6,1066.4 1096.3,1066.1 1097.0,1069.9 1097.7,1068.2 1098.4,1071.2 1099.1,1070.1 1099.8,1074.1 1100.5,1076.6 1101.2,1078.8 1101.9,1078.5 1102.6,1082.4 1103.3,1086.2 1104.0,1086.5 1104.7,1086.0 1105.4,1088.8 1106.1,1086.3 1106.8,1089.6 1107.5,1089.8 1108.2,1089.0 1108.9,1095.0 1109.6,1088.4 1110.3,1090.3 1111.0,1092.7 1111.7,1091.9 1112.4,1091.5 1113.1,1092.3 1113.8,1090.6 1114.5,1092.0 1115.2,1088.2 1115.9,1091.1 1116.6,1091.2 1117.3,1091.7 1118.0,1091.2 1118.7,1092.6 1119.4,1091.3 1120.1,1093.1 1120.8,1091.9 1121.5,1093.2 1122.2,1092.4 1122.9,1093.3 1123.6,1092.9 1124.3,1091.7 1125.0,1092.7 1125.7,1091.0 1126.4,1092.6 1127.1,1093.0 1127.8,1092.3 1128.5,1092.4 1129.2,1093.8 1129.9,1094.1 1130.6,1094.4 1131.3,1092.1 1132.0,1092.3 1132.7,1093.7 1133.4,1093.9 1134.1,1090.8 1134.8,1095.6 1135.5,1094.3 1136.2,1091.6 1136.9,1094.3 1137.6,1092.6 1138.3,1092.9 1139.0,1092.0 1139.7,1092.2 1140.4,1092.7 1141.1,1093.3 1141.8,1091.9 1142.5,1093.2 1143.2,1092.4 1143.9,1097.0 1144.6,1088.5 1145.3,1092.6 1146.0,1095.2 1146.7,1091.5 1147.4,1091.9 1148.1,1093.3 1148.8,1092.9 1149.5,1092.2 1150.2,1093.9 1150.9,1092.1 1151.6,1093.5 1152.3,1096.4 1153.0,1092.1 1153.7,1093.2 1154.4,1093.6 1155.1,1093.8 1155.8,1094.3 1156.5,1092.6 1157.2,1095.1 1157.9,1094.6 1158.6,1095.9 1159.3,1094.7 1160.0,1095.0 1160.7,1090.4 1161.4,1093.3 1162.1,1096.0 1162.8,1094.3 1163.5,1093.4 1164.2,1094.7 1164.9,1094.0 1165.6,1094.4 1166.3,1094.2 1167.0,1094.5 1167.7,1095.7 1168.4,1094.2 1169.1,1094.4 1169.8,1093.0 1170.5,1094.2 1171.2,1093.0 1171.9,1091.5 1172.6,1091.7 1173.3,1090.5 1174.0,1089.4 1174.7,1087.5 1175.4,1084.3 1176.1,1086.1 1176.8,1089.0 1177.5,1088.1 1178.2,1088.9 1178.9,1089.1 1179.6,1090.2 1180.3,1091.1 1181.0,1094.8 1181.7,1094.8 1182.4,1094.0 1183.1,1092.9 1183.8,1094.2 1184.5,1095.6 1185.2,1092.8 1185.9,1098.0 1186.6,1095.1 1187.3,1094.3 1188.0,1096.1 1188.7,1093.8 1189.4,1095.6 1190.1,1093.3 1190.8,1096.5 1191.5,1094.5 1192.2,1096.5 1192.9,1097.2 1193.6,1096.2 1194.3,1095.3 1195.0,1095.0 1195.7,1094.0 1196.4,1095.4 1197.1,1096.7 1197.8,1097.9 1198.5,1097.5 1199.2,1097.7 1199.9,1095.8 1200.6,1095.9 1201.3,1094.7 1202.0,1095.8 1202.7,1095.3 1203.4,1096.3 1204.1,1097.5 1204.8,1096.6 1205.5,1096.4 1206.2,1097.6 1206.9,1098.6 1207.6,1098.2 1208.3,1095.0 1209.0,1099.0 1209.7,1096.6 1210.4,1095.5 1211.1,1096.8 1211.8,1098.4 1212.5,1094.2 1213.2,1098.8 1213.9,1097.6 1214.6,1098.1 1215.3,1095.9 1216.0,1096.9 1216.7,1096.2 1217.4,1098.9 1218.1,1099.7 1218.8,1098.1 1219.5,1096.9 1220.2,1099.2 1220.9,1098.8 1221.6,1099.2 1222.3,1099.6 1223.0,1097.3 1223.7,1098.0 1224.4,1098.8 1225.1,1098.4 1225.8,1098.3 1226.5,1100.8 1227.2,1097.6 1227.9,1099.2 1228.6,1097.5 1229.3,1099.8 1230.0,1097.9 1230.7,1097.1 1231.4,1099.2 1232.1,1098.4 1232.8,1097.9 1233.5,1098.1 1234.2,1097.7 1234.9,1099.0 1235.6,1098.8 1236.3,1100.4 1237.0,1097.7 1237.7,1100.1 1238.4,1099.1 1239.1,1096.9 1239.8,1100.0 1240.5,1096.1 1241.2,1099.2 1241.9,1096.4 1242.6,1098.9 1243.3,1099.5 1244.0,1098.3 1244.7,1096.4 1245.4,1100.8 1246.1,1100.0 1246.8,1099.4 1247.5,1098.6 1248.2,1097.7 1248.9,1097.9 1249.6,1100.3 1250.3,1098.6 1251.0,1099.9 1251.7,1097.0 1252.4,1096.9 1253.1,1100.0 1253.8,1097.6 1254.5,1098.4 1255.2,1099.2 1255.9,1099.7 1256.6,1099.4 1257.3,1099.3 1258.0,1100.5 1258.7,1098.9 1259.4,1099.7 1260.1,1098.6 1260.8,1098.8 1261.5,1100.1 1262.2,1098.2 1262.9,1095.6 1263.6,1098.6 1264.3,1098.7 1265.0,1100.6 1265.7,1098.0 1266.4,1097.0 1267.1,1098.5 1267.8,1100.4 1268.5,1097.6 1269.2,1099.7 1269.9,1098.7 1270.6,1098.8 1271.3,1097.0 1272.0,1098.0 1272.7,1096.8 1273.4,1097.6 1274.1,1096.6 1274.8,1098.5 1275.5,1096.2 1276.2,1096.0 1276.9,1092.8 1277.6,1093.1 1278.3,1095.4 1279.0,1090.2 1279.7,1087.4 1280.4,1088.9 1281.1,1089.4 1281.8,1090.0 1282.5,1090.7 1283.2,1090.5 1283.9,1092.3 1284.6,1090.3 1285.3,1092.7 1286.0,1094.0 1286.7,1092.3 1287.4,1095.9 1288.1,1093.1 1288.8,1092.3 1289.5,1090.9 1290.2,1091.1 1290.9,1086.5 1291.6,1086.2 1292.3,1083.5 1293.0,1073.9 1293.7,1062.7 1294.4,1043.5 1295.1,1023.3 1295.8,998.4 1296.5,984.6 1297.2,988.3 1297.9,1003.5 1298.6,1013.4 1299.3,1018.2 1300.0,1024.2 1300.7,1030.2 1301.4,1041.3 1302.1,1056.3 1302.8,1068.5 1303.5,1077.4 1304.2,1083.9 1304.9,1086.7 1305.6,1088.2 1306.3,1093.5 1307.0,1091.9 1307.7,1095.3 1308.4,1095.9 1309.1,1093.8 1309.8,1094.9 1310.5,1096.5 1311.2,1096.2 1311.9,1095.5 1312.6,1096.5 1313.3,1093.0 1314.0,1095.8 1314.7,1097.5 1315.4,1097.0 1316.1,1095.3 1316.8,1098.2 1317.5,1097.4 1318.2,1097.5 1318.9,1096.5 1319.6,1098.9 1320.3,1098.5 1321.0,1098.5 1321.7,1098.2 1322.4,1098.7 1323.1,1100.2 1323.8,1098.6 1324.5,1098.7 1325.2,1097.9 1325.9,1099.2 1326.6,1098.2 1327.3,1097.7 1328.0,1099.9 1328.7,1098.4 1329.4,1097.6 1330.1,1097.8 1330.8,1098.0 1331.5,1098.2 1332.2,1100.4 1332.9,1099.4 1333.6,1093.4 1334.3,1100.1 1335.0,1098.4 1335.7,1099.1 1336.4,1098.3 1337.1,1099.3 1337.8,1099.2 1338.5,1099.7 1339.2,1099.8 1339.9,1095.8 1340.6,1098.2 1341.3,1098.8 1342.0,1098.6 1342.7,1097.1 1343.4,1098.3 1344.1,1098.6 1344.8,1096.4 1345.5,1097.8 1346.2,1099.6 1346.9,1097.9 1347.6,1098.6 1348.3,1098.8 1349.0,1099.4 1349.7,1099.6 1350.4,1100.0 1351.1,1098.9 1351.8,1099.0 1352.5,1098.7 1353.2,1099.1 1353.9,1101.5 1354.6,1099.7 1355.3,1099.7 1356.0,1097.3 1356.7,1096.2 1357.4,1099.3 1358.1,1098.2 1358.8,1097.1 1359.5,1099.9 1360.2,1100.6 1360.9,1098.2 1361.6,1097.7 1362.3,1098.0 1363.0,1097.9 1363.7,1098.7 1364.4,1097.5 1365.1,1098.8 1365.8,1098.3 1366.5,1100.0 1367.2,1098.7 1367.9,1099.8 1368.6,1100.5 1369.3,1099.4 1370.0,1099.5 1370.7,1098.2 1371.4,1098.8 1372.1,1101.4 1372.8,1100.3 1373.5,1098.8 1374.2,1098.3 1374.9,1098.5 1375.6,1099.9 1376.3,1096.3 1377.0,1098.9 1377.7,1097.1 1378.4,1100.2 1379.1,1096.9 1379.8,1099.6 1380.5,1098.2 1381.2,1098.5 1381.9,1100.7 1382.6,1098.4 1383.3,1099.2 1384.0,1098.8 1384.7,1096.9 1385.4,1098.1 1386.1,1099.2 1386.8,1098.4 1387.5,1098.1 1388.2,1096.9 1388.9,1096.3 1389.6,1094.4 1390.3,1099.1 1391.0,1096.9 1391.7,1097.0 1392.4,1093.9 1393.1,1092.3 1393.8,1092.8 1394.5,1093.0 1395.2,1093.1 1395.9,1093.7 1396.6,1089.3 1397.3,1088.8 1398.0,1085.2 1398.7,1085.9 1399.4,1084.8 1400.1,1087.0 1400.8,1085.7 1401.5,1089.6 1402.2,1091.4 1402.9,1088.0 1403.6,1091.6 1404.3,1091.1 1405.0,1095.4 1405.7,1093.9 1406.4,1096.4 1407.1,1096.6 1407.8,1095.6 1408.5,1095.3 1409.2,1098.7 1409.9,1096.9 1410.6,1098.1 1411.3,1099.6 1412.0,1098.0 1412.7,1097.8 1413.4,1097.1 1414.1,1098.9 1414.8,1097.4 1415.5,1096.5 1416.2,1097.8 1416.9,1099.9 1417.6,1096.6 1418.3,1098.3 1419.0,1099.5 1419.7,1099.3 1420.4,1101.0 1421.1,1099.9 1421.8,1098.9 1422.5,1096.3 1423.2,1098.9 1423.9,1100.1 1424.6,1098.3 1425.3,1100.3 1426.0,1097.5 1426.7,1098.8 1427.4,1099.5 1428.1,1100.4 1428.8,1098.3 1429.5,1101.4 1430.2,1097.6 1430.9,1095.7 1431.6,1098.5 1432.3,1098.5 1433.0,1095.3 1433.7,1095.6 1434.4,1090.2 1435.1,1088.5 1435.8,1080.6 1436.5,1086.5 1437.2,1084.8 1437.9,1090.0 1438.6,1089.9 1439.3,1089.8 1440.0,1089.8 1440.7,1090.1 1441.4,1093.1 1442.1,1095.7 1442.8,1095.8 1443.5,1098.7 1444.2,1095.7 1444.9,1096.8 1445.6,1096.7 1446.3,1100.3 1447.0,1099.6 1447.7,1098.1 1448.4,1097.9 1449.1,1097.3 1449.8,1099.6 1450.5,1100.2 1451.2,1098.2 1451.9,1098.7 1452.6,1098.4 1453.3,1098.9 1454.0,1099.5 1454.7,1096.3 1455.4,1098.3 1456.1,1099.9 1456.8,1097.9 1457.5,1100.5 1458.2,1096.3 1458.9,1097.9 1459.6,1100.1 1460.3,1100.6 1461.0,1097.1 1461.7,1097.8 1462.4,1097.1 1463.1,1099.1 1463.8,1099.5 1464.5,1101.9 1465.2,1097.7 1465.9,1097.4 1466.6,1100.5 1467.3,1099.0 1468.0,1098.6 1468.7,1101.1 1469.4,1099.2 1470.1,1099.5 1470.8,1100.1 1471.5,1101.5 1472.2,1099.0 1472.9,1099.9 1473.6,1095.6 1474.3,1097.9 1475.0,1101.5 1475.7,1101.9 1476.4,1098.9 1477.1,1098.0 1477.8,1097.4 1478.5,1097.6 1479.2,1098.3 1479.9,1097.0 1480.6,1098.9 1481.3,1098.8 1482.0,1097.5 1482.7,1097.4 1483.4,1097.6 1484.1,1098.4 1484.8,1098.7 1485.5,1099.6 1486.2,1096.9 1486.9,1098.5 1487.6,1099.0 1488.3,1099.3 1489.0,1099.9 1489.7,1098.4 1490.4,1100.3 1491.1,1101.6 1491.8,1099.3 1492.5,1100.6 1493.2,1099.9 1493.9,1099.3 1494.6,1098.4 1495.3,1098.9 1496.0,1101.0 1496.7,1098.6 1497.4,1097.5 1498.1,1097.8 1498.8,1099.2 1499.5,1097.4 1500.2,1099.1 1500.9,1098.7 1501.6,1097.8 1502.3,1099.1 1503.0,1095.1 1503.7,1095.3 1504.4,1094.8 1505.1,1094.4 1505.8,1090.9 1506.5,1090.2 1507.2,1091.2 1507.9,1086.9 1508.6,1087.2 1509.3,1085.1 1510.0,1084.6 1510.7,1086.7 1511.4,1088.4 1512.1,1087.5 1512.8,1086.8 1513.5,1088.3 1514.2,1089.7 1514.9,1091.9 1515.6,1091.5 1516.3,1094.7 1517.0,1093.6 1517.7,1096.9 1518.4,1095.2 1519.1,1095.8 1519.8,1098.7 1520.5,1098.5 1521.2,1097.5 1521.9,1097.4 1522.6,1097.9 1523.3,1098.4 1524.0,1098.7 1524.7,1099.7 1525.4,1097.6 1526.1,1098.6 1526.8,1098.7 1527.5,1097.1 1528.2,1100.1 1528.9,1100.7 1529.6,1098.8 1530.3,1096.7 1531.0,1097.9 1531.7,1100.0 1532.4,1096.5 1533.1,1096.5 1533.8,1098.3 1534.5,1099.4 1535.2,1099.9 1535.9,1100.1 1536.6,1096.1 1537.3,1092.2 1538.0,1097.7 1538.7,1097.7 1539.4,1099.8 1540.1,1099.4 1540.8,1098.0 1541.5,1099.1 1542.2,1099.1 1542.9,1100.3 1543.6,1098.2 1544.3,1099.5 1545.0,1097.9 1545.7,1099.2 1546.4,1098.6 1547.1,1098.8 1547.8,1098.3 1548.5,1099.8 1549.2,1096.8 1549.9,1093.2 1550.6,1094.6 1551.3,1093.5 1552.0,1091.2 1552.7,1089.0 1553.4,1089.4 1554.1,1092.0 1554.8,1093.5 1555.5,1095.5 1556.2,1094.5 1556.9,1094.0 1557.6,1093.8 1558.3,1094.9 1559.0,1097.5 1559.7,1096.7 1560.4,1098.5 1561.1,1098.9 1561.8,1097.8 1562.5,1100.6 1563.2,1099.1 1563.9,1097.6 1564.6,1100.0 1565.3,1099.6 1566.0,1099.8 1566.7,1098.8 1567.4,1098.7 1568.1,1100.6 1568.8,1097.6 1569.5,1099.3 1570.2,1099.2 1570.9,1100.2 1571.6,1098.9 1572.3,1099.8 1573.0,1097.4 1573.7,1096.2 1574.4,1100.1 1575.1,1100.8 1575.8,1098.9 1576.5,1097.5 1577.2,1098.0 1577.9,1098.5 1578.6,1100.6 1579.3,1098.5 1580.0,1099.5 1580.7,1099.7 1581.4,1099.7 1582.1,1099.1 1582.8,1099.6 1583.5,1100.2 1584.2,1099.4 1584.9,1099.2 1585.6,1100.1 1586.3,1100.9 1587.0,1102.0 1587.7,1098.0 1588.4,1099.6 1589.1,1097.8 1589.8,1098.0 1590.5,1098.9 1591.2,1098.5 1591.9,1098.1 1592.6,1098.6 1593.3,1100.0 1594.0,1098.1 1594.7,1098.7 1595.4,1099.1 1596.1,1098.1 1596.8,1097.9 1597.5,1097.4 1598.2,1098.4 1598.9,1100.8 1599.6,1097.3 1600.3,1100.2 1601.0,1098.2 1601.7,1098.2 1602.4,1100.1 1603.1,1099.9 1603.8,1099.9 1604.5,1099.2 1605.2,1100.2 1605.9,1098.5 1606.6,1099.6 1607.3,1100.3 1608.0,1102.6 1608.7,1098.3 1609.4,1101.1 1610.1,1099.0 1610.8,1098.1 1611.5,1099.9 1612.2,1100.7 1612.9,1102.8 1613.6,1097.9 1614.3,1099.3 1615.0,1099.6 1615.7,1100.0 1616.4,1097.3 1617.1,1097.8 1617.8,1099.5 1618.5,1099.3 1619.2,1103.2 1619.9,1100.6 1620.6,1097.7 1621.3,1098.0 1622.0,1099.5 1622.7,1101.0 1623.4,1099.0 1624.1,1100.4 1624.8,1098.4 1625.5,1099.5 1626.2,1100.3 1626.9,1100.9 1627.6,1098.5 1628.3,1101.6 1629.0,1098.4 1629.7,1100.9 1630.4,1101.2 1631.1,1099.2 1631.8,1096.8 1632.5,1101.8 1633.2,1099.7 1633.9,1097.9 1634.6,1099.9 1635.3,1099.0 1636.0,1099.5 1636.7,1098.1 1637.4,1096.7 1638.1,1100.1 1638.8,1098.5 1639.5,1099.1 1640.2,1099.4 1640.9,1099.1 1641.6,1098.5 1642.3,1101.1 1643.0,1100.0 1643.7,1099.5 1644.4,1098.9 1645.1,1099.3 1645.8,1101.0 1646.5,1100.7 1647.2,1099.0 1647.9,1100.0 1648.6,1100.0 1649.3,1100.0 1650.0,1099.4 1650.7,1099.9 1651.4,1099.0 1652.1,1100.1 1652.8,1100.0 1653.5,1100.1 1654.2,1100.1 1654.9,1100.0 1655.6,1098.5 1656.3,1098.0 1657.0,1098.5 1657.7,1098.9 1658.4,1100.1 1659.1,1098.6 1659.8,1098.8 1660.5,1097.7 1661.2,1099.1 1661.9,1101.5 1662.6,1100.5 1663.3,1099.3 1664.0,1099.3 1664.7,1098.3 1665.4,1097.4 1666.1,1100.4 1666.8,1099.7 1667.5,1100.9 1668.2,1098.3 1668.9,1097.1 1669.6,1100.8 1670.3,1099.3 1671.0,1098.3 1671.7,1101.4 1672.4,1098.9 1673.1,1097.9 1673.8,1099.2 1674.5,1098.1 1675.2,1097.6 1675.9,1098.9 1676.6,1098.3 1677.3,1097.8 1678.0,1097.7 1678.7,1095.9 1679.4,1097.7 1680.1,1098.4 1680.8,1095.5 1681.5,1095.0 1682.2,1093.5 1682.9,1087.8 1683.6,1083.3 1684.3,1080.3 1685.0,1075.6 1685.7,1075.5 1686.4,1075.7 1687.1,1079.9 1687.8,1080.5 1688.5,1084.9 1689.2,1083.5 1689.9,1083.9 1690.6,1084.5 1691.3,1086.3 1692.0,1087.9 1692.7,1091.5 1693.4,1092.5 1694.1,1094.9 1694.8,1094.8 1695.5,1096.2 1696.2,1095.7 1696.9,1098.5 1697.6,1097.1 1698.3,1098.7 1699.0,1098.9 1699.7,1098.7 1700.4,1098.4 1701.1,1099.4 1701.8,1099.4 1702.5,1100.8 1703.2,1098.7 1703.9,1098.6 1704.6,1097.7 1705.3,1101.6 1706.0,1098.4 1706.7,1100.1 1707.4,1100.1 1708.1,1097.9 1708.8,1098.5 1709.5,1100.1 1710.2,1099.3 1710.9,1095.2 1711.6,1099.4 1712.3,1101.0 1713.0,1102.3 1713.7,1099.8 1714.4,1100.6 1715.1,1101.6 1715.8,1099.1 1716.5,1102.5 1717.2,1098.7 1717.9,1097.9 1718.6,1096.2 1719.3,1096.5 1720.0,1094.1 1720.7,1093.4 1721.4,1093.9 1722.1,1092.3 1722.8,1095.3 1723.5,1097.7 1724.2,1096.8 1724.9,1096.2 1725.6,1096.0 1726.3,1095.4 1727.0,1097.5 1727.7,1097.1 1728.4,1097.2 1729.1,1099.7 1729.8,1097.6 1730.5,1099.3 1731.2,1098.0 1731.9,1098.7 1732.6,1098.7 1733.3,1098.0 1734.0,1098.6 1734.7,1101.0 1735.4,1098.1 1736.1,1101.6 1736.8,1100.3 1737.5,1101.2 1738.2,1098.8 1738.9,1100.7 1739.6,1099.7 1740.3,1101.5 1741.0,1099.0 1741.7,1100.9 1742.4,1098.8 1743.1,1100.9 1743.8,1099.1 1744.5,1098.2 1745.2,1097.9 1745.9,1098.8 1746.6,1101.3 1747.3,1100.1 1748.0,1098.6 1748.7,1099.4 1749.4,1099.5 1750.1,1099.8 1750.8,1101.3 1751.5,1099.3 1752.2,1097.9 1752.9,1100.4 1753.6,1099.1 1754.3,1099.3 1755.0,1099.7 1755.7,1101.4 1756.4,1101.0 1757.1,1099.6 1757.8,1099.2 1758.5,1100.1 1759.2,1098.7 1759.9,1097.6 1760.6,1098.8 1761.3,1100.7 1762.0,1098.8 1762.7,1099.0 1763.4,1101.3 1764.1,1101.3 1764.8,1101.3 1765.5,1098.7 1766.2,1100.2 1766.9,1101.2 1767.6,1100.8 1768.3,1099.2 1769.0,1099.4 1769.7,1098.8 1770.4,1099.0 1771.1,1101.0 1771.8,1100.1 1772.5,1098.7 1773.2,1100.4 1773.9,1099.9 1774.6,1100.5 1775.3,1099.1 1776.0,1099.9 1776.7,1097.1 1777.4,1100.6 1778.1,1100.4 1778.8,1100.7 1779.5,1099.7 1780.2,1099.7 1780.9,1099.6 1781.6,1101.1 1782.3,1098.6 1783.0,1099.6 1783.7,1100.4 1784.4,1099.3 1785.1,1098.7 1785.8,1099.4 1786.5,1100.1 1787.2,1101.6 1787.9,1099.2 1788.6,1101.0 1789.3,1100.9 1790.0,1099.8 1790.7,1100.5 1791.4,1099.6 1792.1,1099.7 1792.8,1097.6 1793.5,1100.4 1794.2,1098.5 1794.9,1100.5 1795.6,1097.6 1796.3,1101.1 1797.0,1099.5 1797.7,1097.1 1798.4,1099.9 1799.1,1099.8 1799.8,1099.8 1800.5,1098.5 1801.2,1102.3 1801.9,1099.2 1802.6,1100.9 1803.3,1096.9 1804.0,1100.4 1804.7,1100.3 1805.4,1099.7 1806.1,1100.6 1806.8,1099.1 1807.5,1100.3 1808.2,1099.7 1808.9,1100.1 1809.6,1098.6 1810.3,1101.1 1811.0,1100.4 1811.7,1100.1 1812.4,1100.1 1813.1,1099.3 1813.8,1098.3 1814.5,1099.5 1815.2,1102.0 1815.9,1098.4 1816.6,1099.7 1817.3,1101.5 1818.0,1100.6 1818.7,1098.7 1819.4,1101.2 1820.1,1097.9 1820.8,1099.6 1821.5,1101.1 1822.2,1100.6 1822.9,1100.2 1823.6,1101.1 1824.3,1097.9 1825.0,1100.4 1825.7,1100.1 1826.4,1101.7 1827.1,1099.1 1827.8,1098.5 1828.5,1099.2 1829.2,1097.7 1829.9,1099.4 1830.6,1099.7 1831.3,1099.6 1832.0,1101.8 1832.7,1101.9 1833.4,1100.5 1834.1,1099.1 1834.8,1101.2 1835.5,1101.0 1836.2,1098.3 1836.9,1098.9 1837.6,1098.8 1838.3,1098.3 1839.0,1104.1 1839.7,1098.3 1840.4,1100.6 1841.1,1104.4 1841.8,1097.7 1842.5,1098.9 1843.2,1099.0 1843.9,1101.3 1844.6,1098.9 1845.3,1100.6 1846.0,1101.5 1846.7,1098.6 1847.4,1100.2 1848.1,1098.0 1848.8,1100.6 1849.5,1098.0 1850.2,1099.1 1850.9,1097.6 1851.6,1095.2 1852.3,1097.1 1853.0,1099.4 1853.7,1096.1 1854.4,1098.4 1855.1,1098.2 1855.8,1099.1 1856.5,1100.5 1857.2,1100.1 1857.9,1100.2 1858.6,1098.4 1859.3,1099.0 1860.0,1099.2 1860.7,1095.9 1861.4,1096.8 1862.1,1095.4 1862.8,1094.6 1863.5,1095.0 1864.2,1092.6 1864.9,1092.9 1865.6,1092.1 1866.3,1092.6 1867.0,1090.7 1867.7,1091.2 1868.4,1090.3 1869.1,1092.5 1869.8,1092.2 1870.5,1090.4 1871.2,1093.0 1871.9,1093.1 1872.6,1093.5 1873.3,1095.5 1874.0,1095.6 1874.7,1095.6 1875.4,1097.2 1876.1,1096.9 1876.8,1096.6 1877.5,1098.3 1878.2,1096.4 1878.9,1100.0 1879.6,1098.5 1880.3,1099.1 1881.0,1100.2 1881.7,1100.3 1882.4,1098.9 1883.1,1099.7 1883.8,1100.4 1884.5,1101.0 1885.2,1099.2 1885.9,1099.7 1886.6,1098.1 1887.3,1091.5 1888.0,1099.9 1888.7,1099.1 1889.4,1098.1 1890.1,1098.3 1890.8,1099.1 1891.5,1097.5 1892.2,1099.3 1892.9,1097.6 1893.6,1101.6 1894.3,1098.8 1895.0,1099.1 1895.7,1097.4 1896.4,1098.0 1897.1,1097.2 1897.8,1096.6 1898.5,1094.8 1899.2,1094.2 1899.9,1092.2 1900.6,1092.2 1901.3,1090.6 1902.0,1090.7 1902.7,1091.7 1903.4,1092.3 1904.1,1092.7 1904.8,1092.4 1905.5,1093.3 1906.2,1095.3 1906.9,1094.3 1907.6,1095.0 1908.3,1094.6 1909.0,1097.6 1909.7,1096.4 1910.4,1097.9 1911.1,1097.8 1911.8,1099.7 1912.5,1096.8 1913.2,1096.6 1913.9,1098.7 1914.6,1096.4 1915.3,1098.5 1916.0,1098.7 1916.7,1099.3 1917.4,1100.4 1918.1,1098.1 1918.8,1100.3 1919.5,1101.2 1920.2,1101.7 1920.9,1098.5 1921.6,1099.5 1922.3,1102.1 1923.0,1098.8 1923.7,1101.3 1924.4,1100.4 1925.1,1100.6 1925.8,1098.1 1926.5,1098.4 1927.2,1099.0 1927.9,1100.8 1928.6,1101.0 1929.3,1099.1 1930.0,1100.4 1930.7,1100.2 1931.4,1099.0 1932.1,1098.8 1932.8,1097.8 1933.5,1098.8 1934.2,1099.1 1934.9,1101.5 1935.6,1101.0 1936.3,1099.8 1937.0,1100.4 1937.7,1099.1 1938.4,1097.3 1939.1,1100.3 1939.8,1100.7 1940.5,1099.1 1941.2,1101.4 1941.9,1101.3 1942.6,1097.6 1943.3,1097.9 1944.0,1100.1 1944.7,1100.8 1945.4,1098.6 1946.1,1099.5 1946.8,1101.0 1947.5,1102.4 1948.2,1101.0 1948.9,1100.4 1949.6,1099.5 1950.3,1098.8 1951.0,1099.1 1951.7,1100.5 1952.4,1099.5 1953.1,1101.6 1953.8,1098.5 1954.5,1098.7 1955.2,1100.0 1955.9,1100.3 1956.6,1100.2 1957.3,1098.8 1958.0,1099.2 1958.7,1101.2 1959.4,1099.6 1960.1,1099.5 1960.8,1100.8 1961.5,1100.7 1962.2,1101.7 1962.9,1102.0 1963.6,1098.4 1964.3,1100.4 1965.0,1099.3 1965.7,1100.0 1966.4,1098.8 1967.1,1100.6 1967.8,1099.4 1968.5,1102.7 1969.2,1100.0 1969.9,1102.2 1970.6,1098.8 1971.3,1098.8 1972.0,1099.8 1972.7,1097.3 1973.4,1098.1 1974.1,1100.7 1974.8,1100.0 1975.5,1098.2 1976.2,1099.4 1976.9,1098.2 1977.6,1097.6 1978.3,1095.1 1979.0,1095.9 1979.7,1091.7 1980.4,1089.6 1981.1,1078.8 1981.8,1071.1 1982.5,1053.9 1983.2,1045.9 1983.9,1052.4 1984.6,1070.6 1985.3,1076.7 1986.0,1080.9 1986.7,1083.0 1987.4,1080.9 1988.1,1072.8 1988.8,1068.1 1989.5,1068.3 1990.2,1074.9 1990.9,1079.9 1991.6,1089.7 1992.3,1091.5 1993.0,1093.4 1993.7,1095.2 1994.4,1091.2 1995.1,1096.0 1995.8,1096.4 1996.5,1099.0 1997.2,1098.3 1997.9,1100.0 1998.6,1100.1 1999.3,1097.8 2000.0,1099.3 2000.7,1098.7 2001.4,1099.6 2002.1,1098.7 2002.8,1098.1 2003.5,1099.7 2004.2,1099.6 2004.9,1100.5 2005.6,1101.9 2006.3,1099.6 2007.0,1099.8 2007.7,1101.5 2008.4,1101.3 2009.1,1098.3 2009.8,1100.2 2010.5,1098.5 2011.2,1099.2 2011.9,1099.6 2012.6,1099.6 2013.3,1099.9 2014.0,1100.5 2014.7,1100.6 2015.4,1102.1 2016.1,1101.2 2016.8,1099.0 2017.5,1101.8 2018.2,1101.2 2018.9,1098.9 2019.6,1099.2 2020.3,1100.4 2021.0,1100.4 2021.7,1100.7 2022.4,1098.6 2023.1,1098.6 2023.8,1102.7 2024.5,1098.3 2025.2,1098.8 2025.9,1100.4 2026.6,1100.7 2027.3,1099.7 2028.0,1100.5 2028.7,1100.2 2029.4,1099.4 2030.1,1100.3 2030.8,1096.2 2031.5,1100.8 2032.2,1101.2 2032.9,1099.3 2033.6,1098.6 2034.3,1099.2 2035.0,1100.0 2035.7,1100.5 2036.4,1101.2 2037.1,1099.5 2037.8,1101.1 2038.5,1100.3 2039.2,1100.1 2039.9,1100.1 2040.6,1099.7 2041.3,1100.8 2042.0,1099.0 2042.7,1100.9 2043.4,1099.8 2044.1,1102.1 2044.8,1099.8 2045.5,1100.8 2046.2,1101.2 2046.9,1101.3 2047.6,1099.3 2048.3,1102.3 2049.0,1100.3 2049.7,1099.9 2050.4,1100.2 2051.1,1101.0 2051.8,1100.4 2052.5,1100.5 2053.2,1101.5 2053.9,1101.5 2054.6,1098.1 2055.3,1099.6 2056.0,1099.9 2056.7,1099.4 2057.4,1101.8 2058.1,1102.0 2058.8,1100.4 2059.5,1102.2 2060.2,1100.2 2060.9,1102.2 2061.6,1101.5 2062.3,1100.9 2063.0,1101.3 2063.7,1100.1 2064.4,1102.0 2065.1,1100.3 2065.8,1101.4 2066.5,1099.8 2067.2,1099.9 2067.9,1100.9 2068.6,1100.9 2069.3,1102.2 2070.0,1100.5 2070.7,1101.1 2071.4,1101.2 2072.1,1103.0 2072.8,1100.9 2073.5,1099.5 2074.2,1099.1 2074.9,1100.3 2075.6,1100.8 2076.3,1100.8 2077.0,1099.3 2077.7,1099.5 2078.4,1100.5 2079.1,1101.3 2079.8,1099.7 2080.5,1099.6 2081.2,1102.0 2081.9,1102.5 2082.6,1101.1 2083.3,1099.9 2084.0,1099.8 2084.7,1101.3 2085.4,1098.5 2086.1,1098.7 2086.8,1101.6 2087.5,1098.8 2088.2,1099.6 2088.9,1102.8 2089.6,1099.9 2090.3,1102.0 2091.0,1100.1 2091.7,1099.2 2092.4,1101.0 2093.1,1100.4 2093.8,1101.4 2094.5,1098.8 2095.2,1101.1 2095.9,1100.8 2096.6,1103.5 2097.3,1100.8 2098.0,1099.4 2098.7,1102.0 2099.4,1101.6 2100.1,1101.6 2100.8,1101.2 2101.5,1101.0 2102.2,1099.9 2102.9,1098.5 2103.6,1098.7 2104.3,1100.3 2105.0,1098.0 2105.7,1099.8 2106.4,1101.5 2107.1,1099.4 2107.8,1102.6 2108.5,1098.6 2109.2,1098.9 2109.9,1098.2 2110.6,1096.7 2111.3,1102.3 2112.0,1100.1 2112.7,1099.0 2113.4,1099.1 2114.1,1101.1 2114.8,1101.4 2115.5,1100.8 2116.2,1099.8 2116.9,1099.1 2117.6,1099.3 2118.3,1099.1 2119.0,1098.4 2119.7,1101.4 2120.4,1101.6 2121.1,1101.5 2121.8,1101.9 2122.5,1098.3 2123.2,1097.6 2123.9,1099.7 2124.6,1098.8 2125.3,1097.3 2126.0,1098.1 2126.7,1095.3 2127.4,1093.7 2128.1,1089.5 2128.8,1084.8 2129.5,1086.0 2130.2,1088.8 2130.9,1093.4 2131.6,1095.4 2132.3,1095.7 2133.0,1097.5 2133.7,1096.0 2134.4,1094.6 2135.1,1093.2 2135.8,1095.0 2136.5,1094.2 2137.2,1095.6 2137.9,1096.8 2138.6,1096.7 2139.3,1099.2 2140.0,1099.6 2140.7,1099.1 2141.4,1100.8 2142.1,1100.5 2142.8,1100.9 2143.5,1099.9 2144.2,1103.0 2144.9,1100.9 2145.6,1099.6 2146.3,1100.3 2147.0,1101.5 2147.7,1099.6 2148.4,1101.8 2149.1,1099.9 2149.8,1098.3 2150.5,1101.2 2151.2,1099.8 2151.9,1100.5 2152.6,1100.3 2153.3,1101.7 2154.0,1100.4 2154.7,1101.5 2155.4,1099.5 2156.1,1100.5 2156.8,1099.8 2157.5,1100.4 2158.2,1102.9 2158.9,1099.6 2159.6,1100.9 2160.3,1100.1 2161.0,1100.9 2161.7,1099.5 2162.4,1099.8 2163.1,1098.5 2163.8,1101.8 2164.5,1100.5 2165.2,1100.7 2165.9,1102.4 2166.6,1102.1 2167.3,1101.7 2168.0,1100.0 2168.7,1100.7 2169.4,1100.1 2170.1,1101.5 2170.8,1097.9 2171.5,1100.6 2172.2,1100.7 2172.9,1101.4 2173.6,1099.2 2174.3,1099.6 2175.0,1099.2 2175.7,1101.5 2176.4,1100.9 2177.1,1101.6 2177.8,1101.3 2178.5,1101.1 2179.2,1099.1 2179.9,1100.1 2180.6,1101.9 2181.3,1100.7 2182.0,1099.2 2182.7,1099.4 2183.4,1099.8 2184.1,1100.0 2184.8,1100.3 2185.5,1097.4 2186.2,1100.6 2186.9,1101.1 2187.6,1100.5 2188.3,1098.5 2189.0,1100.3 2189.7,1098.7 2190.4,1097.8 2191.1,1099.2 2191.8,1098.8 2192.5,1097.0 2193.2,1097.2 2193.9,1094.9 2194.6,1094.5 2195.3,1093.4 2196.0,1096.2 2196.7,1095.7 2197.4,1097.9 2198.1,1096.1 2198.8,1098.0 2199.5,1097.0 2200.2,1095.7 2200.9,1097.0 2201.6,1098.7 2202.3,1096.2 2203.0,1094.1 2203.7,1097.6 2204.4,1099.8 2205.1,1096.7 2205.8,1098.0 2206.5,1099.9 2207.2,1099.8 2207.9,1099.9 2208.6,1100.6 2209.3,1099.9 2210.0,1101.0 2210.7,1101.7 2211.4,1099.3 2212.1,1101.7 2212.8,1099.5 2213.5,1098.9 2214.2,1100.2 2214.9,1100.2 2215.6,1100.6 2216.3,1099.0 2217.0,1100.2 2217.7,1099.6 2218.4,1101.4 2219.1,1100.2 2219.8,1099.4 2220.5,1098.9 2221.2,1100.5 2221.9,1102.1 2222.6,1097.9 2223.3,1099.0 2224.0,1101.0 2224.7,1100.5 2225.4,1098.9 2226.1,1098.6 2226.8,1097.8 2227.5,1096.6 2228.2,1096.4 2228.9,1096.3 2229.6,1095.0 2230.3,1091.8 2231.0,1092.2 2231.7,1091.1 2232.4,1093.1 2233.1,1090.6 2233.8,1091.6 2234.5,1092.2 2235.2,1098.4 2235.9,1096.8 2236.6,1094.9 2237.3,1096.3 2238.0,1093.2 2238.7,1095.0 2239.4,1098.2 2240.1,1095.9 2240.8,1095.2 2241.5,1096.7 2242.2,1097.3 2242.9,1098.3 2243.6,1098.8 2244.3,1098.8 2245.0,1097.9 2245.7,1099.7 2246.4,1098.4 2247.1,1098.2 2247.8,1100.8 2248.5,1102.1 2249.2,1102.2 2249.9,1100.9 2250.6,1099.6 2251.3,1099.4 2252.0,1101.4 2252.7,1101.8 2253.4,1101.1 2254.1,1101.5"/>
<polyline stroke="#0000ff" points="131.0,908.8 131.7,903.0 132.4,907.5 133.1,906.3 133.8,907.6 134.5,906.3 135.2,907.8 135.9,905.5 136.6,904.6 137.3,905.6 138.0,905.2 138.7,904.0 139.4,903.8 140.1,904.6 140.8,904.2 141.5,902.5 142.2,902.3 142.9,900.2 143.6,903.8 144.3,901.2 145.0,902.2 145.7,900.8 146.4,901.9 147.1,900.7 147.8,898.4 148.5,898.9 149.2,895.1 149.9,896.5 150.6,892.2 151.3,893.0 152.0,892.4 152.7,889.9 153.4,887.5 154.1,885.2 154.8,883.7 155.5,883.1 156.2,880.4 156.9,876.2 157.6,871.3 158.3,868.3 159.0,858.4 159.7,849.2 160.4,836.5 161.1,826.9 161.8,822.1 162.5,827.0 163.2,836.7 163.9,845.7 164.6,854.9 165.3,861.3 166.0,863.2 166.7,866.0 167.4,867.2 168.1,870.0 168.8,870.8 169.5,872.2 170.2,872.6 170.9,875.0 171.6,873.5 172.3,874.2 173.0,874.6 173.7,876.5 174.4,875.5 175.1,875.9 175.8,877.5 176.5,878.6 177.2,877.2 177.9,874.6 178.6,873.2 179.3,876.7 180.0,876.6 180.7,874.1 181.4,880.3 182.1,877.8 182.8,877.3 183.5,879.0 184.2,878.2 184.9,878.3 185.6,877.3 186.3,878.0 187.0,878.4 187.7,875.7 188.4,876.0 189.1,879.0 189.8,878.6 190.5,877.0 191.2,876.4 191.9,877.3 192.6,876.0 193.3,877.0 194.0,879.2 194.7,877.4 195.4,878.5 196.1,876.9 196.8,877.6 197.5,878.7 198.2,875.5 198.9,876.7 199.6,879.5 200.3,877.4 201.0,878.8 201.7,877.8 202.4,878.6 203.1,876.7 203.8,876.0 204.5,875.9 205.2,879.3 205.9,877.7 206.6,877.1 207.3,875.9 208.0,877.6 208.7,876.8 209.4,876.2 210.1,875.5 210.8,876.2 211.5,872.8 212.2,871.7 212.9,872.4 213.6,870.5 214.3,866.6 215.0,864.3 215.7,864.4 216.4,868.4 217.1,866.9 217.8,870.1 218.5,871.7 219.2,871.1 219.9,873.8 220.6,875.5 221.3,876.4 222.0,874.9 222.7,881.0 223.4,879.4 224.1,878.8 224.8,878.7 225.5,878.3 226.2,880.5 226.9,879.3 227.6,880.3 228.3,878.3 229.0,880.5 229.7,882.5 230.4,880.0 231.1,881.4 231.8,880.6 232.5,882.0 233.2,882.1 233.9,881.0 234.6,880.4 235.3,881.5 236.0,881.4 236.7,880.8 237.4,882.1 238.1,882.2 238.8,880.9 239.5,881.9 240.2,885.6 240.9,883.3 241.6,882.6 242.3,885.6 243.0,882.3 243.7,880.2 244.4,881.0 245.1,881.6 245.8,883.9 246.5,884.9 247.2,881.4 247.9,885.4 248.6,882.9 249.3,884.8 250.0,885.2 250.7,885.4 251.4,885.1 252.1,885.5 252.8,884.2 253.5,886.0 254.2,887.0 254.9,887.1 255.6,889.3 256.3,887.7 257.0,887.5 257.7,888.8 258.4,887.4 259.1,885.8 259.8,884.9 260.5,889.1 261.2,888.5 261.9,889.0 262.6,887.8 263.3,889.1 264.0,891.1 264.7,889.2 265.4,887.7 266.1,888.6 266.8,890.9 267.5,888.2 268.2,886.7 268.9,887.2 269.6,888.4 270.3,891.0 271.0,890.3 271.7,890.8 272.4,889.0 273.1,890.5 273.8,890.6 274.5,890.3 275.2,890.8 275.9,890.3 276.6,893.4 277.3,888.7 278.0,891.7 278.7,890.5 279.4,892.6 280.1,891.6 280.8,892.4 281.5,892.7 282.2,892.5 282.9,893.5 283.6,890.9 284.3,893.7 285.0,892.5 285.7,893.3 286.4,894.7 287.1,894.4 287.8,895.5 288.5,890.7 289.2,892.3 289.9,894.7 290.6,892.4 291.3,893.6 292.0,895.8 292.7,895.0 293.4,893.0 294.1,894.6 294.8,894.9 295.5,894.2 296.2,893.8 296.9,893.8 297.6,891.3 298.3,892.2 299.0,889.5 299.7,889.9 300.4,887.1 301.1,883.8 301.8,884.7 302.5,884.6 303.2,886.6 303.9,890.2 304.6,891.7 305.3,894.2 306.0,896.5 306.7,897.9 307.4,900.4 308.1,897.2 308.8,900.3 309.5,898.9 310.2,901.2 310.9,900.7 311.6,902.6 312.3,904.1 313.0,903.7 313.7,897.9 314.4,903.3 315.1,906.2 315.8,906.5 316.5,905.1 317.2,903.5 317.9,908.1 318.6,903.5 319.3,906.5 320.0,906.4 320.7,907.0 321.4,905.6 322.1,906.8 322.8,908.8 323.5,907.2 324.2,906.5 324.9,908.3 325.6,908.7 326.3,908.7 327.0,908.2 327.7,909.9 328.4,909.4 329.1,908.4 329.8,910.3 330.5,910.2 331.2,910.7 331.9,908.8 332.6,910.1 333.3,911.7 334.0,912.5 334.7,912.0 335.4,912.0 336.1,912.9 336.8,913.4 337.5,914.5 338.2,913.2 338.9,912.2 339.6,913.5 340.3,910.9 341.0,913.4 341.7,913.0 342.4,913.7 343.1,913.9 343.8,914.1 344.5,912.5 345.2,913.9 345.9,913.6 346.6,914.6 347.3,915.2 348.0,913.9 348.7,916.0 349.4,916.8 350.1,915.1 350.8,916.4 351.5,914.0 352.2,915.2 352.9,917.1 353.6,914.1 354.3,915.7 355.0,915.3 355.7,918.6 356.4,918.0 357.1,916.3 357.8,917.0 358.5,914.0 359.2,918.1 359.9,917.7 360.6,918.9 361.3,914.8 362.0,918.1 362.7,917.4 363.4,914.9 364.1,917.2 364.8,918.1 365.5,919.2 366.2,918.7 366.9,918.0 367.6,919.2 368.3,918.7 369.0,918.2 369.7,917.9 370.4,919.4 371.1,919.5 371.8,921.6 372.5,919.1 373.2,921.6 373.9,920.3 374.6,921.4 375.3,919.1 376.0,918.1 376.7,920.1 377.4,921.6 378.1,920.9 378.8,921.8 379.5,921.4 380.2,922.4 380.9,921.5 381.6,920.9 382.3,922.2 383.0,921.9 383.7,923.9 384.4,921.9 385.1,922.3 385.8,922.0 386.5,923.8 387.2,923.6 387.9,923.5 388.6,921.5 389.3,921.3 390.0,921.4 390.7,924.2 391.4,925.2 392.1,921.5 392.8,923.6 393.5,922.0 394.2,922.9 394.9,923.9 395.6,925.4 396.3,923.9 397.0,923.8 397.7,924.4 398.4,926.3 399.1,927.8 399.8,923.4 400.5,925.0 401.2,924.9 401.9,926.9 402.6,926.2 403.3,927.4 404.0,924.8 404.7,926.1 405.4,925.7 406.1,925.1 406.8,926.3 407.5,925.3 408.2,929.3 408.9,927.4 409.6,925.9 410.3,926.5 411.0,929.3 411.7,927.2 412.4,928.3 413.1,928.4 413.8,929.1 414.5,928.7 415.2,927.8 415.9,927.5 416.6,926.3 417.3,924.7 418.0,928.8 418.7,928.3 419.4,928.7 420.1,927.6 420.8,931.6 421.5,928.7 422.2,928.2 422.9,928.8 423.6,929.4 424.3,930.6 425.0,927.1 425.7,930.6 426.4,929.4 427.1,930.1 427.8,931.6 428.5,931.4 429.2,929.9 429.9,930.7 430.6,933.0 431.3,932.6 432.0,932.1 432.7,931.2 433.4,932.5 434.1,931.9 434.8,930.9 435.5,930.5 436.2,932.4 436.9,932.3 437.6,935.1 438.3,931.6 439.0,933.8 439.7,931.6 440.4,933.9 441.1,933.1 441.8,931.9 442.5,931.6 443.2,932.7 443.9,932.6 444.6,934.0 445.3,932.3 446.0,931.4 446.7,933.2 447.4,935.5 448.1,935.3 448.8,932.8 449.5,933.3 450.2,934.0 450.9,933.0 451.6,933.5 452.3,933.6 453.0,932.8 453.7,933.4 454.4,933.6 455.1,934.5 455.8,933.0 456.5,934.5 457.2,933.4 457.9,933.6 458.6,933.4 459.3,939.3 460.0,936.2 460.7,936.4 461.4,935.9 462.1,934.7 462.8,935.2 463.5,935.5 464.2,935.7 464.9,936.0 465.6,938.2 466.3,932.0 467.0,934.8 467.7,936.3 468.4,935.2 469.1,935.5 469.8,937.4 470.5,936.0 471.2,937.9 471.9,935.8 472.6,936.2 473.3,934.7 474.0,933.7 474.7,935.5 475.4,936.1 476.1,936.1 476.8,934.6 477.5,937.3 478.2,936.3 478.9,936.2 479.6,935.3 480.3,938.1 481.0,935.7 481.7,936.6 482.4,940.7 483.1,936.6 483.8,938.3 484.5,939.6 485.2,936.4 485.9,935.9 486.6,934.3 487.3,939.6 488.0,935.2 488.7,937.4 489.4,937.0 490.1,938.0 490.8,935.5 491.5,934.6 492.2,936.6 492.9,936.9 493.6,937.8 494.3,934.5 495.0,935.9 495.7,936.1 496.4,934.9 497.1,936.2 497.8,937.3 498.5,936.3 499.2,934.7 499.9,936.7 500.6,939.9 501.3,936.8 502.0,937.1 502.7,934.2 503.4,936.5 504.1,936.6 504.8,935.3 505.5,935.6 506.2,934.6 506.9,936.0 507.6,934.6 508.3,933.4 509.0,934.2 509.7,933.4 510.4,932.9 511.1,929.4 511.8,926.6 512.5,923.2 513.2,918.7 513.9,908.1 514.6,897.3 515.3,893.8 516.0,892.9 516.7,895.8 517.4,903.9 518.1,911.9 518.8,920.2 519.5,926.6 520.2,930.1 520.9,932.2 521.6,932.2 522.3,933.9 523.0,934.3 523.7,936.4 524.4,934.4 525.1,934.8 525.8,937.4 526.5,938.4 527.2,935.4 527.9,936.2 528.6,936.3 529.3,936.4 530.0,937.2 530.7,939.0 531.4,936.1 532.1,935.8 532.8,934.4 533.5,935.9 534.2,937.7 534.9,936.6 535.6,934.8 536.3,932.9 537.0,935.2 537.7,936.4 538.4,938.3 539.1,937.9 539.8,937.1 540.5,936.4 541.2,935.0 541.9,933.6 542.6,934.6 543.3,933.6 544.0,934.4 544.7,929.9 545.4,930.3 546.1,929.5 546.8,929.5 547.5,921.3 548.2,918.8 548.9,912.4 549.6,905.5 550.3,899.3 551.0,896.9 551.7,896.9 552.4,899.5 553.1,904.3 553.8,909.5 554.5,914.2 555.2,920.7 555.9,924.3 556.6,929.7 557.3,931.9 558.0,932.0 558.7,932.7 559.4,935.2 560.1,933.6 560.8,936.3 561.5,937.3 562.2,936.7 562.9,937.8 563.6,940.3 564.3,939.7 565.0,939.3 565.7,939.1 566.4,936.7 567.1,938.6 567.8,938.6 568.5,939.0 569.2,939.2 569.9,938.3 570.6,941.1 571.3,938.1 572.0,939.8 572.7,940.6 573.4,939.4 574.1,938.7 574.8,939.4 575.5,941.6 576.2,940.0 576.9,938.8 577.6,939.7 578.3,941.9 579.0,936.4 579.7,938.6 580.4,939.1 581.1,938.7 581.8,936.6 582.5,934.0 583.2,935.6 583.9,932.0 584.6,930.1 585.3,926.4 586.0,919.9 586.7,912.0 587.4,902.3 588.1,892.4 588.8,883.1 589.5,875.3 590.2,873.4 590.9,872.8 591.6,879.7 592.3,889.3 593.0,898.2 593.7,907.7 594.4,915.2 595.1,923.8 595.8,929.9 596.5,930.5 597.2,935.6 597.9,934.5 598.6,937.6 599.3,936.2 600.0,939.8 600.7,941.2 601.4,940.5 602.1,942.1 602.8,941.7 603.5,941.3 604.2,940.6 604.9,941.9 605.6,941.7 606.3,941.7 607.0,944.0 607.7,943.5 608.4,942.9 609.1,943.4 609.8,941.1 610.5,943.0 611.2,941.0 611.9,942.3 612.6,943.5 613.3,943.6 614.0,944.0 614.7,943.4 615.4,943.5 616.1,943.3 616.8,945.0 617.5,944.9 618.2,941.8 618.9,943.7 619.6,945.0 620.3,943.3 621.0,943.9 621.7,942.9 622.4,941.9 623.1,943.8 623.8,943.2 624.5,943.5 625.2,942.1 625.9,942.4 626.6,943.6 627.3,943.2 628.0,944.4 628.7,942.6 629.4,944.6 630.1,944.5 630.8,943.9 631.5,943.9 632.2,943.7 632.9,943.0 633.6,943.8 634.3,942.4 635.0,944.5 635.7,944.8 636.4,942.0 637.1,944.6 637.8,943.1 638.5,943.4 639.2,943.9 639.9,944.1 640.6,945.4 641.3,943.7 642.0,945.8 642.7,943.9 643.4,944.4 644.1,944.6 644.8,943.0 645.5,942.5 646.2,943.8 646.9,944.5 647.6,946.6 648.3,943.2 649.0,945.6 649.7,943.2 650.4,942.6 651.1,944.6 651.8,944.6 652.5,941.9 653.2,943.8 653.9,944.4 654.6,942.2 655.3,944.3 656.0,942.3 656.7,940.4 657.4,938.6 658.1,934.4 658.8,932.3 659.5,928.3 660.2,922.4 660.9,920.6 661.6,919.9 662.3,920.4 663.0,923.0 663.7,925.5 664.4,928.2 665.1,933.2 665.8,933.9 666.5,937.6 667.2,941.3 667.9,943.2 668.6,942.4 669.3,939.7 670.0,944.4 670.7,943.7 671.4,943.1 672.1,944.3 672.8,944.2 673.5,941.7 674.2,940.7 674.9,945.1 675.6,941.3 676.3,944.7 677.0,944.4 677.7,945.2 678.4,946.2 679.1,945.7 679.8,946.0 680.5,945.2 681.2,944.8 681.9,945.5 682.6,944.3 683.3,943.2 684.0,944.2 684.7,942.5 685.4,943.7 686.1,946.7 686.8,944.9 687.5,944.4 688.2,943.6 688.9,942.2 689.6,940.8 690.3,943.4 691.0,944.2 691.7,944.3 692.4,944.1 693.1,942.0 693.8,945.8 694.5,944.6 695.2,944.1 695.9,943.7 696.6,944.5 697.3,945.4 698.0,944.6 698.7,942.5 699.4,942.3 700.1,941.0 700.8,945.9 701.5,944.4 702.2,944.8 702.9,943.5 703.6,944.2 704.3,942.0 705.0,943.5 705.7,942.6 706.4,941.8 707.1,940.4 707.8,936.8 708.5,939.2 709.2,942.1 709.9,940.1 710.6,941.2 711.3,939.3 712.0,940.0 712.7,938.0 713.4,935.9 714.1,934.9 714.8,931.7 715.5,931.1 716.2,928.0 716.9,921.0 717.6,909.2 718.3,888.6 719.0,842.5 719.7,777.0 720.4,702.6 721.1,680.3 721.8,715.9 722.5,744.8 723.2,770.4 723.9,814.5 724.6,859.5 725.3,893.4 726.0,913.3 726.7,924.0 727.4,927.4 728.1,933.0 728.8,934.1 729.5,936.3 730.2,938.7 730.9,939.4 731.6,938.5 732.3,940.3 733.0,941.0 733.7,941.9 734.4,940.2 735.1,942.6 735.8,942.0 736.5,943.8 737.2,941.9 737.9,941.9 738.6,942.6 739.3,942.4 740.0,942.7 740.7,941.5 741.4,940.7 742.1,940.6 742.8,942.5 743.5,943.8 744.2,943.0 744.9,942.3 745.6,943.2 746.3,943.5 747.0,945.7 747.7,945.0 748.4,943.7 749.1,941.9 749.8,943.4 750.5,943.2 751.2,944.2 751.9,946.0 752.6,943.5 753.3,941.4 754.0,945.7 754.7,941.7 755.4,944.6 756.1,944.3 756.8,944.0 757.5,941.9 758.2,943.4 758.9,945.0 759.6,942.5 760.3,945.0 761.0,943.9 761.7,944.2 762.4,943.7 763.1,944.0 763.8,943.9 764.5,942.9 765.2,943.5 765.9,943.9 766.6,942.3 767.3,943.8 768.0,943.7 768.7,944.1 769.4,943.9 770.1,942.3 770.8,942.1 771.5,943.8 772.2,943.3 772.9,943.6 773.6,942.8 774.3,941.9 775.0,944.6 775.7,943.2 776.4,944.1 777.1,944.6 777.8,944.6 778.5,944.4 779.2,942.1 779.9,940.8 780.6,942.5 781.3,941.7 782.0,941.6 782.7,943.8 783.4,941.1 784.1,943.8 784.8,943.8 785.5,945.2 786.2,942.8 786.9,943.4 787.6,941.9 788.3,940.0 789.0,942.1 789.7,939.7 790.4,938.7 791.1,941.4 791.8,939.7 792.5,944.3 793.2,941.0 793.9,945.1 794.6,940.5 795.3,941.2 796.0,942.3 796.7,942.0 797.4,940.1 798.1,941.9 798.8,941.9 799.5,942.1 800.2,939.5 800.9,940.5 801.6,940.9 802.3,941.8 803.0,940.8 803.7,940.0 804.4,939.7 805.1,941.6 805.8,938.7 806.5,939.7 807.2,936.6 807.9,940.8 808.6,939.0 809.3,936.1 810.0,938.5 810.7,942.3 811.4,938.0 812.1,936.8 812.8,937.3 813.5,935.1 814.2,935.4 814.9,934.9 815.6,935.1 816.3,933.5 817.0,936.0 817.7,934.1 818.4,932.8 819.1,933.6 819.8,934.2 820.5,933.8 821.2,935.1 821.9,933.5 822.6,933.2 823.3,934.9 824.0,936.0 824.7,933.7 825.4,933.3 826.1,934.7 826.8,935.8 827.5,935.0 828.2,936.8 828.9,936.0 829.6,938.4 830.3,935.0 831.0,937.1 831.7,938.6 832.4,939.7 833.1,940.3 833.8,938.8 834.5,940.0 835.2,940.9 835.9,942.2 836.6,939.8 837.3,939.7 838.0,941.9 838.7,941.3 839.4,946.6 840.1,942.1 840.8,942.6 841.5,941.5 842.2,942.9 842.9,944.2 843.6,942.6 844.3,941.7 845.0,944.2 845.7,942.9 846.4,943.5 847.1,942.7 847.8,946.7 848.5,942.9 849.2,943.2 849.9,943.9 850.6,944.4 851.3,941.5 852.0,944.6 852.7,942.8 853.4,942.1 854.1,943.8 854.8,944.2 855.5,943.5 856.2,943.2 856.9,944.6 857.6,944.8 858.3,945.7 859.0,945.2 859.7,943.6 860.4,946.4 861.1,947.2 861.8,945.5 862.5,944.4 863.2,943.5 863.9,944.7 864.6,942.9 865.3,945.4 866.0,943.9 866.7,945.0 867.4,944.0 868.1,941.6 868.8,940.0 869.5,940.1 870.2,939.8 870.9,937.2 871.6,939.1 872.3,936.6 873.0,939.3 873.7,940.7 874.4,943.2 875.1,940.2 875.8,943.2 876.5,943.0 877.2,944.9 877.9,944.2 878.6,945.2 879.3,944.4 880.0,944.8 880.7,946.0 881.4,947.3 882.1,945.9 882.8,945.8 883.5,945.2 884.2,947.6 884.9,943.6 885.6,943.6 886.3,945.0 887.0,946.4 887.7,947.1 888.4,946.6 889.1,946.9 889.8,946.2 890.5,945.5 891.2,944.9 891.9,946.6 892.6,945.0 893.3,946.6 894.0,947.0 894.7,945.5 895.4,945.7 896.1,945.6 896.8,947.0 897.5,946.4 898.2,945.4 898.9,946.5 899.6,947.9 900.3,946.5 901.0,946.3 901.7,945.0 902.4,945.1 903.1,946.2 903.8,946.3 904.5,945.8 905.2,947.5 905.9,945.9 906.6,945.9 907.3,946.3 908.0,946.7 908.7,944.0 909.4,946.3 910.1,947.4 910.8,944.7 911.5,946.3 912.2,945.3 912.9,944.6 913.6,946.0 914.3,945.5 915.0,943.1 915.7,944.7 916.4,946.2 917.1,944.5 917.8,944.1 918.5,944.3 919.2,944.0 919.9,945.1 920.6,942.9 921.3,942.2 922.0,943.5 922.7,943.5 923.4,942.4 924.1,941.6 924.8,938.7 925.5,936.1 926.2,934.7 926.9,932.0 927.6,924.9 928.3,915.4 929.0,897.5 929.7,865.6 930.4,827.9 931.1,789.9 931.8,782.7 932.5,804.2 933.2,823.7 933.9,834.6 934.6,846.0 935.3,870.6 936.0,895.5 936.7,913.8 937.4,924.3 938.1,927.9 938.8,931.7 939.5,933.2 940.2,932.4 940.9,934.0 941.6,929.3 942.3,924.2 943.0,917.0 943.7,910.7 944.4,906.3 945.1,906.2 945.8,910.3 946.5,911.7 947.2,918.1 947.9,923.8 948.6,926.1 949.3,931.7 950.0,937.1 950.7,940.9 951.4,941.2 952.1,941.9 952.8,946.1 953.5,943.8 954.2,941.7 954.9,945.8 955.6,946.6 956.3,947.7 957.0,947.9 957.7,949.6 958.4,945.6 959.1,945.2 959.8,941.1 960.5,948.5 961.2,946.1 961.9,945.7 962.6,944.4 963.3,946.9 964.0,946.3 964.7,946.0 965.4,945.8 966.1,944.5 966.8,947.3 967.5,946.4 968.2,947.2 968.9,946.3 969.6,946.0 970.3,946.5 971.0,945.5 971.7,945.8 972.4,945.7 973.1,944.2 973.8,944.1 974.5,941.2 975.2,943.8 975.9,942.5 976.6,941.7 977.3,941.1 978.0,939.4 978.7,939.3 979.4,937.2 980.1,935.1 980.8,936.9 981.5,933.5 982.2,935.0 982.9,933.5 983.6,936.2 984.3,932.6 985.0,934.3 985.7,933.5 986.4,932.0 987.1,932.7 987.8,932.0 988.5,932.2 989.2,932.8 989.9,930.6 990.6,933.2 991.3,934.5 992.0,932.0 992.7,932.6 993.4,931.6 994.1,933.4 994.8,931.4 995.5,932.5 996.2,934.5 996.9,931.1 997.6,932.0 998.3,931.2 999.0,931.4 999.7,931.9 1000.4,930.9 1001.1,932.2 1001.8,931.9 1002.5,933.6 1003.2,932.4 1003.9,932.0 1004.6,933.3 1005.3,931.3 1006.0,932.2 1006.7,930.8 1007.4,933.1 1008.1,930.6 1008.8,932.5 1009.5,930.6 1010.2,931.6 1010.9,927.3 1011.6,930.4 1012.3,931.6 1013.0,931.7 1013.7,931.8 1014.4,932.1 1015.1,931.6 1015.8,930.9 1016.5,931.9 1017.2,932.8 1017.9,930.6 1018.6,930.1 1019.3,931.6 1020.0,933.4 1020.7,930.7 1021.4,930.5 1022.1,929.7 1022.8,930.0 1023.5,929.7 1024.2,929.6 1024.9,931.9 1025.6,932.1 1026.3,930.7 1027.0,930.6 1027.7,931.4 1028.4,930.5 1029.1,930.5 1029.8,931.0 1030.5,930.3 1031.2,931.7 1031.9,933.7 1032.6,930.1 1033.3,930.4 1034.0,929.1 1034.7,929.5 1035.4,930.0 1036.1,930.3 1036.8,929.6 1037.5,928.3 1038.2,930.1 1038.9,928.9 1039.6,929.9 1040.3,929.1 1041.0,929.1 1041.7,929.0 1042.4,926.5 1043.1,930.0 1043.8,927.2 1044.5,927.9 1045.2,928.0 1045.9,923.9 1046.6,922.6 1047.3,922.4 1048.0,921.4 1048.7,923.6 1049.4,924.9 1050.1,924.1 1050.8,923.3 1051.5,925.7 1052.2,928.3 1052.9,927.9 1053.6,930.6 1054.3,928.5 1055.0,929.8 1055.7,929.5 1056.4,931.0 1057.1,932.6 1057.8,934.0 1058.5,933.6 1059.2,933.7 1059.9,936.2 1060.6,935.1 1061.3,934.3 1062.0,937.2 1062.7,933.7 1063.4,935.0 1064.1,934.9 1064.8,932.2 1065.5,933.7 1066.2,930.2 1066.9,925.3 1067.6,923.3 1068.3,914.0 1069.0,908.6 1069.7,900.7 1070.4,892.0 1071.1,881.2 1071.8,876.1 1072.5,870.9 1073.2,868.9 1073.9,868.6 1074.6,872.7 1075.3,878.6 1076.0,883.3 1076.7,889.4 1077.4,895.7 1078.1,903.2 1078.8,910.5 1079.5,913.8 1080.2,920.1 1080.9,923.0 1081.6,923.1 1082.3,922.0 1083.0,924.6 1083.7,927.2 1084.4,925.8 1085.1,926.2 1085.8,927.5 1086.5,931.0 1087.2,927.9 1087.9,926.7 1088.6,929.8 1089.3,930.4 1090.0,931.2 1090.7,930.9 1091.4,931.5 1092.1,930.7 1092.8,932.3 1093.5,930.8 1094.2,930.6 1094.9,927.7 1095.6,928.0 1096.3,924.2 1097.0,920.9 1097.7,919.9 1098.4,918.8 1099.1,920.8 1099.8,924.2 1100.5,925.6 1101.2,927.8 1101.9,929.9 1102.6,931.3 1103.3,934.0 1104.0,938.0 1104.7,937.2 1105.4,936.7 1106.1,939.3 1106.8,939.5 1107.5,940.3 1108.2,940.8 1108.9,940.0 1109.6,941.9 1110.3,941.4 1111.0,942.5 1111.7,941.2 1112.4,941.1 1113.1,941.9 1113.8,944.4 1114.5,940.5 1115.2,944.0 1115.9,942.8 1116.6,944.3 1117.3,945.6 1118.0,943.6 1118.7,943.7 1119.4,945.8 1120.1,943.3 1120.8,943.8 1121.5,942.8 1122.2,944.1 1122.9,946.2 1123.6,940.2 1124.3,944.4 1125.0,944.7 1125.7,943.1 1126.4,943.2 1127.1,945.7 1127.8,943.8 1128.5,944.7 1129.2,944.2 1129.9,942.8 1130.6,944.6 1131.3,944.7 1132.0,946.0 1132.7,942.8 1133.4,944.4 1134.1,945.8 1134.8,944.6 1135.5,942.8 1136.2,946.0 1136.9,945.6 1137.6,944.5 1138.3,944.4 1139.0,944.8 1139.7,945.9 1140.4,945.5 1141.1,945.0 1141.8,946.2 1142.5,947.1 1143.2,945.3 1143.9,947.8 1144.6,946.1 1145.3,946.8 1146.0,946.6 1146.7,946.8 1147.4,946.5 1148.1,943.7 1148.8,945.3 1149.5,947.4 1150.2,945.3 1150.9,946.6 1151.6,943.5 1152.3,945.9 1153.0,948.4 1153.7,947.0 1154.4,945.7 1155.1,946.0 1155.8,944.9 1156.5,947.4 1157.2,946.6 1157.9,947.8 1158.6,947.9 1159.3,946.7 1160.0,946.0 1160.7,945.7 1161.4,946.7 1162.1,947.2 1162.8,948.8 1163.5,946.1 1164.2,947.8 1164.9,946.1 1165.6,946.6 1166.3,948.2 1167.0,947.9 1167.7,946.7 1168.4,946.5 1169.1,948.7 1169.8,946.8 1170.5,946.4 1171.2,945.1 1171.9,948.2 1172.6,945.8 1173.3,942.1 1174.0,941.9 1174.7,939.6 1175.4,940.1 1176.1,942.7 1176.8,944.4 1177.5,941.5 1178.2,944.6 1178.9,945.7 1179.6,947.5 1180.3,947.4 1181.0,948.8 1181.7,946.0 1182.4,948.2 1183.1,949.6 1183.8,949.2 1184.5,949.0 1185.2,947.4 1185.9,948.7 1186.6,947.0 1187.3,948.8 1188.0,949.5 1188.7,948.5 1189.4,949.7 1190.1,949.2 1190.8,951.9 1191.5,948.8 1192.2,947.3 1192.9,947.7 1193.6,948.2 1194.3,948.9 1195.0,948.8 1195.7,947.5 1196.4,948.1 1197.1,946.6 1197.8,947.5 1198.5,944.5 1199.2,946.6 1199.9,944.9 1200.6,943.7 1201.3,942.9 1202.0,945.0 1202.7,944.1 1203.4,946.0 1204.1,947.9 1204.8,946.6 1205.5,947.4 1206.2,944.6 1206.9,947.9 1207.6,951.3 1208.3,949.3 1209.0,950.7 1209.7,950.6 1210.4,949.8 1211.1,952.3 1211.8,951.3 1212.5,950.3 1213.2,950.4 1213.9,949.1 1214.6,950.1 1215.3,952.4 1216.0,952.5 1216.7,950.5 1217.4,952.4 1218.1,952.8 1218.8,952.7 1219.5,953.3 1220.2,949.7 1220.9,952.2 1221.6,950.9 1222.3,952.8 1223.0,951.2 1223.7,952.2 1224.4,953.2 1225.1,950.4 1225.8,951.5 1226.5,951.5 1227.2,952.3 1227.9,950.5 1228.6,953.2 1229.3,954.6 1230.0,952.1 1230.7,953.0 1231.4,949.4 1232.1,951.1 1232.8,953.2 1233.5,952.8 1234.2,953.3 1234.9,954.1 1235.6,952.7 1236.3,952.3 1237.0,955.3 1237.7,952.7 1238.4,950.2 1239.1,954.3 1239.8,950.1 1240.5,950.8 1241.2,952.7 1241.9,952.9 1242.6,953.3 1243.3,954.4 1244.0,952.1 1244.7,951.9 1245.4,953.3 1246.1,951.4 1246.8,952.9 1247.5,953.2 1248.2,953.0 1248.9,950.3 1249.6,952.4 1250.3,950.3 1251.0,953.6 1251.7,952.1 1252.4,953.7 1253.1,954.1 1253.8,951.0 1254.5,953.6 1255.2,953.0 1255.9,954.2 1256.6,951.1 1257.3,951.0 1258.0,951.6 1258.7,950.3 1259.4,952.6 1260.1,951.3 1260.8,952.6 1261.5,952.8 1262.2,953.3 1262.9,950.8 1263.6,947.3 1264.3,953.1 1265.0,951.1 1265.7,951.5 1266.4,950.5 1267.1,953.5 1267.8,953.5 1268.5,951.0 1269.2,951.7 1269.9,952.2 1270.6,952.5 1271.3,951.5 1272.0,953.3 1272.7,950.2 1273.4,952.0 1274.1,950.8 1274.8,950.7 1275.5,948.9 1276.2,946.8 1276.9,946.6 1277.6,945.5 1278.3,941.0 1279.0,936.6 1279.7,935.8 1280.4,935.5 1281.1,935.9 1281.8,938.6 1282.5,940.3 1283.2,940.4 1283.9,939.1 1284.6,943.1 1285.3,943.3 1286.0,943.9 1286.7,943.9 1287.4,947.5 1288.1,942.4 1288.8,947.3 1289.5,944.5 1290.2,944.6 1290.9,942.1 1291.6,939.7 1292.3,934.9 1293.0,931.3 1293.7,922.8 1294.4,908.9 1295.1,884.2 1295.8,864.1 1296.5,845.6 1297.2,837.7 1297.9,846.0 1298.6,859.7 1299.3,871.7 1300.0,874.1 1300.7,876.6 1301.4,884.0 1302.1,899.5 1302.8,914.4 1303.5,923.7 1304.2,933.2 1304.9,937.3 1305.6,941.6 1306.3,944.8 1307.0,945.8 1307.7,945.9 1308.4,946.2 1309.1,948.0 1309.8,948.0 1310.5,947.8 1311.2,949.9 1311.9,949.4 1312.6,951.9 1313.3,953.0 1314.0,952.1 1314.7,954.2 1315.4,949.8 1316.1,949.2 1316.8,951.3 1317.5,949.5 1318.2,951.8 1318.9,952.7 1319.6,952.7 1320.3,953.0 1321.0,951.7 1321.7,951.9 1322.4,952.3 1323.1,952.0 1323.8,953.2 1324.5,951.7 1325.2,952.1 1325.9,951.4 1326.6,953.4 1327.3,952.4 1328.0,952.5 1328.7,951.8 1329.4,950.3 1330.1,951.9 1330.8,949.9 1331.5,952.3 1332.2,951.0 1332.9,953.9 1333.6,951.7 1334.3,952.4 1335.0,951.9 1335.7,951.2 1336.4,950.7 1337.1,949.6 1337.8,951.8 1338.5,950.2 1339.2,953.8 1339.9,951.1 1340.6,951.9 1341.3,952.5 1342.0,952.4 1342.7,953.9 1343.4,952.5 1344.1,952.0 1344.8,952.5 1345.5,954.4 1346.2,953.5 1346.9,950.4 1347.6,952.4 1348.3,951.6 1349.0,952.7 1349.7,953.4 1350.4,952.6 1351.1,953.3 1351.8,954.6 1352.5,950.7 1353.2,952.6 1353.9,952.7 1354.6,953.2 1355.3,952.8 1356.0,953.7 1356.7,952.6 1357.4,953.2 1358.1,950.9 1358.8,952.9 1359.5,951.3 1360.2,953.3 1360.9,954.7 1361.6,952.6 1362.3,953.2 1363.0,953.5 1363.7,954.2 1364.4,953.6 1365.1,954.1 1365.8,952.1 1366.5,952.6 1367.2,951.0 1367.9,955.2 1368.6,951.3 1369.3,953.7 1370.0,952.8 1370.7,952.8 1371.4,951.3 1372.1,952.4 1372.8,952.7 1373.5,952.8 1374.2,952.2 1374.9,952.9 1375.6,951.5 1376.3,954.0 1377.0,951.8 1377.7,956.7 1378.4,952.2 1379.1,951.8 1379.8,952.7 1380.5,952.3 1381.2,953.7 1381.9,954.5 1382.6,951.7 1383.3,951.6 1384.0,951.4 1384.7,952.8 1385.4,953.3 1386.1,952.9 1386.8,951.9 1387.5,952.0 1388.2,952.6 1388.9,953.2 1389.6,951.6 1390.3,952.8 1391.0,950.9 1391.7,951.2 1392.4,951.9 1393.1,949.2 1393.8,947.5 1394.5,947.4 1395.2,947.3 1395.9,944.8 1396.6,940.9 1397.3,943.5 1398.0,939.0 1398.7,938.3 1399.4,935.5 1400.1,931.9 1400.8,933.8 1401.5,934.2 1402.2,935.3 1402.9,935.6 1403.6,938.6 1404.3,937.3 1405.0,938.5 1405.7,941.3 1406.4,944.1 1407.1,944.4 1407.8,948.5 1408.5,947.4 1409.2,946.2 1409.9,948.1 1410.6,952.0 1411.3,951.5 1412.0,952.5 1412.7,949.9 1413.4,953.2 1414.1,952.2 1414.8,951.1 1415.5,951.5 1416.2,950.3 1416.9,951.9 1417.6,953.2 1418.3,951.2 1419.0,952.7 1419.7,950.9 1420.4,949.3 1421.1,952.1 1421.8,954.0 1422.5,953.7 1423.2,951.6 1423.9,950.5 1424.6,954.6 1425.3,952.7 1426.0,951.8 1426.7,953.3 1427.4,952.0 1428.1,951.6 1428.8,953.1 1429.5,951.0 1430.2,952.3 1430.9,952.9 1431.6,949.9 1432.3,950.1 1433.0,949.2 1433.7,944.5 1434.4,943.4 1435.1,940.5 1435.8,938.6 1436.5,938.4 1437.2,942.6 1437.9,941.9 1438.6,943.9 1439.3,945.0 1440.0,946.1 1440.7,943.1 1441.4,944.8 1442.1,946.7 1442.8,949.0 1443.5,951.4 1444.2,950.9 1444.9,951.7 1445.6,953.6 1446.3,951.6 1447.0,952.3 1447.7,954.5 1448.4,953.2 1449.1,951.7 1449.8,951.7 1450.5,953.8 1451.2,951.2 1451.9,951.5 1452.6,953.5 1453.3,954.1 1454.0,954.6 1454.7,951.5 1455.4,953.3 1456.1,948.9 1456.8,951.7 1457.5,956.1 1458.2,954.5 1458.9,953.6 1459.6,951.7 1460.3,951.3 1461.0,954.0 1461.7,952.6 1462.4,951.9 1463.1,955.1 1463.8,953.6 1464.5,952.0 1465.2,952.3 1465.9,955.3 1466.6,951.7 1467.3,954.0 1468.0,952.0 1468.7,951.8 1469.4,951.6 1470.1,952.7 1470.8,952.8 1471.5,953.7 1472.2,951.9 1472.9,953.3 1473.6,952.2 1474.3,952.0 1475.0,953.5 1475.7,953.3 1476.4,951.0 1477.1,952.9 1477.8,950.7 1478.5,951.5 1479.2,954.6 1479.9,954.2 1480.6,952.4 1481.3,953.4 1482.0,954.1 1482.7,954.7 1483.4,954.6 1484.1,951.8 1484.8,952.6 1485.5,952.7 1486.2,949.8 1486.9,951.7 1487.6,953.0 1488.3,952.2 1489.0,951.8 1489.7,951.1 1490.4,951.7 1491.1,952.3 1491.8,951.9 1492.5,953.6 1493.2,953.1 1493.9,952.5 1494.6,953.1 1495.3,952.0 1496.0,952.8 1496.7,951.0 1497.4,952.7 1498.1,950.7 1498.8,952.5 1499.5,951.0 1500.2,950.4 1500.9,948.8 1501.6,947.9 1502.3,950.0 1503.0,946.6 1503.7,945.2 1504.4,945.3 1505.1,942.8 1505.8,941.0 1506.5,936.2 1507.2,932.9 1507.9,932.4 1508.6,933.8 1509.3,932.9 1510.0,934.4 1510.7,935.6 1511.4,936.3 1512.1,937.4 1512.8,938.2 1513.5,940.3 1514.2,942.2 1514.9,942.9 1515.6,946.0 1516.3,946.8 1517.0,947.9 1517.7,948.8 1518.4,950.7 1519.1,950.1 1519.8,952.1 1520.5,949.9 1521.2,953.7 1521.9,949.7 1522.6,951.7 1523.3,951.2 1524.0,951.4 1524.7,950.8 1525.4,952.0 1526.1,952.7 1526.8,950.1 1527.5,952.1 1528.2,952.5 1528.9,953.0 1529.6,952.7 1530.3,951.1 1531.0,953.5 1531.7,951.4 1532.4,953.0 1533.1,952.6 1533.8,951.8 1534.5,951.7 1535.2,952.2 1535.9,954.1 1536.6,953.2 1537.3,951.8 1538.0,953.3 1538.7,954.3 1539.4,954.9 1540.1,950.4 1540.8,953.2 1541.5,953.3 1542.2,951.3 1542.9,950.1 1543.6,953.6 1544.3,951.5 1545.0,950.1 1545.7,950.5 1546.4,952.4 1547.1,953.8 1547.8,951.9 1548.5,949.2 1549.2,950.5 1549.9,944.7 1550.6,944.3 1551.3,938.6 1552.0,933.1 1552.7,928.7 1553.4,931.8 1554.1,936.3 1554.8,940.1 1555.5,942.1 1556.2,943.4 1556.9,938.7 1557.6,939.1 1558.3,941.2 1559.0,946.0 1559.7,948.5 1560.4,952.0 1561.1,953.2 1561.8,952.6 1562.5,952.7 1563.2,951.7 1563.9,950.3 1564.6,952.4 1565.3,952.3 1566.0,951.1 1566.7,952.7 1567.4,953.6 1568.1,951.5 1568.8,953.6 1569.5,953.1 1570.2,952.0 1570.9,952.8 1571.6,953.6 1572.3,952.5 1573.0,952.6 1573.7,954.3 1574.4,953.4 1575.1,953.4 1575.8,952.2 1576.5,953.6 1577.2,954.5 1577.9,951.7 1578.6,950.9 1579.3,951.9 1580.0,952.7 1580.7,951.7 1581.4,950.9 1582.1,954.7 1582.8,952.3 1583.5,951.9 1584.2,949.5 1584.9,956.0 1585.6,954.0 1586.3,954.4 1587.0,953.5 1587.7,953.1 1588.4,952.6 1589.1,953.9 1589.8,952.2 1590.5,953.3 1591.2,952.2 1591.9,952.5 1592.6,954.6 1593.3,954.1 1594.0,951.7 1594.7,951.8 1595.4,952.8 1596.1,952.6 1596.8,953.3 1597.5,952.2 1598.2,951.4 1598.9,957.0 1599.6,952.2 1600.3,953.0 1601.0,950.8 1601.7,954.1 1602.4,950.5 1603.1,949.1 1603.8,948.5 1604.5,946.2 1605.2,950.0 1605.9,949.6 1606.6,949.4 1607.3,951.2 1608.0,952.4 1608.7,950.1 1609.4,952.1 1610.1,948.4 1610.8,952.0 1611.5,951.4 1612.2,952.7 1612.9,955.0 1613.6,953.4 1614.3,950.9 1615.0,954.4 1615.7,951.5 1616.4,952.1 1617.1,957.4 1617.8,953.0 1618.5,952.7 1619.2,954.7 1619.9,953.2 1620.6,953.7 1621.3,952.7 1622.0,957.1 1622.7,951.7 1623.4,951.2 1624.1,953.9 1624.8,953.8 1625.5,952.9 1626.2,955.5 1626.9,951.8 1627.6,954.6 1628.3,953.2 1629.0,951.5 1629.7,953.5 1630.4,953.8 1631.1,952.7 1631.8,952.8 1632.5,952.8 1633.2,953.2 1633.9,951.3 1634.6,953.8 1635.3,953.2 1636.0,952.9 1636.7,953.5 1637.4,952.0 1638.1,952.1 1638.8,953.8 1639.5,952.9 1640.2,953.5 1640.9,954.2 1641.6,954.9 1642.3,951.8 1643.0,952.2 1643.7,951.2 1644.4,952.1 1645.1,953.5 1645.8,950.2 1646.5,955.4 1647.2,952.4 1647.9,950.8 1648.6,951.8 1649.3,954.2 1650.0,951.8 1650.7,952.7 1651.4,951.9 1652.1,951.5 1652.8,954.2 1653.5,951.4 1654.2,950.7 1654.9,951.9 1655.6,952.0 1656.3,953.3 1657.0,952.9 1657.7,954.2 1658.4,952.5 1659.1,953.2 1659.8,953.3 1660.5,953.9 1661.2,951.3 1661.9,952.3 1662.6,949.5 1663.3,951.7 1664.0,951.2 1664.7,951.6 1665.4,954.4 1666.1,953.7 1666.8,950.7 1667.5,954.6 1668.2,953.9 1668.9,952.6 1669.6,952.2 1670.3,952.1 1671.0,952.2 1671.7,952.9 1672.4,951.7 1673.1,953.1 1673.8,951.5 1674.5,950.9 1675.2,951.4 1675.9,951.8 1676.6,951.1 1677.3,950.8 1678.0,948.7 1678.7,948.5 1679.4,947.4 1680.1,948.1 1680.8,948.1 1681.5,944.8 1682.2,941.6 1682.9,936.8 1683.6,931.6 1684.3,925.4 1685.0,922.5 1685.7,917.8 1686.4,919.8 1687.1,925.1 1687.8,927.8 1688.5,931.4 1689.2,931.1 1689.9,932.4 1690.6,932.7 1691.3,932.8 1692.0,937.9 1692.7,942.1 1693.4,942.8 1694.1,945.8 1694.8,948.5 1695.5,950.8 1696.2,950.3 1696.9,950.9 1697.6,950.4 1698.3,953.4 1699.0,950.6 1699.7,951.6 1700.4,950.7 1701.1,953.0 1701.8,952.7 1702.5,950.1 1703.2,949.1 1703.9,954.7 1704.6,952.0 1705.3,950.4 1706.0,951.3 1706.7,951.9 1707.4,954.3 1708.1,953.0 1708.8,952.5 1709.5,951.4 1710.2,953.2 1710.9,950.4 1711.6,953.7 1712.3,953.5 1713.0,949.6 1713.7,951.7 1714.4,951.4 1715.1,951.8 1715.8,954.0 1716.5,953.1 1717.2,949.6 1717.9,948.2 1718.6,946.0 1719.3,946.6 1720.0,944.8 1720.7,946.8 1721.4,947.3 1722.1,947.7 1722.8,947.9 1723.5,947.6 1724.2,949.6 1724.9,947.2 1725.6,949.7 1726.3,947.7 1727.0,947.6 1727.7,951.3 1728.4,951.1 1729.1,953.2 1729.8,952.4 1730.5,952.5 1731.2,953.7 1731.9,952.0 1732.6,953.6 1733.3,955.7 1734.0,953.2 1734.7,951.9 1735.4,952.9 1736.1,952.1 1736.8,952.6 1737.5,955.0 1738.2,951.9 1738.9,950.3 1739.6,953.7 1740.3,952.6 1741.0,952.9 1741.7,952.4 1742.4,953.4 1743.1,954.8 1743.8,953.9 1744.5,952.7 1745.2,952.8 1745.9,952.2 1746.6,952.2 1747.3,954.3 1748.0,953.8 1748.7,953.8 1749.4,953.8 1750.1,952.5 1750.8,953.3 1751.5,953.9 1752.2,955.1 1752.9,953.6 1753.6,953.4 1754.3,952.4 1755.0,954.5 1755.7,953.0 1756.4,953.6 1757.1,953.8 1757.8,952.5 1758.5,953.7 1759.2,954.6 1759.9,952.4 1760.6,950.6 1761.3,952.4 1762.0,953.5 1762.7,955.8 1763.4,953.8 1764.1,954.8 1764.8,953.7 1765.5,952.9 1766.2,953.4 1766.9,953.7 1767.6,953.2 1768.3,953.4 1769.0,953.5 1769.7,952.7 1770.4,955.2 1771.1,954.0 1771.8,953.3 1772.5,952.8 1773.2,953.9 1773.9,952.6 1774.6,952.1 1775.3,953.1 1776.0,954.9 1776.7,953.3 1777.4,952.5 1778.1,952.4 1778.8,954.1 1779.5,952.9 1780.2,952.9 1780.9,950.9 1781.6,953.4 1782.3,952.3 1783.0,953.1 1783.7,953.3 1784.4,952.4 1785.1,951.3 1785.8,954.0 1786.5,952.1 1787.2,951.3 1787.9,953.6 1788.6,953.5 1789.3,954.8 1790.0,955.0 1790.7,951.1 1791.4,952.9 1792.1,953.9 1792.8,952.1 1793.5,954.9 1794.2,954.0 1794.9,952.8 1795.6,953.0 1796.3,954.0 1797.0,956.0 1797.7,955.8 1798.4,952.0 1799.1,954.3 1799.8,952.0 1800.5,953.5 1801.2,952.5 1801.9,953.3 1802.6,953.1 1803.3,954.1 1804.0,952.8 1804.7,954.5 1805.4,948.7 1806.1,955.1 1806.8,955.3 1807.5,954.1 1808.2,953.4 1808.9,953.8 1809.6,954.5 1810.3,953.5 1811.0,953.0 1811.7,953.5 1812.4,953.1 1813.1,953.1 1813.8,955.5 1814.5,954.6 1815.2,955.2 1815.9,953.1 1816.6,951.7 1817.3,953.3 1818.0,954.3 1818.7,953.2 1819.4,953.9 1820.1,952.6 1820.8,954.3 1821.5,953.3 1822.2,953.8 1822.9,954.5 1823.6,952.9 1824.3,952.5 1825.0,952.8 1825.7,954.4 1826.4,953.4 1827.1,955.0 1827.8,954.4 1828.5,955.0 1829.2,954.0 1829.9,955.1 1830.6,954.6 1831.3,951.6 1832.0,955.4 1832.7,954.8 1833.4,953.3 1834.1,952.4 1834.8,951.6 1835.5,953.9 1836.2,952.8 1836.9,952.4 1837.6,952.6 1838.3,951.9 1839.0,954.8 1839.7,952.7 1840.4,953.7 1841.1,953.9 1841.8,954.1 1842.5,953.5 1843.2,954.6 1843.9,953.0 1844.6,956.1 1845.3,951.8 1846.0,954.4 1846.7,956.1 1847.4,952.5 1848.1,955.2 1848.8,955.8 1849.5,953.0 1850.2,955.2 1850.9,952.7 1851.6,953.7 1852.3,953.0 1853.0,954.5 1853.7,951.9 1854.4,952.4 1855.1,951.2 1855.8,953.0 1856.5,952.7 1857.2,953.6 1857.9,952.5 1858.6,951.5 1859.3,950.9 1860.0,953.5 1860.7,948.3 1861.4,947.8 1862.1,951.1 1862.8,948.8 1863.5,946.7 1864.2,946.0 1864.9,949.8 1865.6,941.6 1866.3,942.2 1867.0,943.0 1867.7,942.9 1868.4,943.8 1869.1,943.5 1869.8,940.2 1870.5,944.6 1871.2,947.1 1871.9,947.4 1872.6,949.0 1873.3,950.9 1874.0,951.5 1874.7,949.3 1875.4,952.6 1876.1,950.6 1876.8,950.2 1877.5,954.8 1878.2,953.0 1878.9,952.2 1879.6,952.5 1880.3,954.8 1881.0,957.5 1881.7,954.8 1882.4,953.1 1883.1,952.1 1883.8,953.3 1884.5,957.0 1885.2,954.1 1885.9,952.0 1886.6,953.7 1887.3,954.3 1888.0,952.5 1888.7,954.6 1889.4,955.2 1890.1,954.5 1890.8,952.5 1891.5,953.0 1892.2,953.2 1892.9,952.7 1893.6,953.9 1894.3,952.8 1895.0,952.3 1895.7,952.2 1896.4,950.7 1897.1,948.8 1897.8,949.5 1898.5,947.7 1899.2,947.5 1899.9,945.7 1900.6,940.9 1901.3,945.1 1902.0,943.9 1902.7,943.0 1903.4,947.0 1904.1,947.3 1904.8,950.2 1905.5,945.1 1906.2,946.0 1906.9,946.8 1907.6,948.0 1908.3,948.4 1909.0,950.2 1909.7,949.8 1910.4,950.7 1911.1,953.3 1911.8,953.0 1912.5,953.7 1913.2,955.7 1913.9,954.6 1914.6,955.4 1915.3,952.8 1916.0,953.6 1916.7,955.8 1917.4,954.2 1918.1,956.1 1918.8,953.8 1919.5,952.6 1920.2,954.3 1920.9,953.7 1921.6,953.5 1922.3,953.5 1923.0,952.1 1923.7,955.0 1924.4,954.2 1925.1,953.4 1925.8,952.6 1926.5,955.2 1927.2,954.5 1927.9,955.3 1928.6,954.9 1929.3,955.4 1930.0,954.5 1930.7,952.9 1931.4,954.7 1932.1,955.6 1932.8,953.0 1933.5,954.1 1934.2,956.2 1934.9,953.2 1935.6,956.1 1936.3,953.5 1937.0,952.7 1937.7,954.0 1938.4,953.9 1939.1,955.6 1939.8,952.2 1940.5,953.5 1941.2,953.5 1941.9,953.3 1942.6,954.7 1943.3,953.9 1944.0,954.5 1944.7,954.2 1945.4,955.8 1946.1,953.8 1946.8,954.6 1947.5,955.5 1948.2,958.4 1948.9,954.6 1949.6,955.5 1950.3,955.0 1951.0,956.6 1951.7,954.7 1952.4,955.7 1953.1,955.8 1953.8,954.0 1954.5,955.3 1955.2,955.1 1955.9,955.4 1956.6,953.8 1957.3,953.3 1958.0,954.4 1958.7,955.9 1959.4,953.5 1960.1,955.8 1960.8,954.7 1961.5,954.8 1962.2,954.8 1962.9,952.3 1963.6,954.3 1964.3,957.2 1965.0,956.3 1965.7,954.8 1966.4,955.0 1967.1,952.6 1967.8,954.3 1968.5,955.6 1969.2,955.6 1969.9,954.0 1970.6,954.2 1971.3,953.7 1972.0,953.2 1972.7,954.6 1973.4,953.4 1974.1,955.4 1974.8,951.1 1975.5,951.3 1976.2,951.5 1976.9,952.6 1977.6,951.8 1978.3,950.4 1979.0,946.4 1979.7,948.1 1980.4,943.3 1981.1,938.5 1981.8,926.5 1982.5,913.5 1983.2,907.7 1983.9,915.6 1984.6,924.8 1985.3,933.5 1986.0,937.4 1986.7,941.4 1987.4,936.1 1988.1,935.4 1988.8,928.6 1989.5,925.3 1990.2,932.2 1990.9,938.7 1991.6,946.2 1992.3,948.4 1993.0,949.5 1993.7,951.1 1994.4,953.1 1995.1,950.9 1995.8,954.2 1996.5,953.1 1997.2,951.7 1997.9,952.3 1998.6,953.7 1999.3,953.6 2000.0,953.7 2000.7,954.7 2001.4,954.6 2002.1,954.1 2002.8,954.7 2003.5,952.3 2004.2,956.4 2004.9,954.7 2005.6,955.2 2006.3,954.8 2007.0,956.1 2007.7,954.7 2008.4,956.1 2009.1,954.1 2009.8,954.5 2010.5,955.4 2011.2,955.5 2011.9,956.2 2012.6,954.2 2013.3,955.3 2014.0,954.2 2014.7,953.2 2015.4,956.0 2016.1,954.8 2016.8,953.7 2017.5,954.0 2018.2,955.5 2018.9,954.9 2019.6,954.8 2020.3,955.7 2021.0,954.9 2021.7,952.9 2022.4,955.9 2023.1,954.4 2023.8,954.5 2024.5,954.2 2025.2,951.2 2025.9,955.0 2026.6,954.4 2027.3,954.9 2028.0,955.3 2028.7,956.0 2029.4,956.5 2030.1,956.3 2030.8,953.8 2031.5,957.6 2032.2,955.1 2032.9,956.6 2033.6,956.3 2034.3,954.4 2035.0,953.6 2035.7,955.3 2036.4,954.8 2037.1,955.8 2037.8,955.9 2038.5,955.4 2039.2,954.0 2039.9,953.7 2040.6,954.7 2041.3,955.6 2042.0,955.0 2042.7,955.9 2043.4,954.6 2044.1,956.3 2044.8,955.5 2045.5,954.7 2046.2,954.3 2046.9,954.9 2047.6,955.2 2048.3,956.9 2049.0,955.2 2049.7,955.9 2050.4,952.8 2051.1,956.2 2051.8,955.0 2052.5,954.1 2053.2,952.5 2053.9,954.2 2054.6,957.0 2055.3,956.1 2056.0,956.0 2056.7,954.6 2057.4,955.8 2058.1,955.8 2058.8,955.5 2059.5,954.1 2060.2,954.4 2060.9,954.8 2061.6,958.6 2062.3,952.9 2063.0,957.0 2063.7,956.7 2064.4,955.4 2065.1,956.1 2065.8,955.5 2066.5,957.6 2067.2,954.5 2067.9,952.9 2068.6,957.2 2069.3,957.1 2070.0,953.5 2070.7,956.4 2071.4,954.6 2072.1,955.7 2072.8,954.0 2073.5,953.9 2074.2,957.3 2074.9,954.0 2075.6,955.0 2076.3,955.9 2077.0,958.9 2077.7,954.6 2078.4,955.9 2079.1,956.0 2079.8,954.5 2080.5,954.5 2081.2,955.9 2081.9,955.0 2082.6,957.0 2083.3,953.1 2084.0,955.8 2084.7,955.0 2085.4,953.6 2086.1,955.0 2086.8,951.8 2087.5,954.8 2088.2,956.4 2088.9,954.4 2089.6,955.9 2090.3,955.5 2091.0,954.6 2091.7,953.0 2092.4,955.4 2093.1,955.5 2093.8,954.6 2094.5,955.0 2095.2,956.0 2095.9,954.0 2096.6,953.8 2097.3,955.5 2098.0,955.7 2098.7,952.5 2099.4,955.3 2100.1,956.7 2100.8,956.1 2101.5,954.7 2102.2,955.6 2102.9,953.3 2103.6,955.8 2104.3,955.5 2105.0,956.1 2105.7,954.9 2106.4,955.7 2107.1,954.6 2107.8,956.3 2108.5,955.6 2109.2,953.0 2109.9,953.2 2110.6,955.6 2111.3,956.1 2112.0,956.4 2112.7,954.4 2113.4,955.2 2114.1,954.6 2114.8,954.1 2115.5,954.6 2116.2,956.2 2116.9,954.3 2117.6,956.8 2118.3,953.1 2119.0,954.2 2119.7,955.0 2120.4,954.7 2121.1,954.3 2121.8,952.0 2122.5,953.3 2123.2,954.9 2123.9,953.7 2124.6,953.1 2125.3,952.5 2126.0,951.3 2126.7,950.8 2127.4,949.6 2128.1,951.3 2128.8,949.9 2129.5,949.6 2130.2,949.2 2130.9,949.0 2131.6,947.9 2132.3,950.0 2133.0,949.8 2133.7,950.6 2134.4,952.0 2135.1,953.8 2135.8,951.6 2136.5,953.2 2137.2,954.8 2137.9,953.8 2138.6,954.6 2139.3,953.7 2140.0,954.0 2140.7,956.3 2141.4,954.6 2142.1,955.9 2142.8,955.2 2143.5,957.1 2144.2,951.0 2144.9,953.9 2145.6,954.9 2146.3,955.2 2147.0,957.0 2147.7,956.4 2148.4,954.7 2149.1,953.5 2149.8,954.9 2150.5,955.5 2151.2,954.9 2151.9,956.2 2152.6,957.3 2153.3,955.6 2154.0,956.9 2154.7,953.2 2155.4,956.2 2156.1,958.0 2156.8,956.7 2157.5,954.6 2158.2,953.9 2158.9,955.7 2159.6,954.3 2160.3,954.7 2161.0,953.3 2161.7,954.2 2162.4,955.9 2163.1,951.2 2163.8,954.3 2164.5,950.1 2165.2,955.1 2165.9,955.7 2166.6,955.4 2167.3,952.0 2168.0,955.3 2168.7,954.2 2169.4,955.1 2170.1,954.0 2170.8,956.5 2171.5,957.4 2172.2,956.3 2172.9,957.2 2173.6,955.5 2174.3,954.9 2175.0,952.8 2175.7,954.5 2176.4,954.7 2177.1,957.0 2177.8,954.1 2178.5,955.3 2179.2,955.9 2179.9,955.2 2180.6,955.1 2181.3,956.3 2182.0,954.0 2182.7,955.0 2183.4,955.2 2184.1,956.7 2184.8,956.3 2185.5,955.2 2186.2,955.3 2186.9,951.6 2187.6,953.9 2188.3,952.0 2189.0,949.0 2189.7,947.3 2190.4,938.4 2191.1,929.8 2191.8,929.4 2192.5,940.1 2193.2,948.3 2193.9,950.6 2194.6,952.6 2195.3,953.1 2196.0,951.7 2196.7,947.7 2197.4,942.5 2198.1,938.7 2198.8,940.8 2199.5,947.1 2200.2,950.3 2200.9,954.1 2201.6,952.6 2202.3,955.8 2203.0,953.6 2203.7,953.4 2204.4,954.3 2205.1,952.5 2205.8,951.6 2206.5,955.3 2207.2,956.3 2207.9,952.6 2208.6,955.5 2209.3,954.4 2210.0,954.8 2210.7,956.9 2211.4,953.5 2212.1,954.5 2212.8,956.5 2213.5,955.4 2214.2,955.6 2214.9,954.3 2215.6,954.2 2216.3,954.2 2217.0,952.3 2217.7,956.5 2218.4,955.5 2219.1,958.0 2219.8,952.9 2220.5,953.9 2221.2,954.7 2221.9,953.6 2222.6,954.9 2223.3,953.6 2224.0,952.8 2224.7,954.2 2225.4,955.7 2226.1,953.2 2226.8,953.2 2227.5,951.5 2228.2,950.7 2228.9,949.0 2229.6,949.9 2230.3,948.1 2231.0,947.0 2231.7,946.9 2232.4,950.1 2233.1,949.3 2233.8,948.8 2234.5,951.7 2235.2,951.0 2235.9,950.9 2236.6,951.4 2237.3,950.6 2238.0,954.8 2238.7,949.3 2239.4,951.6 2240.1,953.3 2240.8,956.9 2241.5,952.2 2242.2,953.5 2242.9,954.1 2243.6,956.0 2244.3,956.5 2245.0,956.6 2245.7,955.1 2246.4,956.5 2247.1,955.7 2247.8,954.8 2248.5,954.8 2249.2,956.0 2249.9,955.6 2250.6,954.6 2251.3,954.2 2252.0,954.2 2252.7,956.9 2253.4,955.0 2254.1,955.5"/>
<polyline stroke="#008000" points="131.0,747.5 131.7,745.1 132.4,744.1 133.1,742.1 133.8,744.7 134.5,746.1 135.2,746.4 135.9,744.5 136.6,744.7 137.3,744.5 138.0,745.7 138.7,741.2 139.4,742.2 140.1,744.5 140.8,739.8 141.5,742.0 142.2,739.3 142.9,739.8 143.6,736.4 144.3,737.5 145.0,739.6 145.7,737.2 146.4,735.9 147.1,738.4 147.8,734.9 148.5,733.6 149.2,733.0 149.9,729.1 150.6,730.2 151.3,727.0 152.0,726.6 152.7,723.2 153.4,718.6 154.1,714.8 154.8,706.1 155.5,699.0 156.2,678.1 156.9,657.6 157.6,635.9 158.3,632.6 159.0,640.4 159.7,661.7 160.4,680.6 161.1,693.3 161.8,705.0 162.5,710.2 163.2,715.3 163.9,719.2 164.6,720.3 165.3,722.3 166.0,721.1 166.7,723.8 167.4,724.9 168.1,726.5 168.8,725.2 169.5,725.3 170.2,727.5 170.9,725.6 171.6,726.5 172.3,728.5 173.0,726.8 173.7,727.0 174.4,729.5 175.1,729.0 175.8,728.5 176.5,728.9 177.2,728.4 177.9,727.1 178.6,730.4 179.3,729.4 180.0,730.5 180.7,728.4 181.4,728.9 182.1,728.7 182.8,727.5 183.5,729.2 184.2,726.5 184.9,725.6 185.6,729.8 186.3,728.1 187.0,729.8 187.7,727.3 188.4,728.2 189.1,726.3 189.8,728.2 190.5,727.0 191.2,727.0 191.9,728.2 192.6,730.0 193.3,728.3 194.0,728.2 194.7,726.3 195.4,727.7 196.1,726.7 196.8,728.9 197.5,727.7 198.2,728.2 198.9,728.2 199.6,726.7 200.3,729.3 201.0,728.7 201.7,727.7 202.4,728.2 203.1,730.3 203.8,729.4 204.5,727.9 205.2,729.2 205.9,726.7 206.6,726.8 207.3,724.9 208.0,726.9 208.7,723.8 209.4,722.3 210.1,722.4 210.8,718.2 211.5,714.9 212.2,714.1 212.9,711.2 213.6,712.8 214.3,713.2 215.0,717.4 215.7,720.8 216.4,722.1 217.1,726.0 217.8,724.8 218.5,726.0 219.2,726.9 219.9,728.4 220.6,727.2 221.3,727.2 222.0,728.2 222.7,729.5 223.4,727.6 224.1,726.7 224.8,728.1 225.5,729.1 226.2,727.8 226.9,728.6 227.6,726.3 228.3,728.6 229.0,727.0 229.7,729.4 230.4,729.1 231.1,729.7 231.8,727.7 232.5,729.7 233.2,727.1 233.9,728.4 234.6,730.4 235.3,730.2 236.0,727.6 236.7,730.1 237.4,729.0 238.1,728.7 238.8,729.9 239.5,730.0 240.2,735.2 240.9,728.4 241.6,729.6 242.3,730.1 243.0,726.4 243.7,731.8 244.4,732.6 245.1,730.0 245.8,731.7 246.5,730.6 247.2,731.3 247.9,730.4 248.6,732.2 249.3,730.0 250.0,734.7 250.7,732.0 251.4,734.5 252.1,729.9 252.8,731.8 253.5,730.6 254.2,732.0 254.9,732.8 255.6,731.4 256.3,730.9 257.0,730.7 257.7,733.1 258.4,734.4 259.1,734.5 259.8,733.3 260.5,732.3 261.2,733.2 261.9,732.0 262.6,732.1 263.3,735.3 264.0,733.9 264.7,734.8 265.4,734.2 266.1,736.3 266.8,736.6 267.5,734.2 268.2,734.8 268.9,734.6 269.6,737.1 270.3,737.2 271.0,735.6 271.7,738.8 272.4,735.5 273.1,735.1 273.8,734.3 274.5,736.7 275.2,737.4 275.9,736.5 276.6,737.8 277.3,738.9 278.0,738.6 278.7,738.8 279.4,739.9 280.1,738.8 280.8,737.7 281.5,739.0 282.2,739.3 282.9,741.3 283.6,738.5 284.3,737.4 285.0,739.6 285.7,739.8 286.4,739.1 287.1,740.4 287.8,740.2 288.5,741.3 289.2,739.1 289.9,739.3 290.6,740.1 291.3,739.5 292.0,741.5 292.7,740.5 293.4,739.3 294.1,740.3 294.8,737.9 295.5,736.5 296.2,733.5 296.9,729.0 297.6,725.4 298.3,722.7 299.0,720.5 299.7,722.9 300.4,727.5 301.1,731.0 301.8,733.5 302.5,740.7 303.2,739.3 303.9,743.1 304.6,744.6 305.3,746.3 306.0,744.6 306.7,747.5 307.4,746.5 308.1,748.4 308.8,748.0 309.5,748.4 310.2,747.9 310.9,750.8 311.6,749.6 312.3,749.3 313.0,748.3 313.7,750.5 314.4,748.5 315.1,751.3 315.8,750.6 316.5,749.6 317.2,749.6 317.9,751.0 318.6,751.5 319.3,750.9 320.0,751.4 320.7,751.7 321.4,751.6 322.1,753.0 322.8,752.9 323.5,754.3 324.2,753.8 324.9,752.6 325.6,755.3 326.3,755.0 327.0,753.5 327.7,755.2 328.4,753.6 329.1,753.5 329.8,753.8 330.5,756.6 331.2,755.1 331.9,755.5 332.6,755.4 333.3,755.0 334.0,756.2 334.7,756.7 335.4,758.3 336.1,755.3 336.8,758.2 337.5,757.4 338.2,754.8 338.9,758.1 339.6,759.0 340.3,758.2 341.0,757.7 341.7,757.8 342.4,755.5 343.1,758.3 343.8,758.3 344.5,757.2 345.2,758.7 345.9,757.9 346.6,761.4 347.3,757.6 348.0,758.1 348.7,756.8 349.4,759.0 350.1,759.7 350.8,759.8 351.5,759.2 352.2,758.9 352.9,760.5 353.6,761.8 354.3,760.5 355.0,758.7 355.7,760.8 356.4,758.7 357.1,762.2 357.8,760.9 358.5,761.3 359.2,761.7 359.9,760.2 360.6,761.6 361.3,763.3 362.0,761.8 362.7,762.4 363.4,762.9 364.1,762.1 364.8,762.5 365.5,763.8 366.2,763.0 366.9,763.7 367.6,763.6 368.3,763.5 369.0,762.6 369.7,766.5 370.4,766.0 371.1,764.4 371.8,765.8 372.5,766.2 373.2,766.2 373.9,764.8 374.6,763.8 375.3,764.1 376.0,765.4 376.7,767.2 377.4,767.8 378.1,765.9 378.8,766.0 379.5,767.9 380.2,767.7 380.9,768.2 381.6,767.5 382.3,767.3 383.0,766.9 383.7,767.1 384.4,767.2 385.1,767.7 385.8,766.1 386.5,768.0 387.2,769.1 387.9,769.2 388.6,769.4 389.3,769.0 390.0,769.0 390.7,771.1 391.4,768.8 392.1,769.4 392.8,770.7 393.5,769.5 394.2,768.1 394.9,769.1 395.6,769.3 396.3,769.8 397.0,769.6 397.7,771.4 398.4,771.2 399.1,773.0 399.8,770.2 400.5,771.9 401.2,772.0 401.9,773.5 402.6,770.4 403.3,771.1 404.0,773.0 404.7,770.3 405.4,771.9 406.1,772.0 406.8,772.0 407.5,770.9 408.2,772.2 408.9,770.5 409.6,773.7 410.3,771.9 411.0,772.8 411.7,772.7 412.4,773.0 413.1,773.1 413.8,773.5 414.5,772.8 415.2,773.3 415.9,775.3 416.6,770.3 417.3,772.6 418.0,772.6 418.7,773.2 419.4,773.2 420.1,774.8 420.8,773.4 421.5,774.8 422.2,774.7 422.9,774.9 423.6,777.6 424.3,772.9 425.0,775.1 425.7,773.4 426.4,776.4 427.1,774.9 427.8,775.7 428.5,775.5 429.2,776.2 429.9,772.2 430.6,774.3 431.3,775.8 432.0,774.3 432.7,776.6 433.4,777.4 434.1,774.7 434.8,775.7 435.5,777.1 436.2,778.5 436.9,777.7 437.6,777.5 438.3,775.7 439.0,778.1 439.7,777.1 440.4,776.4 441.1,777.6 441.8,776.9 442.5,776.4 443.2,779.9 443.9,777.3 444.6,779.8 445.3,777.3 446.0,777.7 446.7,776.5 447.4,777.3 448.1,779.9 448.8,778.2 449.5,775.9 450.2,779.9 450.9,777.4 451.6,778.0 452.3,778.5 453.0,776.5 453.7,780.4 454.4,782.5 455.1,778.4 455.8,779.3 456.5,778.6 457.2,778.8 457.9,781.4 458.6,777.5 459.3,781.2 460.0,778.6 460.7,781.5 461.4,777.7 462.1,780.9 462.8,780.3 463.5,779.7 464.2,778.9 464.9,781.7 465.6,782.8 466.3,779.7 467.0,779.5 467.7,780.0 468.4,781.9 469.1,778.8 469.8,780.0 470.5,781.3 471.2,778.4 471.9,780.9 472.6,781.4 473.3,779.6 474.0,780.0 474.7,778.4 475.4,780.7 476.1,778.9 476.8,779.8 477.5,780.7 478.2,779.7 478.9,781.4 479.6,781.2 480.3,781.0 481.0,781.7 481.7,780.3 482.4,778.1 483.1,781.5 483.8,781.5 484.5,780.1 485.2,778.0 485.9,782.0 486.6,780.1 487.3,780.2 488.0,780.2 488.7,783.4 489.4,779.9 490.1,777.8 490.8,782.3 491.5,779.5 492.2,778.7 492.9,780.8 493.6,780.1 494.3,781.7 495.0,780.3 495.7,782.0 496.4,781.7 497.1,780.6 497.8,781.4 498.5,781.6 499.2,781.2 499.9,778.8 500.6,780.4 501.3,780.4 502.0,781.5 502.7,779.7 503.4,781.0 504.1,779.2 504.8,779.0 505.5,778.2 506.2,777.8 506.9,776.6 507.6,775.5 508.3,771.3 509.0,766.1 509.7,759.4 510.4,748.7 511.1,735.7 511.8,728.0 512.5,727.6 513.2,734.6 513.9,739.8 514.6,754.3 515.3,758.9 516.0,766.4 516.7,772.7 517.4,774.6 518.1,777.0 518.8,777.9 519.5,777.6 520.2,778.0 520.9,779.6 521.6,780.7 522.3,781.3 523.0,781.0 523.7,780.6 524.4,782.4 525.1,778.7 525.8,781.3 526.5,782.8 527.2,783.3 527.9,782.9 528.6,783.1 529.3,782.7 530.0,781.7 530.7,779.0 531.4,781.0 532.1,781.2 532.8,783.3 533.5,780.9 534.2,780.9 534.9,781.9 535.6,779.9 536.3,780.9 537.0,781.2 537.7,779.9 538.4,779.8 539.1,777.3 539.8,777.2 540.5,777.3 541.2,777.4 541.9,773.2 542.6,769.4 543.3,764.6 544.0,759.4 544.7,748.2 545.4,739.8 546.1,731.6 546.8,724.5 547.5,723.3 548.2,728.6 548.9,737.6 549.6,745.0 550.3,754.0 551.0,759.4 551.7,768.8 552.4,771.9 553.1,776.0 553.8,777.8 554.5,777.7 555.2,779.3 555.9,779.2 556.6,783.6 557.3,782.9 558.0,785.4 558.7,783.9 559.4,784.4 560.1,784.0 560.8,784.4 561.5,786.2 562.2,781.6 562.9,783.9 563.6,783.1 564.3,784.0 565.0,779.9 565.7,782.8 566.4,785.1 567.1,782.8 567.8,784.9 568.5,783.3 569.2,784.1 569.9,782.5 570.6,783.5 571.3,782.5 572.0,784.8 572.7,781.0 573.4,784.3 574.1,783.1 574.8,783.8 575.5,785.0 576.2,782.7 576.9,781.9 577.6,782.2 578.3,782.3 579.0,780.1 579.7,781.6 580.4,778.3 581.1,775.4 581.8,771.7 582.5,767.1 583.2,760.4 583.9,750.5 584.6,735.9 585.3,719.8 586.0,706.0 586.7,694.9 587.4,698.1 588.1,704.0 588.8,713.7 589.5,728.4 590.2,740.3 590.9,755.5 591.6,762.6 592.3,769.0 593.0,776.6 593.7,776.8 594.4,780.1 595.1,780.2 595.8,781.7 596.5,782.8 597.2,783.2 597.9,786.0 598.6,786.1 599.3,784.5 600.0,788.2 600.7,785.7 601.4,785.8 602.1,786.6 602.8,785.1 603.5,788.0 604.2,785.5 604.9,785.3 605.6,788.0 606.3,785.8 607.0,786.6 607.7,785.6 608.4,786.5 609.1,787.2 609.8,784.4 610.5,787.1 611.2,786.3 611.9,788.8 612.6,789.6 613.3,787.9 614.0,788.0 614.7,788.5 615.4,788.5 616.1,785.7 616.8,785.8 617.5,786.8 618.2,785.8 618.9,787.0 619.6,787.5 620.3,786.4 621.0,787.9 621.7,789.0 622.4,787.4 623.1,787.8 623.8,787.3 624.5,787.2 625.2,786.7 625.9,786.0 626.6,788.0 627.3,788.6 628.0,787.3 628.7,787.4 629.4,785.7 630.1,787.0 630.8,787.6 631.5,787.1 632.2,787.3 632.9,786.1 633.6,785.8 634.3,786.9 635.0,788.9 635.7,786.7 636.4,784.8 637.1,786.4 637.8,784.1 638.5,788.4 639.2,788.3 639.9,786.1 640.6,785.8 641.3,786.6 642.0,786.9 642.7,785.7 643.4,787.9 644.1,786.2 644.8,787.0 645.5,786.4 646.2,787.1 646.9,786.3 647.6,786.6 648.3,787.6 649.0,786.3 649.7,787.4 650.4,784.1 651.1,785.0 651.8,783.6 652.5,782.5 653.2,782.7 653.9,783.7 654.6,779.3 655.3,776.3 656.0,767.8 656.7,764.0 657.4,757.2 658.1,757.7 658.8,759.2 659.5,760.6 660.2,766.5 660.9,769.4 661.6,775.1 662.3,777.8 663.0,781.2 663.7,782.5 664.4,781.3 665.1,784.0 665.8,784.3 666.5,787.1 667.2,782.6 667.9,785.7 668.6,786.7 669.3,786.5 670.0,787.4 670.7,785.9 671.4,787.7 672.1,786.0 672.8,785.9 673.5,785.8 674.2,785.8 674.9,787.9 675.6,784.4 676.3,784.5 677.0,787.3 677.7,786.8 678.4,783.9 679.1,786.0 679.8,787.0 680.5,786.0 681.2,785.6 681.9,785.7 682.6,786.4 683.3,786.3 684.0,785.7 684.7,787.9 685.4,786.6 686.1,785.7 686.8,784.6 687.5,786.0 688.2,784.2 688.9,785.0 689.6,784.7 690.3,785.3 691.0,786.1 691.7,782.2 692.4,787.5 693.1,786.3 693.8,785.2 694.5,785.0 695.2,784.7 695.9,785.4 696.6,787.5 697.3,785.3 698.0,784.3 698.7,783.7 699.4,785.1 700.1,786.3 700.8,783.6 701.5,786.3 702.2,785.6 702.9,784.2 703.6,785.8 704.3,782.1 705.0,781.3 705.7,783.7 706.4,783.5 707.1,782.9 707.8,781.8 708.5,779.4 709.2,780.6 709.9,778.2 710.6,777.7 711.3,774.3 712.0,768.5 712.7,763.0 713.4,748.5 714.1,720.2 714.8,672.3 715.5,617.4 716.2,593.5 716.9,615.3 717.6,640.7 718.3,659.1 719.0,689.1 719.7,722.9 720.4,747.2 721.1,764.0 721.8,769.0 722.5,774.5 723.2,777.6 723.9,777.4 724.6,779.5 725.3,782.4 726.0,782.0 726.7,781.5 727.4,785.2 728.1,783.9 728.8,784.1 729.5,786.4 730.2,782.8 730.9,784.1 731.6,783.6 732.3,786.6 733.0,784.3 733.7,788.0 734.4,786.0 735.1,785.9 735.8,790.2 736.5,785.4 737.2,784.7 737.9,784.7 738.6,785.9 739.3,784.8 740.0,786.1 740.7,785.3 741.4,785.8 742.1,786.0 742.8,787.5 743.5,786.4 744.2,788.4 744.9,786.1 745.6,785.6 746.3,787.6 747.0,788.0 747.7,787.6 748.4,785.8 749.1,786.9 749.8,786.2 750.5,787.7 751.2,787.6 751.9,786.8 752.6,786.1 753.3,788.6 754.0,786.8 754.7,787.5 755.4,787.2 756.1,787.4 756.8,787.8 757.5,783.4 758.2,786.5 758.9,786.8 759.6,782.2 760.3,785.4 761.0,784.3 761.7,784.2 762.4,780.6 763.1,774.5 763.8,767.9 764.5,769.7 765.2,773.4 765.9,775.3 766.6,776.3 767.3,778.4 768.0,783.1 768.7,783.8 769.4,785.8 770.1,786.2 770.8,787.5 771.5,786.2 772.2,788.2 772.9,786.0 773.6,785.5 774.3,787.3 775.0,785.1 775.7,787.0 776.4,787.0 777.1,786.8 777.8,787.0 778.5,786.7 779.2,786.3 779.9,787.7 780.6,784.1 781.3,785.8 782.0,787.0 782.7,787.0 783.4,786.2 784.1,784.8 784.8,782.6 785.5,783.9 786.2,782.3 786.9,778.7 787.6,777.7 788.3,783.3 789.0,781.6 789.7,780.3 790.4,784.4 791.1,784.9 791.8,782.7 792.5,785.7 793.2,784.9 793.9,785.6 794.6,789.2 795.3,786.1 796.0,786.9 796.7,784.0 797.4,783.2 798.1,785.0 798.8,779.4 799.5,782.6 800.2,783.6 800.9,781.3 801.6,780.4 802.3,781.8 803.0,781.0 803.7,779.9 804.4,781.1 805.1,778.1 805.8,779.8 806.5,777.2 807.2,778.4 807.9,775.8 808.6,777.4 809.3,776.0 810.0,774.9 810.7,774.9 811.4,774.1 812.1,774.7 812.8,772.5 813.5,773.3 814.2,772.1 814.9,771.5 815.6,771.4 816.3,770.6 817.0,772.2 817.7,772.0 818.4,772.4 819.1,770.4 819.8,772.1 820.5,774.7 821.2,774.8 821.9,773.8 822.6,774.5 823.3,775.3 824.0,776.9 824.7,778.0 825.4,777.3 826.1,777.9 826.8,778.2 827.5,779.2 828.2,781.4 828.9,779.2 829.6,781.3 830.3,779.8 831.0,780.4 831.7,780.2 832.4,783.6 833.1,784.6 833.8,785.2 834.5,784.7 835.2,784.1 835.9,785.6 836.6,783.5 837.3,783.4 838.0,784.3 838.7,785.3 839.4,783.7 840.1,783.4 840.8,788.1 841.5,786.1 842.2,786.1 842.9,785.9 843.6,787.6 844.3,787.7 845.0,787.1 845.7,787.0 846.4,784.8 847.1,785.7 847.8,786.9 848.5,785.6 849.2,787.2 849.9,787.1 850.6,789.7 851.3,789.0 852.0,786.5 852.7,788.7 853.4,788.3 854.1,787.9 854.8,787.7 855.5,788.4 856.2,790.1 856.9,788.6 857.6,787.9 858.3,790.0 859.0,786.1 859.7,788.1 860.4,787.1 861.1,788.3 861.8,788.5 862.5,790.0 863.2,787.6 863.9,787.6 864.6,788.5 865.3,789.7 866.0,787.4 866.7,787.2 867.4,786.4 868.1,784.9 868.8,781.7 869.5,778.7 870.2,775.9 870.9,774.3 871.6,774.9 872.3,774.7 873.0,776.1 873.7,778.4 874.4,780.2 875.1,782.6 875.8,782.9 876.5,787.9 877.2,786.5 877.9,787.1 878.6,786.8 879.3,788.6 880.0,789.4 880.7,788.3 881.4,788.4 882.1,788.3 882.8,791.2 883.5,789.4 884.2,788.3 884.9,789.0 885.6,790.0 886.3,789.1 887.0,789.3 887.7,789.1 888.4,790.5 889.1,789.6 889.8,790.8 890.5,789.6 891.2,791.5 891.9,788.1 892.6,789.0 893.3,786.7 894.0,788.1 894.7,789.8 895.4,789.4 896.1,790.3 896.8,789.1 897.5,788.6 898.2,790.1 898.9,789.5 899.6,790.6 900.3,787.9 901.0,788.6 901.7,789.1 902.4,790.7 903.1,789.5 903.8,787.7 904.5,787.9 905.2,789.5 905.9,787.1 906.6,788.1 907.3,788.6 908.0,788.3 908.7,789.0 909.4,789.5 910.1,788.8 910.8,787.0 911.5,789.8 912.2,789.4 912.9,787.3 913.6,787.7 914.3,786.4 915.0,789.3 915.7,787.1 916.4,787.9 917.1,787.7 917.8,788.3 918.5,786.7 919.2,789.0 919.9,784.5 920.6,786.1 921.3,783.7 922.0,783.3 922.7,778.2 923.4,784.6 924.1,777.1 924.8,774.8 925.5,767.4 926.2,754.0 926.9,732.1 927.6,698.4 928.3,666.3 929.0,652.3 929.7,666.7 930.4,683.7 931.1,696.4 931.8,702.8 932.5,721.5 933.2,740.1 933.9,758.7 934.6,766.7 935.3,772.1 936.0,774.5 936.7,773.6 937.4,771.8 938.1,771.0 938.8,766.9 939.5,757.3 940.2,751.5 940.9,743.3 941.6,746.0 942.3,747.9 943.0,750.4 943.7,756.2 944.4,760.5 945.1,768.3 945.8,772.0 946.5,776.2 947.2,781.7 947.9,785.0 948.6,786.3 949.3,784.9 950.0,785.7 950.7,786.8 951.4,788.0 952.1,787.6 952.8,787.9 953.5,787.6 954.2,784.8 954.9,786.5 955.6,788.2 956.3,786.4 957.0,790.5 957.7,787.4 958.4,789.1 959.1,789.4 959.8,789.7 960.5,787.2 961.2,788.3 961.9,790.2 962.6,788.6 963.3,789.4 964.0,785.7 964.7,788.8 965.4,788.5 966.1,788.1 966.8,786.2 967.5,787.2 968.2,787.9 968.9,787.3 969.6,786.3 970.3,788.5 971.0,788.0 971.7,786.2 972.4,787.8 973.1,784.4 973.8,785.5 974.5,784.5 975.2,784.6 975.9,783.0 976.6,785.6 977.3,781.5 978.0,780.3 978.7,779.5 979.4,779.3 980.1,778.4 980.8,778.2 981.5,776.2 982.2,776.9 982.9,776.5 983.6,774.8 984.3,776.9 985.0,773.9 985.7,773.6 986.4,773.4 987.1,768.7 987.8,771.9 988.5,772.2 989.2,773.1 989.9,772.3 990.6,774.8 991.3,772.8 992.0,772.5 992.7,771.8 993.4,773.4 994.1,772.9 994.8,773.2 995.5,773.7 996.2,774.5 996.9,771.7 997.6,776.3 998.3,772.8 999.0,773.0 999.7,772.0 1000.4,773.4 1001.1,773.3 1001.8,773.0 1002.5,771.8 1003.2,773.4 1003.9,771.5 1004.6,770.9 1005.3,773.4 1006.0,772.0 1006.7,770.8 1007.4,771.7 1008.1,772.5 1008.8,770.2 1009.5,772.2 1010.2,771.5 1010.9,771.2 1011.6,770.9 1012.3,772.2 1013.0,771.5 1013.7,773.0 1014.4,771.5 1015.1,773.5 1015.8,772.0 1016.5,772.3 1017.2,772.1 1017.9,772.0 1018.6,774.0 1019.3,771.4 1020.0,771.5 1020.7,771.8 1021.4,772.8 1022.1,770.9 1022.8,773.6 1023.5,770.9 1024.2,771.3 1024.9,772.0 1025.6,772.1 1026.3,770.8 1027.0,772.8 1027.7,773.8 1028.4,771.7 1029.1,772.6 1029.8,772.5 1030.5,774.6 1031.2,771.9 1031.9,772.2 1032.6,771.4 1033.3,772.1 1034.0,771.4 1034.7,771.3 1035.4,771.4 1036.1,772.7 1036.8,771.3 1037.5,772.6 1038.2,771.4 1038.9,772.6 1039.6,769.3 1040.3,767.9 1041.0,767.0 1041.7,763.3 1042.4,755.4 1043.1,749.8 1043.8,755.2 1044.5,760.6 1045.2,761.2 1045.9,765.1 1046.6,772.2 1047.3,768.7 1048.0,773.2 1048.7,777.7 1049.4,780.0 1050.1,782.2 1050.8,782.2 1051.5,784.4 1052.2,782.2 1052.9,782.0 1053.6,782.5 1054.3,782.4 1055.0,783.1 1055.7,782.2 1056.4,783.9 1057.1,784.1 1057.8,784.2 1058.5,781.4 1059.2,780.0 1059.9,780.3 1060.6,779.9 1061.3,778.1 1062.0,777.6 1062.7,775.4 1063.4,772.0 1064.1,766.2 1064.8,761.8 1065.5,751.7 1066.2,739.5 1066.9,729.5 1067.6,717.7 1068.3,704.4 1069.0,695.1 1069.7,695.0 1070.4,699.8 1071.1,704.2 1071.8,708.1 1072.5,717.6 1073.2,728.7 1073.9,738.2 1074.6,750.0 1075.3,756.6 1076.0,763.3 1076.7,765.3 1077.4,770.5 1078.1,773.9 1078.8,776.6 1079.5,777.4 1080.2,776.1 1080.9,781.0 1081.6,778.3 1082.3,778.7 1083.0,779.2 1083.7,778.8 1084.4,780.0 1085.1,780.0 1085.8,780.5 1086.5,780.4 1087.2,780.9 1087.9,781.9 1088.6,780.1 1089.3,779.0 1090.0,779.9 1090.7,777.6 1091.4,776.0 1092.1,771.1 1092.8,768.2 1093.5,763.8 1094.2,760.9 1094.9,761.6 1095.6,763.3 1096.3,765.6 1097.0,765.8 1097.7,769.9 1098.4,772.9 1099.1,774.9 1099.8,780.7 1100.5,778.5 1101.2,782.1 1101.9,781.4 1102.6,784.5 1103.3,781.7 1104.0,782.0 1104.7,784.9 1105.4,783.3 1106.1,786.0 1106.8,784.6 1107.5,784.6 1108.2,785.7 1108.9,786.6 1109.6,786.5 1110.3,784.4 1111.0,785.3 1111.7,786.7 1112.4,785.0 1113.1,784.9 1113.8,785.0 1114.5,789.6 1115.2,787.7 1115.9,786.7 1116.6,785.9 1117.3,786.9 1118.0,784.6 1118.7,786.1 1119.4,787.4 1120.1,786.7 1120.8,785.2 1121.5,786.5 1122.2,786.4 1122.9,788.1 1123.6,787.6 1124.3,786.9 1125.0,789.1 1125.7,786.2 1126.4,788.1 1127.1,787.4 1127.8,786.8 1128.5,786.4 1129.2,789.3 1129.9,788.7 1130.6,785.2 1131.3,787.2 1132.0,788.1 1132.7,786.2 1133.4,786.3 1134.1,788.7 1134.8,786.9 1135.5,786.8 1136.2,787.7 1136.9,787.6 1137.6,787.9 1138.3,788.0 1139.0,788.9 1139.7,787.8 1140.4,788.9 1141.1,786.3 1141.8,787.7 1142.5,786.9 1143.2,789.1 1143.9,787.9 1144.6,788.9 1145.3,787.3 1146.0,788.4 1146.7,787.7 1147.4,787.5 1148.1,786.0 1148.8,787.4 1149.5,786.9 1150.2,789.3 1150.9,788.0 1151.6,788.5 1152.3,788.4 1153.0,789.2 1153.7,788.4 1154.4,788.4 1155.1,788.3 1155.8,786.4 1156.5,787.9 1157.2,786.6 1157.9,786.6 1158.6,788.0 1159.3,785.9 1160.0,787.6 1160.7,788.9 1161.4,787.7 1162.1,788.6 1162.8,786.5 1163.5,787.6 1164.2,784.7 1164.9,786.2 1165.6,786.6 1166.3,789.1 1167.0,789.0 1167.7,784.1 1168.4,785.2 1169.1,785.1 1169.8,782.3 1170.5,778.7 1171.2,776.5 1171.9,779.3 1172.6,781.8 1173.3,780.7 1174.0,782.6 1174.7,782.4 1175.4,783.9 1176.1,782.9 1176.8,786.0 1177.5,784.3 1178.2,787.8 1178.9,786.9 1179.6,789.5 1180.3,789.7 1181.0,786.3 1181.7,790.0 1182.4,787.9 1183.1,789.5 1183.8,788.6 1184.5,788.0 1185.2,788.1 1185.9,787.8 1186.6,789.9 1187.3,788.2 1188.0,786.8 1188.7,788.4 1189.4,786.7 1190.1,787.4 1190.8,785.3 1191.5,785.9 1192.2,783.8 1192.9,783.4 1193.6,784.3 1194.3,784.9 1195.0,784.2 1195.7,784.3 1196.4,787.7 1197.1,785.1 1197.8,782.9 1198.5,787.0 1199.2,786.4 1199.9,785.9 1200.6,785.5 1201.3,789.4 1202.0,788.3 1202.7,788.5 1203.4,789.2 1204.1,791.1 1204.8,788.5 1205.5,791.2 1206.2,790.1 1206.9,790.4 1207.6,791.8 1208.3,789.8 1209.0,790.9 1209.7,790.4 1210.4,787.1 1211.1,790.3 1211.8,790.6 1212.5,790.4 1213.2,792.1 1213.9,790.2 1214.6,791.4 1215.3,791.3 1216.0,791.5 1216.7,789.1 1217.4,790.6 1218.1,790.7 1218.8,793.1 1219.5,791.0 1220.2,792.1 1220.9,791.8 1221.6,790.0 1222.3,790.4 1223.0,792.0 1223.7,792.6 1224.4,793.6 1225.1,791.6 1225.8,790.5 1226.5,791.9 1227.2,790.5 1227.9,793.6 1228.6,791.8 1229.3,792.2 1230.0,794.3 1230.7,792.8 1231.4,790.9 1232.1,792.9 1232.8,795.8 1233.5,791.1 1234.2,791.5 1234.9,790.9 1235.6,793.1 1236.3,791.6 1237.0,792.1 1237.7,793.7 1238.4,792.4 1239.1,792.1 1239.8,792.8 1240.5,792.0 1241.2,792.7 1241.9,792.4 1242.6,793.6 1243.3,792.2 1244.0,791.6 1244.7,792.2 1245.4,790.2 1246.1,792.4 1246.8,793.5 1247.5,794.8 1248.2,793.0 1248.9,794.0 1249.6,790.5 1250.3,792.8 1251.0,793.1 1251.7,793.9 1252.4,792.0 1253.1,793.0 1253.8,792.8 1254.5,792.1 1255.2,793.7 1255.9,794.2 1256.6,790.8 1257.3,792.1 1258.0,793.0 1258.7,794.0 1259.4,791.2 1260.1,790.9 1260.8,790.2 1261.5,792.7 1262.2,792.1 1262.9,792.3 1263.6,792.2 1264.3,790.3 1265.0,793.4 1265.7,796.2 1266.4,790.6 1267.1,791.3 1267.8,790.9 1268.5,791.0 1269.2,793.9 1269.9,792.8 1270.6,790.4 1271.3,793.7 1272.0,791.7 1272.7,791.0 1273.4,789.2 1274.1,788.3 1274.8,786.0 1275.5,788.8 1276.2,781.9 1276.9,780.1 1277.6,781.1 1278.3,781.1 1279.0,781.4 1279.7,786.3 1280.4,783.4 1281.1,783.3 1281.8,784.5 1282.5,786.6 1283.2,787.9 1283.9,789.2 1284.6,789.0 1285.3,788.4 1286.0,790.5 1286.7,788.4 1287.4,787.5 1288.1,788.3 1288.8,787.8 1289.5,784.3 1290.2,781.6 1290.9,777.5 1291.6,770.0 1292.3,760.3 1293.0,748.5 1293.7,734.8 1294.4,723.0 1295.1,728.9 1295.8,736.8 1296.5,741.5 1297.2,748.5 1297.9,747.1 1298.6,753.4 1299.3,757.8 1300.0,767.2 1300.7,774.2 1301.4,780.3 1302.1,781.9 1302.8,787.6 1303.5,788.3 1304.2,788.7 1304.9,790.7 1305.6,789.8 1306.3,792.6 1307.0,792.2 1307.7,793.2 1308.4,790.3 1309.1,791.6 1309.8,789.4 1310.5,791.8 1311.2,790.9 1311.9,791.2 1312.6,792.9 1313.3,791.9 1314.0,793.3 1314.7,790.8 1315.4,791.2 1316.1,792.5 1316.8,789.7 1317.5,791.0 1318.2,792.2 1318.9,790.1 1319.6,792.7 1320.3,791.1 1321.0,793.2 1321.7,791.5 1322.4,794.0 1323.1,790.4 1323.8,793.7 1324.5,790.7 1325.2,794.0 1325.9,792.4 1326.6,790.3 1327.3,793.1 1328.0,791.8 1328.7,792.3 1329.4,792.4 1330.1,793.5 1330.8,792.1 1331.5,793.2 1332.2,791.4 1332.9,788.7 1333.6,793.1 1334.3,794.0 1335.0,792.6 1335.7,788.8 1336.4,793.1 1337.1,793.3 1337.8,791.6 1338.5,796.1 1339.2,792.2 1339.9,791.3 1340.6,792.7 1341.3,793.2 1342.0,792.7 1342.7,792.0 1343.4,792.7 1344.1,793.3 1344.8,792.0 1345.5,791.7 1346.2,792.9 1346.9,792.9 1347.6,790.7 1348.3,795.5 1349.0,793.8 1349.7,794.6 1350.4,794.0 1351.1,791.1 1351.8,795.1 1352.5,790.9 1353.2,791.7 1353.9,793.1 1354.6,792.0 1355.3,795.7 1356.0,793.8 1356.7,792.7 1357.4,794.7 1358.1,791.0 1358.8,793.4 1359.5,793.6 1360.2,795.0 1360.9,793.8 1361.6,790.9 1362.3,793.4 1363.0,792.3 1363.7,792.9 1364.4,793.3 1365.1,794.1 1365.8,792.2 1366.5,793.3 1367.2,793.9 1367.9,793.7 1368.6,793.7 1369.3,790.9 1370.0,793.2 1370.7,793.9 1371.4,792.2 1372.1,793.1 1372.8,791.8 1373.5,793.3 1374.2,792.9 1374.9,791.5 1375.6,793.1 1376.3,792.9 1377.0,790.9 1377.7,792.0 1378.4,791.9 1379.1,790.8 1379.8,793.3 1380.5,791.2 1381.2,792.0 1381.9,789.4 1382.6,791.5 1383.3,790.1 1384.0,791.9 1384.7,790.8 1385.4,792.1 1386.1,789.5 1386.8,788.4 1387.5,790.0 1388.2,789.0 1388.9,787.7 1389.6,786.2 1390.3,785.5 1391.0,784.3 1391.7,781.9 1392.4,779.6 1393.1,775.2 1393.8,773.5 1394.5,770.7 1395.2,769.9 1395.9,769.3 1396.6,770.4 1397.3,772.1 1398.0,771.7 1398.7,771.6 1399.4,774.3 1400.1,778.4 1400.8,780.1 1401.5,782.2 1402.2,785.9 1402.9,786.9 1403.6,790.4 1404.3,787.3 1405.0,788.8 1405.7,790.5 1406.4,791.5 1407.1,790.9 1407.8,791.5 1408.5,793.2 1409.2,793.0 1409.9,791.9 1410.6,793.4 1411.3,792.4 1412.0,792.5 1412.7,790.8 1413.4,791.2 1414.1,791.3 1414.8,791.7 1415.5,790.9 1416.2,790.1 1416.9,792.0 1417.6,795.1 1418.3,792.3 1419.0,791.0 1419.7,791.7 1420.4,792.8 1421.1,793.3 1421.8,792.5 1422.5,794.0 1423.2,792.9 1423.9,790.7 1424.6,793.0 1425.3,790.8 1426.0,792.6 1426.7,791.1 1427.4,787.9 1428.1,786.9 1428.8,786.9 1429.5,785.1 1430.2,779.7 1430.9,774.3 1431.6,770.7 1432.3,772.4 1433.0,776.7 1433.7,779.1 1434.4,783.0 1435.1,781.6 1435.8,780.5 1436.5,779.9 1437.2,785.2 1437.9,784.8 1438.6,789.7 1439.3,790.4 1440.0,791.0 1440.7,788.1 1441.4,794.0 1442.1,790.6 1442.8,791.1 1443.5,791.6 1444.2,791.5 1444.9,790.1 1445.6,793.1 1446.3,792.1 1447.0,792.6 1447.7,791.5 1448.4,792.9 1449.1,792.5 1449.8,789.9 1450.5,791.8 1451.2,790.3 1451.9,792.7 1452.6,793.1 1453.3,794.0 1454.0,793.5 1454.7,791.7 1455.4,792.8 1456.1,791.4 1456.8,793.4 1457.5,795.9 1458.2,791.5 1458.9,791.0 1459.6,794.2 1460.3,792.3 1461.0,793.2 1461.7,792.3 1462.4,790.5 1463.1,792.8 1463.8,794.5 1464.5,794.2 1465.2,793.2 1465.9,790.7 1466.6,793.6 1467.3,792.1 1468.0,790.9 1468.7,792.4 1469.4,792.6 1470.1,792.8 1470.8,791.5 1471.5,791.9 1472.2,792.5 1472.9,792.9 1473.6,793.0 1474.3,791.0 1475.0,793.6 1475.7,790.9 1476.4,792.8 1477.1,792.1 1477.8,789.2 1478.5,791.5 1479.2,792.3 1479.9,792.7 1480.6,792.1 1481.3,792.9 1482.0,792.2 1482.7,792.0 1483.4,793.3 1484.1,796.8 1484.8,791.8 1485.5,791.9 1486.2,792.9 1486.9,791.4 1487.6,793.2 1488.3,792.2 1489.0,794.3 1489.7,790.9 1490.4,792.2 1491.1,790.9 1491.8,792.4 1492.5,791.0 1493.2,790.2 1493.9,790.5 1494.6,790.6 1495.3,791.3 1496.0,789.8 1496.7,791.3 1497.4,789.8 1498.1,789.1 1498.8,785.3 1499.5,787.3 1500.2,787.8 1500.9,783.0 1501.6,782.1 1502.3,780.1 1503.0,778.6 1503.7,776.1 1504.4,773.7 1505.1,777.6 1505.8,778.4 1506.5,779.6 1507.2,777.7 1507.9,779.2 1508.6,783.1 1509.3,782.5 1510.0,784.8 1510.7,788.2 1511.4,788.6 1512.1,788.4 1512.8,789.3 1513.5,790.5 1514.2,791.6 1514.9,790.8 1515.6,789.7 1516.3,790.5 1517.0,791.3 1517.7,792.0 1518.4,793.4 1519.1,793.3 1519.8,790.1 1520.5,790.5 1521.2,791.2 1521.9,791.5 1522.6,792.9 1523.3,790.5 1524.0,791.1 1524.7,794.1 1525.4,791.6 1526.1,791.1 1526.8,791.8 1527.5,794.6 1528.2,793.4 1528.9,791.7 1529.6,792.9 1530.3,791.4 1531.0,793.6 1531.7,791.8 1532.4,789.8 1533.1,792.7 1533.8,793.9 1534.5,790.8 1535.2,792.5 1535.9,792.0 1536.6,793.0 1537.3,790.8 1538.0,793.5 1538.7,792.1 1539.4,794.0 1540.1,793.3 1540.8,792.1 1541.5,790.9 1542.2,791.4 1542.9,793.6 1543.6,793.1 1544.3,792.1 1545.0,791.9 1545.7,790.8 1546.4,789.4 1547.1,788.4 1547.8,785.7 1548.5,781.3 1549.2,777.6 1549.9,776.6 1550.6,773.5 1551.3,780.5 1552.0,783.3 1552.7,783.4 1553.4,784.8 1554.1,785.5 1554.8,780.9 1555.5,784.4 1556.2,785.5 1556.9,790.3 1557.6,791.0 1558.3,791.3 1559.0,791.4 1559.7,793.0 1560.4,793.3 1561.1,791.1 1561.8,790.5 1562.5,792.2 1563.2,793.5 1563.9,792.3 1564.6,794.6 1565.3,792.7 1566.0,792.2 1566.7,793.1 1567.4,793.9 1568.1,792.6 1568.8,792.3 1569.5,792.1 1570.2,794.7 1570.9,794.0 1571.6,793.2 1572.3,792.4 1573.0,794.1 1573.7,794.3 1574.4,792.6 1575.1,791.3 1575.8,793.3 1576.5,792.6 1577.2,792.4 1577.9,792.9 1578.6,794.0 1579.3,792.6 1580.0,792.7 1580.7,792.3 1581.4,788.7 1582.1,791.7 1582.8,793.7 1583.5,793.0 1584.2,792.4 1584.9,792.5 1585.6,793.3 1586.3,793.6 1587.0,794.2 1587.7,793.1 1588.4,793.5 1589.1,792.0 1589.8,791.2 1590.5,795.3 1591.2,793.6 1591.9,794.5 1592.6,791.8 1593.3,793.1 1594.0,794.6 1594.7,797.3 1595.4,793.4 1596.1,794.2 1596.8,793.2 1597.5,791.8 1598.2,791.6 1598.9,791.2 1599.6,792.2 1600.3,794.2 1601.0,792.6 1601.7,795.2 1602.4,794.2 1603.1,793.9 1603.8,791.9 1604.5,792.8 1605.2,793.9 1605.9,792.0 1606.6,792.2 1607.3,794.3 1608.0,793.6 1608.7,791.4 1609.4,793.4 1610.1,791.6 1610.8,794.7 1611.5,792.3 1612.2,792.3 1612.9,793.1 1613.6,792.3 1614.3,794.0 1615.0,793.3 1615.7,795.1 1616.4,791.2 1617.1,793.0 1617.8,793.4 1618.5,792.8 1619.2,791.5 1619.9,791.5 1620.6,793.4 1621.3,792.1 1622.0,790.8 1622.7,791.5 1623.4,793.2 1624.1,794.8 1624.8,792.8 1625.5,793.7 1626.2,793.0 1626.9,794.5 1627.6,791.4 1628.3,792.1 1629.0,793.9 1629.7,793.2 1630.4,793.6 1631.1,794.1 1631.8,790.1 1632.5,793.7 1633.2,793.8 1633.9,793.1 1634.6,793.3 1635.3,791.6 1636.0,793.6 1636.7,792.6 1637.4,793.2 1638.1,793.8 1638.8,794.7 1639.5,793.2 1640.2,792.5 1640.9,793.1 1641.6,795.1 1642.3,793.9 1643.0,792.9 1643.7,792.9 1644.4,793.4 1645.1,791.6 1645.8,791.9 1646.5,793.5 1647.2,793.4 1647.9,792.4 1648.6,792.8 1649.3,792.5 1650.0,794.4 1650.7,792.6 1651.4,793.0 1652.1,792.5 1652.8,791.5 1653.5,790.3 1654.2,791.9 1654.9,795.7 1655.6,792.1 1656.3,793.4 1657.0,792.9 1657.7,794.4 1658.4,792.0 1659.1,791.1 1659.8,790.2 1660.5,794.2 1661.2,794.7 1661.9,790.0 1662.6,792.9 1663.3,791.6 1664.0,792.5 1664.7,791.7 1665.4,792.8 1666.1,794.4 1666.8,792.8 1667.5,792.9 1668.2,792.7 1668.9,792.0 1669.6,791.9 1670.3,793.2 1671.0,793.8 1671.7,792.7 1672.4,791.8 1673.1,792.3 1673.8,792.3 1674.5,791.2 1675.2,789.7 1675.9,790.9 1676.6,787.7 1677.3,788.4 1678.0,784.4 1678.7,780.7 1679.4,776.4 1680.1,769.1 1680.8,763.6 1681.5,760.8 1682.2,762.5 1682.9,768.3 1683.6,774.1 1684.3,775.5 1685.0,775.6 1685.7,775.4 1686.4,774.7 1687.1,774.0 1687.8,778.7 1688.5,781.3 1689.2,787.1 1689.9,786.6 1690.6,788.6 1691.3,790.3 1692.0,788.1 1692.7,789.0 1693.4,790.7 1694.1,791.3 1694.8,790.1 1695.5,791.9 1696.2,792.5 1696.9,793.9 1697.6,793.9 1698.3,793.0 1699.0,792.0 1699.7,793.9 1700.4,793.7 1701.1,792.1 1701.8,791.7 1702.5,792.4 1703.2,794.3 1703.9,794.4 1704.6,792.2 1705.3,794.0 1706.0,794.3 1706.7,793.2 1707.4,793.8 1708.1,791.4 1708.8,791.9 1709.5,793.0 1710.2,792.6 1710.9,792.8 1711.6,793.2 1712.3,791.5 1713.0,794.4 1713.7,793.5 1714.4,793.9 1715.1,790.9 1715.8,791.8 1716.5,791.0 1717.2,792.2 1717.9,793.1 1718.6,793.3 1719.3,796.1 1720.0,792.1 1720.7,794.0 1721.4,792.0 1722.1,793.6 1722.8,794.1 1723.5,791.7 1724.2,792.5 1724.9,793.6 1725.6,793.7 1726.3,791.6 1727.0,791.1 1727.7,791.5 1728.4,793.6 1729.1,793.7 1729.8,795.7 1730.5,793.8 1731.2,793.8 1731.9,793.3 1732.6,793.1 1733.3,790.7 1734.0,789.9 1734.7,791.6 1735.4,793.3 1736.1,790.6 1736.8,795.0 1737.5,794.7 1738.2,794.8 1738.9,790.9 1739.6,793.6 1740.3,793.1 1741.0,794.6 1741.7,792.8 1742.4,794.8 1743.1,791.4 1743.8,794.1 1744.5,794.9 1745.2,793.1 1745.9,790.5 1746.6,792.2 1747.3,791.6 1748.0,793.4 1748.7,792.7 1749.4,793.8 1750.1,793.6 1750.8,793.5 1751.5,794.4 1752.2,791.8 1752.9,794.4 1753.6,792.6 1754.3,792.0 1755.0,794.1 1755.7,793.8 1756.4,794.4 1757.1,794.6 1757.8,792.8 1758.5,791.5 1759.2,792.5 1759.9,793.3 1760.6,792.8 1761.3,792.1 1762.0,791.3 1762.7,793.6 1763.4,791.1 1764.1,792.5 1764.8,795.1 1765.5,795.0 1766.2,793.7 1766.9,794.2 1767.6,795.0 1768.3,793.0 1769.0,793.4 1769.7,793.9 1770.4,791.9 1771.1,791.2 1771.8,790.8 1772.5,791.4 1773.2,796.2 1773.9,792.6 1774.6,793.9 1775.3,792.7 1776.0,792.2 1776.7,793.8 1777.4,791.8 1778.1,794.4 1778.8,793.6 1779.5,794.7 1780.2,794.4 1780.9,793.3 1781.6,793.8 1782.3,793.7 1783.0,793.9 1783.7,793.5 1784.4,794.2 1785.1,793.2 1785.8,794.7 1786.5,792.7 1787.2,795.7 1787.9,792.3 1788.6,793.2 1789.3,795.8 1790.0,794.5 1790.7,792.3 1791.4,794.5 1792.1,793.2 1792.8,792.1 1793.5,795.2 1794.2,793.5 1794.9,795.8 1795.6,793.2 1796.3,793.5 1797.0,794.7 1797.7,792.5 1798.4,793.3 1799.1,791.1 1799.8,794.4 1800.5,795.0 1801.2,794.6 1801.9,793.5 1802.6,791.9 1803.3,797.4 1804.0,792.6 1804.7,793.2 1805.4,795.2 1806.1,794.1 1806.8,794.2 1807.5,795.9 1808.2,793.0 1808.9,794.4 1809.6,792.0 1810.3,793.1 1811.0,793.1 1811.7,793.4 1812.4,793.4 1813.1,791.3 1813.8,792.2 1814.5,793.9 1815.2,791.6 1815.9,794.5 1816.6,794.8 1817.3,791.3 1818.0,793.2 1818.7,795.3 1819.4,794.3 1820.1,792.3 1820.8,791.3 1821.5,792.7 1822.2,793.5 1822.9,791.7 1823.6,794.8 1824.3,792.1 1825.0,792.4 1825.7,793.4 1826.4,794.2 1827.1,793.1 1827.8,793.4 1828.5,795.0 1829.2,793.2 1829.9,793.1 1830.6,794.3 1831.3,793.9 1832.0,793.1 1832.7,792.5 1833.4,793.9 1834.1,793.8 1834.8,794.0 1835.5,792.5 1836.2,791.3 1836.9,791.7 1837.6,795.8 1838.3,792.5 1839.0,792.3 1839.7,792.5 1840.4,791.4 1841.1,791.8 1841.8,793.8 1842.5,794.1 1843.2,791.8 1843.9,791.2 1844.6,792.5 1845.3,793.2 1846.0,792.4 1846.7,792.4 1847.4,792.1 1848.1,792.0 1848.8,791.3 1849.5,792.9 1850.2,793.3 1850.9,790.6 1851.6,793.0 1852.3,791.2 1853.0,793.0 1853.7,792.4 1854.4,788.8 1855.1,789.3 1855.8,791.2 1856.5,791.1 1857.2,790.4 1857.9,788.7 1858.6,789.4 1859.3,785.5 1860.0,788.4 1860.7,786.9 1861.4,784.9 1862.1,785.3 1862.8,782.0 1863.5,783.3 1864.2,783.1 1864.9,782.1 1865.6,783.3 1866.3,780.1 1867.0,786.2 1867.7,782.4 1868.4,785.8 1869.1,787.5 1869.8,788.9 1870.5,790.4 1871.2,789.4 1871.9,789.2 1872.6,790.7 1873.3,790.4 1874.0,791.4 1874.7,790.9 1875.4,789.7 1876.1,793.3 1876.8,790.8 1877.5,793.0 1878.2,793.4 1878.9,792.0 1879.6,793.8 1880.3,791.0 1881.0,789.0 1881.7,792.6 1882.4,793.7 1883.1,791.6 1883.8,791.4 1884.5,793.1 1885.2,793.3 1885.9,791.1 1886.6,793.7 1887.3,794.5 1888.0,795.8 1888.7,793.4 1889.4,793.9 1890.1,791.2 1890.8,792.6 1891.5,790.8 1892.2,791.4 1892.9,790.6 1893.6,789.0 1894.3,786.6 1895.0,789.4 1895.7,782.4 1896.4,781.7 1897.1,781.4 1897.8,784.1 1898.5,784.9 1899.2,786.1 1899.9,785.5 1900.6,786.1 1901.3,786.7 1902.0,787.9 1902.7,785.0 1903.4,786.2 1904.1,788.6 1904.8,788.9 1905.5,791.4 1906.2,791.5 1906.9,788.3 1907.6,791.2 1908.3,791.5 1909.0,792.0 1909.7,793.6 1910.4,792.3 1911.1,792.2 1911.8,794.0 1912.5,793.1 1913.2,794.9 1913.9,793.5 1914.6,792.4 1915.3,794.1 1916.0,792.8 1916.7,793.6 1917.4,793.6 1918.1,794.8 1918.8,794.8 1919.5,793.3 1920.2,793.6 1920.9,792.3 1921.6,792.4 1922.3,793.5 1923.0,793.6 1923.7,792.0 1924.4,793.6 1925.1,792.7 1925.8,794.3 1926.5,791.9 1927.2,794.2 1927.9,793.2 1928.6,792.2 1929.3,793.3 1930.0,792.7 1930.7,791.6 1931.4,791.6 1932.1,794.0 1932.8,793.1 1933.5,794.2 1934.2,795.0 1934.9,792.9 1935.6,792.8 1936.3,791.4 1937.0,793.5 1937.7,792.1 1938.4,791.6 1939.1,793.1 1939.8,794.2 1940.5,792.1 1941.2,791.3 1941.9,795.7 1942.6,794.6 1943.3,793.7 1944.0,794.7 1944.7,792.9 1945.4,793.8 1946.1,794.4 1946.8,793.4 1947.5,794.9 1948.2,792.6 1948.9,793.6 1949.6,793.5 1950.3,791.8 1951.0,792.1 1951.7,791.8 1952.4,794.9 1953.1,793.5 1953.8,791.6 1954.5,790.3 1955.2,792.1 1955.9,794.8 1956.6,787.9 1957.3,799.8 1958.0,792.6 1958.7,793.6 1959.4,792.4 1960.1,790.6 1960.8,794.3 1961.5,793.9 1962.2,793.6 1962.9,793.7 1963.6,794.4 1964.3,791.7 1965.0,792.3 1965.7,793.4 1966.4,791.6 1967.1,792.0 1967.8,791.4 1968.5,793.7 1969.2,791.5 1969.9,793.5 1970.6,792.9 1971.3,792.6 1972.0,791.5 1972.7,792.5 1973.4,789.7 1974.1,791.8 1974.8,788.2 1975.5,789.8 1976.2,786.9 1976.9,783.5 1977.6,780.0 1978.3,774.1 1979.0,768.1 1979.7,765.9 1980.4,765.6 1981.1,773.5 1981.8,776.7 1982.5,781.6 1983.2,781.9 1983.9,782.8 1984.6,779.2 1985.3,777.5 1986.0,778.8 1986.7,780.3 1987.4,782.5 1988.1,786.7 1988.8,787.2 1989.5,788.9 1990.2,790.9 1990.9,791.2 1991.6,791.6 1992.3,792.2 1993.0,791.0 1993.7,792.6 1994.4,792.4 1995.1,792.6 1995.8,792.3 1996.5,790.7 1997.2,793.9 1997.9,790.8 1998.6,792.3 1999.3,793.1 2000.0,794.9 2000.7,791.5 2001.4,793.4 2002.1,793.2 2002.8,793.4 2003.5,792.0 2004.2,794.0 2004.9,792.3 2005.6,792.5 2006.3,792.8 2007.0,793.6 2007.7,792.2 2008.4,793.2 2009.1,793.1 2009.8,791.2 2010.5,791.6 2011.2,793.2 2011.9,793.6 2012.6,798.2 2013.3,794.8 2014.0,793.1 2014.7,794.4 2015.4,793.6 2016.1,793.6 2016.8,794.7 2017.5,793.3 2018.2,791.9 2018.9,794.3 2019.6,793.8 2020.3,791.2 2021.0,791.8 2021.7,793.8 2022.4,794.3 2023.1,793.0 2023.8,794.3 2024.5,792.8 2025.2,794.7 2025.9,790.9 2026.6,794.2 2027.3,794.2 2028.0,793.6 2028.7,792.0 2029.4,793.3 2030.1,791.8 2030.8,794.5 2031.5,791.4 2032.2,793.5 2032.9,792.4 2033.6,791.0 2034.3,793.4 2035.0,796.0 2035.7,794.9 2036.4,792.7 2037.1,793.5 2037.8,793.9 2038.5,795.0 2039.2,793.6 2039.9,795.3 2040.6,793.4 2041.3,794.0 2042.0,793.6 2042.7,793.5 2043.4,793.8 2044.1,793.5 2044.8,796.1 2045.5,791.6 2046.2,795.7 2046.9,794.8 2047.6,794.1 2048.3,795.2 2049.0,795.2 2049.7,792.9 2050.4,792.2 2051.1,796.8 2051.8,794.9 2052.5,794.4 2053.2,796.9 2053.9,793.5 2054.6,793.2 2055.3,795.1 2056.0,794.1 2056.7,793.6 2057.4,793.0 2058.1,794.1 2058.8,792.5 2059.5,795.4 2060.2,792.5 2060.9,793.4 2061.6,793.4 2062.3,792.4 2063.0,795.8 2063.7,792.9 2064.4,794.7 2065.1,792.5 2065.8,797.1 2066.5,793.6 2067.2,795.0 2067.9,793.8 2068.6,794.5 2069.3,792.9 2070.0,796.0 2070.7,798.0 2071.4,792.3 2072.1,793.0 2072.8,795.5 2073.5,795.0 2074.2,793.9 2074.9,791.9 2075.6,794.1 2076.3,795.6 2077.0,793.4 2077.7,792.3 2078.4,793.3 2079.1,796.0 2079.8,792.4 2080.5,793.7 2081.2,794.1 2081.9,792.7 2082.6,794.3 2083.3,793.3 2084.0,798.3 2084.7,793.5 2085.4,795.0 2086.1,793.1 2086.8,791.5 2087.5,796.4 2088.2,795.6 2088.9,793.7 2089.6,793.8 2090.3,792.9 2091.0,796.1 2091.7,792.7 2092.4,794.9 2093.1,794.6 2093.8,793.1 2094.5,795.8 2095.2,792.4 2095.9,794.6 2096.6,793.8 2097.3,792.1 2098.0,791.6 2098.7,793.5 2099.4,794.6 2100.1,792.2 2100.8,794.3 2101.5,795.2 2102.2,795.0 2102.9,792.4 2103.6,795.1 2104.3,792.5 2105.0,794.7 2105.7,791.6 2106.4,793.0 2107.1,791.8 2107.8,795.8 2108.5,794.7 2109.2,792.2 2109.9,792.4 2110.6,795.6 2111.3,794.2 2112.0,789.8 2112.7,793.7 2113.4,794.1 2114.1,793.2 2114.8,791.6 2115.5,792.6 2116.2,794.3 2116.9,794.5 2117.6,794.9 2118.3,794.8 2119.0,793.7 2119.7,793.5 2120.4,795.6 2121.1,792.5 2121.8,792.2 2122.5,795.5 2123.2,794.8 2123.9,792.8 2124.6,791.7 2125.3,792.0 2126.0,794.4 2126.7,793.1 2127.4,794.5 2128.1,791.7 2128.8,792.9 2129.5,793.0 2130.2,793.9 2130.9,796.2 2131.6,794.4 2132.3,794.9 2133.0,792.5 2133.7,792.8 2134.4,791.8 2135.1,795.1 2135.8,792.8 2136.5,794.3 2137.2,795.9 2137.9,792.6 2138.6,794.2 2139.3,792.1 2140.0,794.5 2140.7,793.7 2141.4,795.0 2142.1,794.3 2142.8,795.2 2143.5,792.1 2144.2,792.6 2144.9,794.9 2145.6,794.4 2146.3,793.6 2147.0,792.9 2147.7,793.3 2148.4,792.6 2149.1,794.4 2149.8,792.7 2150.5,793.8 2151.2,792.1 2151.9,795.4 2152.6,794.0 2153.3,793.4 2154.0,793.1 2154.7,792.1 2155.4,794.2 2156.1,794.7 2156.8,795.7 2157.5,793.7 2158.2,792.3 2158.9,792.8 2159.6,794.1 2160.3,792.9 2161.0,792.0 2161.7,795.4 2162.4,793.0 2163.1,793.4 2163.8,796.2 2164.5,792.6 2165.2,794.5 2165.9,793.9 2166.6,793.9 2167.3,793.4 2168.0,793.4 2168.7,794.1 2169.4,790.5 2170.1,795.4 2170.8,796.0 2171.5,791.2 2172.2,794.7 2172.9,793.8 2173.6,794.0 2174.3,794.3 2175.0,793.7 2175.7,794.2 2176.4,795.4 2177.1,794.8 2177.8,795.1 2178.5,794.5 2179.2,795.3 2179.9,793.2 2180.6,794.8 2181.3,795.2 2182.0,793.1 2182.7,794.0 2183.4,793.2 2184.1,791.7 2184.8,800.9 2185.5,793.6 2186.2,792.7 2186.9,793.2 2187.6,797.1 2188.3,796.2 2189.0,793.9 2189.7,791.4 2190.4,791.7 2191.1,790.9 2191.8,789.4 2192.5,788.9 2193.2,788.2 2193.9,788.6 2194.6,789.5 2195.3,787.3 2196.0,788.3 2196.7,789.0 2197.4,790.9 2198.1,789.0 2198.8,789.4 2199.5,791.1 2200.2,789.2 2200.9,788.3 2201.6,791.8 2202.3,790.6 2203.0,792.3 2203.7,791.1 2204.4,790.7 2205.1,790.9 2205.8,795.6 2206.5,795.8 2207.2,795.2 2207.9,795.8 2208.6,793.4 2209.3,794.4 2210.0,791.2 2210.7,793.5 2211.4,794.7 2212.1,793.7 2212.8,796.6 2213.5,792.7 2214.2,792.9 2214.9,793.1 2215.6,793.4 2216.3,793.0 2217.0,793.7 2217.7,791.7 2218.4,794.7 2219.1,793.4 2219.8,792.6 2220.5,791.9 2221.2,793.6 2221.9,792.8 2222.6,793.2 2223.3,792.4 2224.0,794.1 2224.7,794.0 2225.4,791.2 2226.1,793.4 2226.8,791.6 2227.5,790.1 2228.2,790.2 2228.9,788.0 2229.6,788.7 2230.3,784.6 2231.0,789.6 2231.7,788.2 2232.4,789.5 2233.1,790.6 2233.8,791.2 2234.5,788.2 2235.2,792.5 2235.9,790.1 2236.6,789.8 2237.3,791.0 2238.0,789.1 2238.7,789.8 2239.4,791.3 2240.1,790.7 2240.8,794.5 2241.5,794.8 2242.2,793.3 2242.9,793.8 2243.6,794.6 2244.3,794.7 2245.0,793.2 2245.7,795.5 2246.4,795.4 2247.1,796.6 2247.8,794.4 2248.5,794.2 2249.2,793.7 2249.9,792.8 2250.6,794.1 2251.3,789.0 2252.0,794.1 2252.7,796.0 2253.4,795.6 2254.1,796.3"/>
<polyline stroke="#ff00ff" points="131.0,543.9 131.7,542.9 132.4,544.4 133.1,543.4 133.8,544.6 134.5,544.9 135.2,542.3 135.9,545.2 136.6,543.3 137.3,546.4 138.0,544.8 138.7,543.4 139.4,544.2 140.1,544.2 140.8,544.4 141.5,545.6 142.2,544.6 142.9,545.9 143.6,544.7 144.3,543.8 145.0,542.2 145.7,542.2 146.4,544.2 147.1,544.8 147.8,545.6 148.5,543.3 149.2,544.1 149.9,543.8 150.6,543.5 151.3,541.4 152.0,544.8 152.7,543.1 153.4,543.9 154.1,544.5 154.8,544.4 155.5,542.5 156.2,545.7 156.9,544.8 157.6,544.5 158.3,543.2 159.0,542.1 159.7,542.1 160.4,543.7 161.1,544.1 161.8,543.1 162.5,546.1 163.2,544.3 163.9,545.1 164.6,545.0 165.3,542.7 166.0,545.1 166.7,544.5 167.4,542.5 168.1,544.8 168.8,545.2 169.5,545.1 170.2,545.2 170.9,542.3 171.6,543.7 172.3,543.3 173.0,544.0 173.7,544.1 174.4,545.2 175.1,544.8 175.8,543.0 176.5,545.0 177.2,545.8 177.9,544.3 178.6,542.2 179.3,543.2 180.0,543.7 180.7,542.1 181.4,543.8 182.1,542.5 182.8,544.8 183.5,544.7 184.2,543.8 184.9,542.5 185.6,544.2 186.3,543.2 187.0,543.1 187.7,545.2 188.4,543.9 189.1,542.3 189.8,544.8 190.5,545.9 191.2,545.7 191.9,544.8 192.6,546.3 193.3,543.5 194.0,546.4 194.7,546.3 195.4,543.5 196.1,544.3 196.8,542.4 197.5,542.7 198.2,544.5 198.9,542.5 199.6,544.1 200.3,544.4 201.0,544.0 201.7,545.0 202.4,546.1 203.1,544.1 203.8,545.0 204.5,545.6 205.2,543.3 205.9,543.1 206.6,542.0 207.3,544.4 208.0,545.1 208.7,547.5 209.4,546.3 210.1,545.6 210.8,544.8 211.5,543.2 212.2,542.8 212.9,543.8 213.6,544.4 214.3,543.8 215.0,543.5 215.7,543.4 216.4,544.6 217.1,541.9 217.8,543.5 218.5,543.9 219.2,544.6 219.9,544.6 220.6,543.6 221.3,543.1 222.0,542.5 222.7,545.1 223.4,544.5 224.1,544.2 224.8,543.0 225.5,542.5 226.2,545.1 226.9,543.8 227.6,544.3 228.3,545.9 229.0,542.0 229.7,542.9 230.4,544.2 231.1,544.5 231.8,542.6 232.5,543.7 233.2,541.6 233.9,543.1 234.6,544.2 235.3,544.0 236.0,545.1 236.7,544.4 237.4,545.5 238.1,542.8 238.8,544.2 239.5,542.1 240.2,541.8 240.9,542.1 241.6,544.5 242.3,543.9 243.0,541.8 243.7,545.2 244.4,544.8 245.1,543.5 245.8,543.0 246.5,543.6 247.2,542.2 247.9,546.4 248.6,543.1 249.3,543.4 250.0,543.3 250.7,542.9 251.4,542.6 252.1,544.0 252.8,542.2 253.5,542.4 254.2,542.7 254.9,544.5 255.6,542.5 256.3,542.4 257.0,544.0 257.7,542.3 258.4,543.2 259.1,544.6 259.8,544.0 260.5,543.6 261.2,545.3 261.9,543.1 262.6,542.9 263.3,541.5 264.0,542.5 264.7,544.3 265.4,542.8 266.1,545.7 266.8,544.7 267.5,544.6 268.2,542.1 268.9,543.2 269.6,543.9 270.3,541.2 271.0,543.5 271.7,543.2 272.4,541.5 273.1,544.1 273.8,545.8 274.5,544.3 275.2,542.5 275.9,543.2 276.6,544.8 277.3,542.5 278.0,543.9 278.7,543.5 279.4,543.7 280.1,545.4 280.8,541.7 281.5,544.8 282.2,543.7 282.9,543.3 283.6,541.5 284.3,543.8 285.0,542.9 285.7,540.0 286.4,541.8 287.1,542.0 287.8,542.2 288.5,542.7 289.2,542.4 289.9,545.2 290.6,544.6 291.3,543.3 292.0,545.0 292.7,545.8 293.4,543.9 294.1,541.8 294.8,543.8 295.5,545.0 296.2,542.2 296.9,543.3 297.6,544.4 298.3,544.7 299.0,544.3 299.7,543.8 300.4,543.2 301.1,542.7 301.8,544.5 302.5,544.4 303.2,542.7 303.9,547.3 304.6,544.7 305.3,544.4 306.0,542.4 306.7,541.4 307.4,543.4 308.1,544.2 308.8,544.4 309.5,544.2 310.2,541.5 310.9,543.3 311.6,542.8 312.3,542.4 313.0,546.3 313.7,543.2 314.4,543.5 315.1,542.9 315.8,544.0 316.5,544.5 317.2,542.9 317.9,543.2 318.6,542.7 319.3,542.0 320.0,545.2 320.7,543.6 321.4,543.2 322.1,542.9 322.8,541.0 323.5,543.5 324.2,543.3 324.9,544.9 325.6,542.4 326.3,541.5 327.0,540.9 327.7,542.3 328.4,543.0 329.1,543.4 329.8,541.2 330.5,542.4 331.2,544.2 331.9,543.1 332.6,542.7 333.3,542.6 334.0,542.8 334.7,541.4 335.4,542.4 336.1,544.4 336.8,540.8 337.5,542.8 338.2,543.7 338.9,543.5 339.6,544.3 340.3,542.2 341.0,543.3 341.7,544.1 342.4,541.5 343.1,542.9 343.8,543.3 344.5,543.4 345.2,543.6 345.9,543.6 346.6,544.1 347.3,544.5 348.0,543.4 348.7,545.5 349.4,543.9 350.1,542.7 350.8,543.3 351.5,542.0 352.2,541.2 352.9,541.4 353.6,544.2 354.3,542.1 355.0,541.3 355.7,545.1 356.4,543.3 357.1,543.1 357.8,541.8 358.5,543.2 359.2,542.3 359.9,543.1 360.6,542.8 361.3,542.5 362.0,543.1 362.7,541.8 363.4,542.3 364.1,541.9 364.8,543.2 365.5,543.6 366.2,543.7 366.9,540.5 367.6,545.6 368.3,542.5 369.0,542.6 369.7,542.7 370.4,542.6 371.1,544.1 371.8,542.8 372.5,543.0 373.2,543.8 373.9,544.2 374.6,541.5 375.3,541.2 376.0,540.4 376.7,540.4 377.4,543.0 378.1,542.7 378.8,542.6 379.5,543.0 380.2,542.9 380.9,543.9 381.6,544.5 382.3,541.6 383.0,544.3 383.7,541.5 384.4,541.6 385.1,542.7 385.8,542.0 386.5,540.6 387.2,542.5 387.9,540.6 388.6,546.2 389.3,541.3 390.0,542.1 390.7,543.4 391.4,542.6 392.1,541.5 392.8,542.7 393.5,543.2 394.2,543.5 394.9,541.4 395.6,543.7 396.3,542.1 397.0,541.7 397.7,543.7 398.4,542.6 399.1,543.1 399.8,542.4 400.5,540.2 401.2,542.8 401.9,537.5 402.6,542.1 403.3,544.2 404.0,542.3 404.7,544.1 405.4,543.5 406.1,541.4 406.8,541.2 407.5,541.8 408.2,542.1 408.9,542.9 409.6,541.4 410.3,540.9 411.0,545.0 411.7,542.1 412.4,542.4 413.1,544.0 413.8,542.1 414.5,539.3 415.2,542.5 415.9,541.2 416.6,543.1 417.3,539.8 418.0,542.1 418.7,542.8 419.4,543.5 420.1,542.9 420.8,541.0 421.5,541.8 422.2,541.7 422.9,540.6 423.6,542.8 424.3,543.5 425.0,542.4 425.7,540.7 426.4,540.0 427.1,541.0 427.8,543.4 428.5,541.7 429.2,540.4 429.9,541.1 430.6,542.4 431.3,540.7 432.0,540.9 432.7,540.8 433.4,540.3 434.1,543.5 434.8,540.4 435.5,541.6 436.2,542.6 436.9,541.1 437.6,540.7 438.3,540.9 439.0,541.1 439.7,540.8 440.4,540.5 441.1,540.5 441.8,544.7 442.5,542.9 443.2,540.4 443.9,541.7 444.6,540.5 445.3,539.6 446.0,539.3 446.7,540.9 447.4,539.0 448.1,540.9 448.8,539.9 449.5,542.2 450.2,539.0 450.9,541.3 451.6,541.6 452.3,541.1 453.0,539.2 453.7,540.1 454.4,539.7 455.1,539.3 455.8,540.3 456.5,539.1 457.2,539.3 457.9,540.1 458.6,538.5 459.3,538.0 460.0,538.5 460.7,537.4 461.4,535.0 462.1,536.7 462.8,536.7 463.5,535.1 464.2,533.8 464.9,537.7 465.6,534.0 466.3,534.7 467.0,535.2 467.7,533.8 468.4,531.6 469.1,530.6 469.8,529.6 470.5,525.9 471.2,525.6 471.9,523.5 472.6,517.7 473.3,516.0 474.0,514.7 474.7,513.8 475.4,508.8 476.1,505.3 476.8,502.9 477.5,503.6 478.2,502.8 478.9,501.8 479.6,503.7 480.3,504.3 481.0,507.9 481.7,507.1 482.4,510.4 483.1,514.5 483.8,514.6 484.5,516.4 485.2,518.8 485.9,522.9 486.6,522.5 487.3,525.0 488.0,523.4 488.7,525.1 489.4,526.8 490.1,526.9 490.8,526.5 491.5,524.9 492.2,528.4 492.9,528.9 493.6,528.7 494.3,526.4 495.0,526.8 495.7,527.8 496.4,527.3 497.1,529.7 497.8,527.3 498.5,528.2 499.2,527.2 499.9,526.5 500.6,529.6 501.3,528.6 502.0,527.5 502.7,528.3 503.4,525.7 504.1,529.9 504.8,526.9 505.5,525.6 506.2,526.4 506.9,525.4 507.6,527.0 508.3,527.4 509.0,526.8 509.7,525.9 510.4,525.2 511.1,520.2 511.8,519.7 512.5,513.4 513.2,499.4 513.9,471.9 514.6,431.9 515.3,402.3 516.0,407.5 516.7,427.2 517.4,450.9 518.1,480.1 518.8,500.5 519.5,513.7 520.2,520.5 520.9,524.3 521.6,526.4 522.3,526.1 523.0,530.4 523.7,527.2 524.4,528.9 525.1,530.0 525.8,530.9 526.5,534.6 527.2,533.6 527.9,530.7 528.6,532.7 529.3,532.0 530.0,532.3 530.7,532.6 531.4,533.4 532.1,533.1 532.8,531.3 533.5,533.1 534.2,533.2 534.9,530.9 535.6,533.2 536.3,532.6 537.0,532.6 537.7,532.9 538.4,537.6 539.1,530.9 539.8,533.1 540.5,529.9 541.2,532.9 541.9,533.9 542.6,530.8 543.3,534.2 544.0,533.5 544.7,532.8 545.4,532.7 546.1,532.5 546.8,533.0 547.5,532.8 548.2,534.1 548.9,531.4 549.6,531.8 550.3,534.0 551.0,534.7 551.7,534.5 552.4,532.6 553.1,530.0 553.8,530.6 554.5,530.1 555.2,528.9 555.9,526.1 556.6,527.7 557.3,528.1 558.0,527.2 558.7,527.7 559.4,528.5 560.1,530.8 560.8,532.8 561.5,529.7 562.2,534.3 562.9,533.8 563.6,531.4 564.3,534.8 565.0,534.4 565.7,533.7 566.4,533.5 567.1,532.1 567.8,533.8 568.5,532.3 569.2,533.3 569.9,534.5 570.6,532.8 571.3,532.5 572.0,533.9 572.7,534.4 573.4,534.4 574.1,533.1 574.8,534.9 575.5,535.2 576.2,531.8 576.9,534.0 577.6,530.0 578.3,533.1 579.0,532.1 579.7,533.4 580.4,532.5 581.1,530.6 581.8,533.9 582.5,532.0 583.2,534.5 583.9,534.8 584.6,533.8 585.3,533.0 586.0,533.3 586.7,531.3 587.4,532.9 588.1,533.8 588.8,533.2 589.5,530.8 590.2,533.1 590.9,531.1 591.6,528.2 592.3,528.5 593.0,526.0 593.7,526.5 594.4,527.6 595.1,530.5 595.8,532.3 596.5,528.7 597.2,531.2 597.9,531.7 598.6,533.0 599.3,532.9 600.0,531.9 600.7,533.1 601.4,532.0 602.1,531.8 602.8,533.4 603.5,532.9 604.2,531.9 604.9,533.1 605.6,531.6 606.3,533.4 607.0,530.6 607.7,530.4 608.4,527.7 609.1,529.0 609.8,526.7 610.5,527.6 611.2,528.8 611.9,528.9 612.6,529.2 613.3,530.7 614.0,532.7 614.7,533.6 615.4,534.3 616.1,532.1 616.8,531.7 617.5,532.2 618.2,532.4 618.9,533.2 619.6,533.0 620.3,532.1 621.0,533.8 621.7,532.2 622.4,533.2 623.1,532.2 623.8,534.3 624.5,533.5 625.2,533.3 625.9,534.3 626.6,534.1 627.3,531.6 628.0,530.1 628.7,531.8 629.4,532.3 630.1,532.4 630.8,531.2 631.5,531.4 632.2,532.8 632.9,532.7 633.6,532.9 634.3,531.9 635.0,531.1 635.7,530.4 636.4,529.2 637.1,527.1 637.8,526.2 638.5,523.4 639.2,522.7 639.9,519.5 640.6,525.3 641.3,525.8 642.0,527.8 642.7,529.6 643.4,529.6 644.1,531.6 644.8,531.9 645.5,532.2 646.2,530.4 646.9,533.7 647.6,533.2 648.3,533.4 649.0,534.7 649.7,531.6 650.4,535.0 651.1,532.6 651.8,533.9 652.5,534.2 653.2,531.8 653.9,533.2 654.6,534.3 655.3,533.4 656.0,531.3 656.7,534.8 657.4,533.4 658.1,532.6 658.8,531.9 659.5,534.4 660.2,532.3 660.9,533.7 661.6,531.5 662.3,533.4 663.0,530.7 663.7,533.2 664.4,531.6 665.1,531.6 665.8,533.7 666.5,533.4 667.2,531.9 667.9,531.7 668.6,533.7 669.3,530.7 670.0,530.6 670.7,531.4 671.4,532.1 672.1,531.9 672.8,531.7 673.5,530.3 674.2,531.7 674.9,531.5 675.6,530.0 676.3,531.8 677.0,528.5 677.7,528.0 678.4,532.4 679.1,525.4 679.8,523.8 680.5,520.9 681.2,520.9 681.9,521.0 682.6,522.2 683.3,521.4 684.0,525.0 684.7,525.6 685.4,527.3 686.1,527.1 686.8,526.5 687.5,529.7 688.2,529.9 688.9,529.8 689.6,532.5 690.3,531.2 691.0,531.2 691.7,531.6 692.4,531.6 693.1,531.7 693.8,532.1 694.5,530.6 695.2,530.6 695.9,530.2 696.6,530.7 697.3,531.5 698.0,531.7 698.7,529.8 699.4,528.9 700.1,528.8 700.8,528.9 701.5,530.6 702.2,529.7 702.9,529.1 703.6,531.5 704.3,529.5 705.0,529.0 705.7,527.0 706.4,528.3 707.1,525.8 707.8,524.5 708.5,525.9 709.2,522.2 709.9,522.5 710.6,518.4 711.3,517.6 712.0,511.6 712.7,512.8 713.4,508.6 714.1,503.7 714.8,496.1 715.5,489.0 716.2,471.7 716.9,449.9 717.6,402.0 718.3,289.8 719.0,29.3 719.7,-335.5 720.4,-293.5 721.1,79.1 721.8,312.2 722.5,415.0 723.2,453.1 723.9,475.4 724.6,487.7 725.3,497.4 726.0,504.5 726.7,508.8 727.4,511.7 728.1,514.5 728.8,517.1 729.5,519.1 730.2,522.2 730.9,521.9 731.6,522.3 732.3,522.7 733.0,524.4 733.7,525.7 734.4,524.3 735.1,525.9 735.8,525.7 736.5,522.8 737.2,527.4 737.9,526.3 738.6,523.1 739.3,522.4 740.0,524.0 740.7,521.6 741.4,519.2 742.1,512.5 742.8,506.6 743.5,499.2 744.2,502.1 744.9,506.0 745.6,506.9 746.3,510.8 747.0,513.9 747.7,515.9 748.4,514.5 749.1,506.7 749.8,499.6 750.5,495.8 751.2,494.9 751.9,499.7 752.6,505.7 753.3,507.0 754.0,515.5 754.7,517.3 755.4,521.3 756.1,524.8 756.8,523.1 757.5,523.8 758.2,524.5 758.9,525.2 759.6,527.1 760.3,527.2 761.0,521.9 761.7,525.9 762.4,519.1 763.1,518.4 763.8,510.7 764.5,508.1 765.2,506.9 765.9,508.2 766.6,513.4 767.3,516.2 768.0,518.4 768.7,520.9 769.4,526.8 770.1,523.7 770.8,527.7 771.5,527.1 772.2,527.8 772.9,530.1 773.6,528.7 774.3,530.6 775.0,530.0 775.7,531.5 776.4,531.2 777.1,531.3 777.8,530.5 778.5,530.6 779.2,529.7 779.9,531.5 780.6,531.9 781.3,530.5 782.0,531.8 782.7,530.6 783.4,531.6 784.1,530.5 784.8,531.9 785.5,533.2 786.2,532.4 786.9,530.2 787.6,533.0 788.3,532.0 789.0,533.9 789.7,533.3 790.4,533.3 791.1,532.8 791.8,532.8 792.5,531.9 793.2,532.9 793.9,533.7 794.6,531.2 795.3,532.6 796.0,533.8 796.7,531.9 797.4,532.9 798.1,533.7 798.8,533.6 799.5,533.9 800.2,534.1 800.9,534.7 801.6,533.0 802.3,533.7 803.0,533.9 803.7,532.1 804.4,537.2 805.1,534.3 805.8,533.9 806.5,534.3 807.2,533.5 807.9,533.4 808.6,534.5 809.3,531.2 810.0,531.9 810.7,533.3 811.4,533.4 812.1,533.7 812.8,530.3 813.5,532.4 814.2,530.0 814.9,530.1 815.6,527.1 816.3,519.2 817.0,511.2 817.7,507.6 818.4,512.9 819.1,515.9 819.8,518.9 820.5,519.4 821.2,523.3 821.9,527.4 822.6,527.4 823.3,532.5 824.0,534.0 824.7,533.4 825.4,532.5 826.1,533.2 826.8,534.5 827.5,534.3 828.2,534.7 828.9,534.0 829.6,534.3 830.3,534.3 831.0,534.3 831.7,535.2 832.4,537.0 833.1,537.3 833.8,535.4 834.5,533.2 835.2,535.9 835.9,535.2 836.6,537.0 837.3,536.1 838.0,537.2 838.7,534.6 839.4,536.5 840.1,535.4 840.8,535.5 841.5,537.3 842.2,534.5 842.9,536.4 843.6,535.7 844.3,537.1 845.0,534.1 845.7,537.3 846.4,538.3 847.1,535.3 847.8,537.6 848.5,535.6 849.2,537.7 849.9,538.0 850.6,535.5 851.3,538.7 852.0,536.8 852.7,537.0 853.4,537.9 854.1,538.2 854.8,537.2 855.5,538.0 856.2,538.1 856.9,536.2 857.6,537.8 858.3,537.8 859.0,537.6 859.7,538.4 860.4,541.9 861.1,535.8 861.8,538.5 862.5,538.3 863.2,538.0 863.9,537.5 864.6,540.6 865.3,538.3 866.0,537.1 866.7,538.6 867.4,538.9 868.1,536.9 868.8,539.2 869.5,536.2 870.2,538.2 870.9,539.7 871.6,540.0 872.3,539.3 873.0,539.8 873.7,538.1 874.4,539.2 875.1,539.9 875.8,537.3 876.5,539.6 877.2,540.1 877.9,540.7 878.6,540.4 879.3,540.7 880.0,540.6 880.7,538.7 881.4,538.8 882.1,539.2 882.8,538.6 883.5,540.9 884.2,542.0 884.9,541.6 885.6,540.5 886.3,541.5 887.0,542.8 887.7,541.0 888.4,541.8 889.1,539.4 889.8,540.0 890.5,541.2 891.2,544.1 891.9,541.6 892.6,541.8 893.3,542.6 894.0,542.9 894.7,538.7 895.4,539.8 896.1,540.0 896.8,543.2 897.5,541.0 898.2,541.0 898.9,541.1 899.6,541.1 900.3,541.3 901.0,541.5 901.7,542.8 902.4,541.8 903.1,540.0 903.8,542.6 904.5,542.3 905.2,542.4 905.9,541.0 906.6,541.2 907.3,548.9 908.0,543.3 908.7,542.4 909.4,541.2 910.1,542.9 910.8,542.9 911.5,548.3 912.2,542.0 912.9,544.6 913.6,542.1 914.3,543.5 915.0,543.9 915.7,541.4 916.4,543.3 917.1,543.8 917.8,542.8 918.5,541.2 919.2,543.6 919.9,545.2 920.6,543.5 921.3,539.4 922.0,542.2 922.7,542.9 923.4,543.6 924.1,541.7 924.8,542.1 925.5,543.3 926.2,543.2 926.9,543.3 927.6,543.2 928.3,544.8 929.0,543.2 929.7,543.3 930.4,542.4 931.1,542.4 931.8,543.2 932.5,546.2 933.2,544.6 933.9,542.0 934.6,545.2 935.3,543.4 936.0,542.0 936.7,543.7 937.4,542.4 938.1,542.7 938.8,542.3 939.5,543.2 940.2,542.1 940.9,544.5 941.6,545.2 942.3,543.1 943.0,543.3 943.7,543.7 944.4,542.8 945.1,542.3 945.8,542.5 946.5,541.3 947.2,537.7 947.9,538.6 948.6,539.7 949.3,539.7 950.0,540.2 950.7,538.2 951.4,540.0 952.1,542.6 952.8,543.5 953.5,539.5 954.2,545.0 954.9,542.2 955.6,543.8 956.3,541.8 957.0,543.5 957.7,543.0 958.4,544.1 959.1,543.5 959.8,543.7 960.5,543.0 961.2,543.7 961.9,545.1 962.6,544.6 963.3,543.7 964.0,541.9 964.7,541.8 965.4,544.3 966.1,544.1 966.8,544.3 967.5,544.0 968.2,542.9 968.9,541.8 969.6,544.6 970.3,544.3 971.0,545.0 971.7,541.9 972.4,544.4 973.1,544.4 973.8,542.4 974.5,542.5 975.2,542.4 975.9,542.7 976.6,543.4 977.3,543.0 978.0,544.9 978.7,543.8 979.4,542.6 980.1,543.5 980.8,542.3 981.5,542.8 982.2,543.3 982.9,542.2 983.6,544.0 984.3,542.4 985.0,543.9 985.7,543.0 986.4,540.2 987.1,540.9 987.8,540.9 988.5,541.0 989.2,539.5 989.9,539.7 990.6,543.4 991.3,539.8 992.0,535.3 992.7,540.7 993.4,538.6 994.1,537.3 994.8,538.3 995.5,537.6 996.2,536.0 996.9,538.1 997.6,536.7 998.3,536.9 999.0,535.6 999.7,535.0 1000.4,534.8 1001.1,533.2 1001.8,533.0 1002.5,534.6 1003.2,533.1 1003.9,533.5 1004.6,532.5 1005.3,531.6 1006.0,532.9 1006.7,530.7 1007.4,529.9 1008.1,530.6 1008.8,531.4 1009.5,531.0 1010.2,528.4 1010.9,528.2 1011.6,528.5 1012.3,527.9 1013.0,528.9 1013.7,530.2 1014.4,528.7 1015.1,527.3 1015.8,527.4 1016.5,527.9 1017.2,529.5 1017.9,530.9 1018.6,528.9 1019.3,531.4 1020.0,532.0 1020.7,534.4 1021.4,530.8 1022.1,532.4 1022.8,533.4 1023.5,533.4 1024.2,530.9 1024.9,533.8 1025.6,534.4 1026.3,536.2 1027.0,533.9 1027.7,532.2 1028.4,536.5 1029.1,532.8 1029.8,534.6 1030.5,534.8 1031.2,533.7 1031.9,532.9 1032.6,533.8 1033.3,533.0 1034.0,536.1 1034.7,538.0 1035.4,536.6 1036.1,532.1 1036.8,535.6 1037.5,535.2 1038.2,534.9 1038.9,536.1 1039.6,534.6 1040.3,535.8 1041.0,534.5 1041.7,534.1 1042.4,535.9 1043.1,536.4 1043.8,534.6 1044.5,533.9 1045.2,535.1 1045.9,534.2 1046.6,534.4 1047.3,534.6 1048.0,536.1 1048.7,535.5 1049.4,535.4 1050.1,536.8 1050.8,534.2 1051.5,535.7 1052.2,535.6 1052.9,532.8 1053.6,535.6 1054.3,534.6 1055.0,536.9 1055.7,532.6 1056.4,536.6 1057.1,534.6 1057.8,533.3 1058.5,536.2 1059.2,535.7 1059.9,535.2 1060.6,534.5 1061.3,536.7 1062.0,534.1 1062.7,535.6 1063.4,534.7 1064.1,533.4 1064.8,532.2 1065.5,532.5 1066.2,530.3 1066.9,525.9 1067.6,522.6 1068.3,515.7 1069.0,509.4 1069.7,505.5 1070.4,511.6 1071.1,514.8 1071.8,517.8 1072.5,517.0 1073.2,519.1 1073.9,523.8 1074.6,532.6 1075.3,533.0 1076.0,531.1 1076.7,531.4 1077.4,533.5 1078.1,534.0 1078.8,532.2 1079.5,532.5 1080.2,533.6 1080.9,536.4 1081.6,534.4 1082.3,535.8 1083.0,534.9 1083.7,534.1 1084.4,534.9 1085.1,535.4 1085.8,535.7 1086.5,531.1 1087.2,535.2 1087.9,535.5 1088.6,536.8 1089.3,534.8 1090.0,534.6 1090.7,533.4 1091.4,536.1 1092.1,536.4 1092.8,534.3 1093.5,535.4 1094.2,534.7 1094.9,536.5 1095.6,535.0 1096.3,535.5 1097.0,535.6 1097.7,535.0 1098.4,535.6 1099.1,537.2 1099.8,535.4 1100.5,534.6 1101.2,536.8 1101.9,537.6 1102.6,536.5 1103.3,535.4 1104.0,535.2 1104.7,535.9 1105.4,536.2 1106.1,537.0 1106.8,537.9 1107.5,534.3 1108.2,536.7 1108.9,537.7 1109.6,535.1 1110.3,536.6 1111.0,536.4 1111.7,538.3 1112.4,538.7 1113.1,538.7 1113.8,533.7 1114.5,536.9 1115.2,541.4 1115.9,538.7 1116.6,537.4 1117.3,538.9 1118.0,541.9 1118.7,540.6 1119.4,541.5 1120.1,544.5 1120.8,543.1 1121.5,542.5 1122.2,540.2 1122.9,543.5 1123.6,546.3 1124.3,544.0 1125.0,543.2 1125.7,544.9 1126.4,542.3 1127.1,544.2 1127.8,547.6 1128.5,543.9 1129.2,545.8 1129.9,544.5 1130.6,543.5 1131.3,543.6 1132.0,541.3 1132.7,542.7 1133.4,544.5 1134.1,541.4 1134.8,543.8 1135.5,544.5 1136.2,545.3 1136.9,544.1 1137.6,542.3 1138.3,545.4 1139.0,543.0 1139.7,540.8 1140.4,543.9 1141.1,542.8 1141.8,545.3 1142.5,544.2 1143.2,543.0 1143.9,545.2 1144.6,543.0 1145.3,541.8 1146.0,544.7 1146.7,545.0 1147.4,543.0 1148.1,544.5 1148.8,545.4 1149.5,542.5 1150.2,539.8 1150.9,543.9 1151.6,543.0 1152.3,544.3 1153.0,543.5 1153.7,542.8 1154.4,542.0 1155.1,541.9 1155.8,542.5 1156.5,542.1 1157.2,544.1 1157.9,544.0 1158.6,542.4 1159.3,544.5 1160.0,542.6 1160.7,542.9 1161.4,544.1 1162.1,543.3 1162.8,542.2 1163.5,543.8 1164.2,544.7 1164.9,541.1 1165.6,542.2 1166.3,539.9 1167.0,542.0 1167.7,544.6 1168.4,541.6 1169.1,540.5 1169.8,539.8 1170.5,536.4 1171.2,534.0 1171.9,527.8 1172.6,521.9 1173.3,517.7 1174.0,518.0 1174.7,523.4 1175.4,529.0 1176.1,527.4 1176.8,526.3 1177.5,529.0 1178.2,534.6 1178.9,536.3 1179.6,539.3 1180.3,540.2 1181.0,542.3 1181.7,541.0 1182.4,540.8 1183.1,542.3 1183.8,542.0 1184.5,541.8 1185.2,544.4 1185.9,542.4 1186.6,543.0 1187.3,541.3 1188.0,541.8 1188.7,542.5 1189.4,544.6 1190.1,542.4 1190.8,543.1 1191.5,540.5 1192.2,542.1 1192.9,542.5 1193.6,543.7 1194.3,543.2 1195.0,540.7 1195.7,541.6 1196.4,543.1 1197.1,543.0 1197.8,540.5 1198.5,543.4 1199.2,538.7 1199.9,539.7 1200.6,537.8 1201.3,535.0 1202.0,529.3 1202.7,522.0 1203.4,520.2 1204.1,517.6 1204.8,523.7 1205.5,527.3 1206.2,529.8 1206.9,528.7 1207.6,527.7 1208.3,535.6 1209.0,536.4 1209.7,540.4 1210.4,542.9 1211.1,540.9 1211.8,542.2 1212.5,540.4 1213.2,541.6 1213.9,544.4 1214.6,542.4 1215.3,543.9 1216.0,542.9 1216.7,543.8 1217.4,543.8 1218.1,545.5 1218.8,543.8 1219.5,543.4 1220.2,543.9 1220.9,542.6 1221.6,542.1 1222.3,540.4 1223.0,545.1 1223.7,543.6 1224.4,543.0 1225.1,547.8 1225.8,543.8 1226.5,543.1 1227.2,544.3 1227.9,544.1 1228.6,544.4 1229.3,544.8 1230.0,543.9 1230.7,544.3 1231.4,543.4 1232.1,542.4 1232.8,541.2 1233.5,543.6 1234.2,542.4 1234.9,540.2 1235.6,544.4 1236.3,542.5 1237.0,543.4 1237.7,543.8 1238.4,543.5 1239.1,545.0 1239.8,542.3 1240.5,546.1 1241.2,543.0 1241.9,545.6 1242.6,543.7 1243.3,545.8 1244.0,543.5 1244.7,543.2 1245.4,542.1 1246.1,542.8 1246.8,547.4 1247.5,543.6 1248.2,543.6 1248.9,543.2 1249.6,546.8 1250.3,543.8 1251.0,543.0 1251.7,541.6 1252.4,543.4 1253.1,541.1 1253.8,539.4 1254.5,537.2 1255.2,530.5 1255.9,529.1 1256.6,528.0 1257.3,532.8 1258.0,532.6 1258.7,535.7 1259.4,533.4 1260.1,533.6 1260.8,537.7 1261.5,538.6 1262.2,541.2 1262.9,541.7 1263.6,542.3 1264.3,543.8 1265.0,543.4 1265.7,544.5 1266.4,544.3 1267.1,542.3 1267.8,542.0 1268.5,545.0 1269.2,544.7 1269.9,542.7 1270.6,544.6 1271.3,541.9 1272.0,541.5 1272.7,544.4 1273.4,542.6 1274.1,541.3 1274.8,545.5 1275.5,543.1 1276.2,542.7 1276.9,538.2 1277.6,537.2 1278.3,531.2 1279.0,522.1 1279.7,523.4 1280.4,528.2 1281.1,530.8 1281.8,532.1 1282.5,533.6 1283.2,533.0 1283.9,533.8 1284.6,534.9 1285.3,540.0 1286.0,539.9 1286.7,541.4 1287.4,544.2 1288.1,543.2 1288.8,545.4 1289.5,541.9 1290.2,543.6 1290.9,544.2 1291.6,545.0 1292.3,545.5 1293.0,544.8 1293.7,545.3 1294.4,544.3 1295.1,545.4 1295.8,545.3 1296.5,544.8 1297.2,545.6 1297.9,544.4 1298.6,544.1 1299.3,543.4 1300.0,543.8 1300.7,544.9 1301.4,542.2 1302.1,544.9 1302.8,543.9 1303.5,545.4 1304.2,539.6 1304.9,544.5 1305.6,543.0 1306.3,543.7 1307.0,544.8 1307.7,546.5 1308.4,545.1 1309.1,544.6 1309.8,543.0 1310.5,545.1 1311.2,544.2 1311.9,545.6 1312.6,545.3 1313.3,545.6 1314.0,541.6 1314.7,543.0 1315.4,543.5 1316.1,544.1 1316.8,544.1 1317.5,543.8 1318.2,545.1 1318.9,545.5 1319.6,544.0 1320.3,543.2 1321.0,544.4 1321.7,544.7 1322.4,544.6 1323.1,543.1 1323.8,545.2 1324.5,545.0 1325.2,545.0 1325.9,546.8 1326.6,545.6 1327.3,546.7 1328.0,545.0 1328.7,545.0 1329.4,543.3 1330.1,544.3 1330.8,545.5 1331.5,544.7 1332.2,545.0 1332.9,543.4 1333.6,542.9 1334.3,544.4 1335.0,541.6 1335.7,545.6 1336.4,543.6 1337.1,546.5 1337.8,543.6 1338.5,544.3 1339.2,543.0 1339.9,542.8 1340.6,544.7 1341.3,545.1 1342.0,542.8 1342.7,545.1 1343.4,543.8 1344.1,543.4 1344.8,545.3 1345.5,545.7 1346.2,544.1 1346.9,543.8 1347.6,544.7 1348.3,543.7 1349.0,545.2 1349.7,543.8 1350.4,544.3 1351.1,542.9 1351.8,543.8 1352.5,542.5 1353.2,546.2 1353.9,543.6 1354.6,544.6 1355.3,544.6 1356.0,544.1 1356.7,544.0 1357.4,545.4 1358.1,545.9 1358.8,545.5 1359.5,544.9 1360.2,543.9 1360.9,541.0 1361.6,547.9 1362.3,546.6 1363.0,545.0 1363.7,543.7 1364.4,543.7 1365.1,544.3 1365.8,544.4 1366.5,546.3 1367.2,545.0 1367.9,545.5 1368.6,547.1 1369.3,543.1 1370.0,547.6 1370.7,547.2 1371.4,545.5 1372.1,545.7 1372.8,543.9 1373.5,546.3 1374.2,548.8 1374.9,544.6 1375.6,545.1 1376.3,545.7 1377.0,544.2 1377.7,544.5 1378.4,544.9 1379.1,543.7 1379.8,544.2 1380.5,543.2 1381.2,544.6 1381.9,544.5 1382.6,545.0 1383.3,543.9 1384.0,542.8 1384.7,544.1 1385.4,544.3 1386.1,550.4 1386.8,544.3 1387.5,545.3 1388.2,544.3 1388.9,544.3 1389.6,543.7 1390.3,542.2 1391.0,542.2 1391.7,541.5 1392.4,543.3 1393.1,545.1 1393.8,541.3 1394.5,543.3 1395.2,543.2 1395.9,538.9 1396.6,536.0 1397.3,529.6 1398.0,525.1 1398.7,522.0 1399.4,525.7 1400.1,531.6 1400.8,533.8 1401.5,532.9 1402.2,533.8 1402.9,532.8 1403.6,533.7 1404.3,538.2 1405.0,542.1 1405.7,543.5 1406.4,541.7 1407.1,543.8 1407.8,544.5 1408.5,545.4 1409.2,546.4 1409.9,541.2 1410.6,545.3 1411.3,542.8 1412.0,544.6 1412.7,546.2 1413.4,546.1 1414.1,543.8 1414.8,546.5 1415.5,544.1 1416.2,544.6 1416.9,543.2 1417.6,544.0 1418.3,543.3 1419.0,545.5 1419.7,543.8 1420.4,545.9 1421.1,543.9 1421.8,545.9 1422.5,545.6 1423.2,544.6 1423.9,545.4 1424.6,546.4 1425.3,546.7 1426.0,544.4 1426.7,544.7 1427.4,546.1 1428.1,548.2 1428.8,545.7 1429.5,543.5 1430.2,543.8 1430.9,544.5 1431.6,545.0 1432.3,543.1 1433.0,542.4 1433.7,545.0 1434.4,544.3 1435.1,544.8 1435.8,542.9 1436.5,544.0 1437.2,545.9 1437.9,544.4 1438.6,543.3 1439.3,545.5 1440.0,544.2 1440.7,545.7 1441.4,545.1 1442.1,544.4 1442.8,544.2 1443.5,545.7 1444.2,544.0 1444.9,545.1 1445.6,546.0 1446.3,543.8 1447.0,544.3 1447.7,544.3 1448.4,542.7 1449.1,544.7 1449.8,543.1 1450.5,543.4 1451.2,541.1 1451.9,545.1 1452.6,545.1 1453.3,543.5 1454.0,543.7 1454.7,543.1 1455.4,543.5 1456.1,544.1 1456.8,544.1 1457.5,541.4 1458.2,541.2 1458.9,538.8 1459.6,540.0 1460.3,540.1 1461.0,537.3 1461.7,538.2 1462.4,535.2 1463.1,539.0 1463.8,539.3 1464.5,538.7 1465.2,538.9 1465.9,541.1 1466.6,539.5 1467.3,543.2 1468.0,541.9 1468.7,542.1 1469.4,543.6 1470.1,543.9 1470.8,542.6 1471.5,544.7 1472.2,544.5 1472.9,544.7 1473.6,546.3 1474.3,543.9 1475.0,544.4 1475.7,542.5 1476.4,544.8 1477.1,543.3 1477.8,543.4 1478.5,544.3 1479.2,544.5 1479.9,544.1 1480.6,544.2 1481.3,543.8 1482.0,542.3 1482.7,546.2 1483.4,543.2 1484.1,544.5 1484.8,542.4 1485.5,543.3 1486.2,544.4 1486.9,543.6 1487.6,542.7 1488.3,543.4 1489.0,543.8 1489.7,542.9 1490.4,541.9 1491.1,544.5 1491.8,542.7 1492.5,544.7 1493.2,542.7 1493.9,540.2 1494.6,540.3 1495.3,540.0 1496.0,541.3 1496.7,538.4 1497.4,541.4 1498.1,538.5 1498.8,539.5 1499.5,539.4 1500.2,536.9 1500.9,537.0 1501.6,540.7 1502.3,538.9 1503.0,538.7 1503.7,537.7 1504.4,539.5 1505.1,538.8 1505.8,540.0 1506.5,538.5 1507.2,542.1 1507.9,540.5 1508.6,540.6 1509.3,541.5 1510.0,542.3 1510.7,543.2 1511.4,542.1 1512.1,540.8 1512.8,545.7 1513.5,542.6 1514.2,545.0 1514.9,542.9 1515.6,542.6 1516.3,545.1 1517.0,542.5 1517.7,538.2 1518.4,545.3 1519.1,545.0 1519.8,545.7 1520.5,544.8 1521.2,543.5 1521.9,543.5 1522.6,544.5 1523.3,544.9 1524.0,544.3 1524.7,545.0 1525.4,546.0 1526.1,545.1 1526.8,545.8 1527.5,544.2 1528.2,544.0 1528.9,543.7 1529.6,545.2 1530.3,544.0 1531.0,545.1 1531.7,543.6 1532.4,545.2 1533.1,546.1 1533.8,545.0 1534.5,544.7 1535.2,543.9 1535.9,544.3 1536.6,544.0 1537.3,545.9 1538.0,545.9 1538.7,545.6 1539.4,544.7 1540.1,545.4 1540.8,544.7 1541.5,537.7 1542.2,543.5 1542.9,543.0 1543.6,544.2 1544.3,543.5 1545.0,544.4 1545.7,542.2 1546.4,544.0 1547.1,544.0 1547.8,542.5 1548.5,540.9 1549.2,539.6 1549.9,538.3 1550.6,533.7 1551.3,524.2 1552.0,520.4 1552.7,515.1 1553.4,518.8 1554.1,524.5 1554.8,531.5 1555.5,534.2 1556.2,530.3 1556.9,529.1 1557.6,528.6 1558.3,531.6 1559.0,535.4 1559.7,541.0 1560.4,539.4 1561.1,542.8 1561.8,543.1 1562.5,542.0 1563.2,544.2 1563.9,542.7 1564.6,545.3 1565.3,545.4 1566.0,545.4 1566.7,546.5 1567.4,543.7 1568.1,544.5 1568.8,545.2 1569.5,547.1 1570.2,545.7 1570.9,545.3 1571.6,545.6 1572.3,545.9 1573.0,544.1 1573.7,546.4 1574.4,546.2 1575.1,544.7 1575.8,544.3 1576.5,543.1 1577.2,545.9 1577.9,544.4 1578.6,544.3 1579.3,543.9 1580.0,546.2 1580.7,546.0 1581.4,543.6 1582.1,546.1 1582.8,545.5 1583.5,545.5 1584.2,545.0 1584.9,543.7 1585.6,548.1 1586.3,546.5 1587.0,545.1 1587.7,545.4 1588.4,549.4 1589.1,542.3 1589.8,547.5 1590.5,544.7 1591.2,545.0 1591.9,543.0 1592.6,544.3 1593.3,544.0 1594.0,547.5 1594.7,544.8 1595.4,545.1 1596.1,549.5 1596.8,545.2 1597.5,545.9 1598.2,546.4 1598.9,545.4 1599.6,545.2 1600.3,543.8 1601.0,544.4 1601.7,543.2 1602.4,546.7 1603.1,545.5 1603.8,546.9 1604.5,545.5 1605.2,546.6 1605.9,543.9 1606.6,543.5 1607.3,545.4 1608.0,545.3 1608.7,546.3 1609.4,543.9 1610.1,543.6 1610.8,544.6 1611.5,545.7 1612.2,544.9 1612.9,544.5 1613.6,543.9 1614.3,544.8 1615.0,546.0 1615.7,545.2 1616.4,543.6 1617.1,545.1 1617.8,547.1 1618.5,545.3 1619.2,547.0 1619.9,544.6 1620.6,545.0 1621.3,547.8 1622.0,544.3 1622.7,545.1 1623.4,542.8 1624.1,546.0 1624.8,545.3 1625.5,547.6 1626.2,546.9 1626.9,546.6 1627.6,546.0 1628.3,546.4 1629.0,543.6 1629.7,546.0 1630.4,544.0 1631.1,545.2 1631.8,547.1 1632.5,546.4 1633.2,544.3 1633.9,545.8 1634.6,545.6 1635.3,546.5 1636.0,545.4 1636.7,544.2 1637.4,546.5 1638.1,543.3 1638.8,545.5 1639.5,544.9 1640.2,545.0 1640.9,547.2 1641.6,544.4 1642.3,544.7 1643.0,546.0 1643.7,542.8 1644.4,539.2 1645.1,547.1 1645.8,545.3 1646.5,545.3 1647.2,547.4 1647.9,543.5 1648.6,545.5 1649.3,545.8 1650.0,545.6 1650.7,544.2 1651.4,544.0 1652.1,545.2 1652.8,543.7 1653.5,544.7 1654.2,543.6 1654.9,545.9 1655.6,544.8 1656.3,548.8 1657.0,546.9 1657.7,544.3 1658.4,544.1 1659.1,545.2 1659.8,546.1 1660.5,546.4 1661.2,545.1 1661.9,545.6 1662.6,546.3 1663.3,545.7 1664.0,544.1 1664.7,545.7 1665.4,546.3 1666.1,544.0 1666.8,545.4 1667.5,545.7 1668.2,544.7 1668.9,544.9 1669.6,545.3 1670.3,545.4 1671.0,545.3 1671.7,544.5 1672.4,544.8 1673.1,546.4 1673.8,543.9 1674.5,545.1 1675.2,542.9 1675.9,545.8 1676.6,543.3 1677.3,545.9 1678.0,546.5 1678.7,545.1 1679.4,544.3 1680.1,545.4 1680.8,546.7 1681.5,546.5 1682.2,544.3 1682.9,546.1 1683.6,544.7 1684.3,545.9 1685.0,545.4 1685.7,546.2 1686.4,545.1 1687.1,544.7 1687.8,546.1 1688.5,543.5 1689.2,544.1 1689.9,544.8 1690.6,544.7 1691.3,545.4 1692.0,545.8 1692.7,544.1 1693.4,543.4 1694.1,547.1 1694.8,541.8 1695.5,544.5 1696.2,544.4 1696.9,543.6 1697.6,545.4 1698.3,544.2 1699.0,540.5 1699.7,544.0 1700.4,544.3 1701.1,545.1 1701.8,543.2 1702.5,541.3 1703.2,541.8 1703.9,541.3 1704.6,540.0 1705.3,541.7 1706.0,541.9 1706.7,541.7 1707.4,541.3 1708.1,540.4 1708.8,538.9 1709.5,541.5 1710.2,538.8 1710.9,537.2 1711.6,538.5 1712.3,537.0 1713.0,538.2 1713.7,539.1 1714.4,537.5 1715.1,538.0 1715.8,538.5 1716.5,537.2 1717.2,535.7 1717.9,532.0 1718.6,529.4 1719.3,526.8 1720.0,526.7 1720.7,530.8 1721.4,534.1 1722.1,533.4 1722.8,537.5 1723.5,535.3 1724.2,536.2 1724.9,535.6 1725.6,536.9 1726.3,539.0 1727.0,542.2 1727.7,543.1 1728.4,540.9 1729.1,543.0 1729.8,545.0 1730.5,542.9 1731.2,545.3 1731.9,545.2 1732.6,543.4 1733.3,545.7 1734.0,545.7 1734.7,543.9 1735.4,543.6 1736.1,547.1 1736.8,545.4 1737.5,545.0 1738.2,545.2 1738.9,546.7 1739.6,544.1 1740.3,544.5 1741.0,544.8 1741.7,546.2 1742.4,545.7 1743.1,545.3 1743.8,545.6 1744.5,543.1 1745.2,547.1 1745.9,545.1 1746.6,544.6 1747.3,542.4 1748.0,545.6 1748.7,543.0 1749.4,547.4 1750.1,542.1 1750.8,545.7 1751.5,544.2 1752.2,546.4 1752.9,541.9 1753.6,544.3 1754.3,543.0 1755.0,549.2 1755.7,545.0 1756.4,545.2 1757.1,546.0 1757.8,544.9 1758.5,544.3 1759.2,545.4 1759.9,545.1 1760.6,545.0 1761.3,545.6 1762.0,547.1 1762.7,545.7 1763.4,546.6 1764.1,543.7 1764.8,544.4 1765.5,547.1 1766.2,546.0 1766.9,544.9 1767.6,546.0 1768.3,546.8 1769.0,546.1 1769.7,546.8 1770.4,544.8 1771.1,543.3 1771.8,544.6 1772.5,545.4 1773.2,545.0 1773.9,546.3 1774.6,543.4 1775.3,545.7 1776.0,547.0 1776.7,545.9 1777.4,545.2 1778.1,546.8 1778.8,545.8 1779.5,546.0 1780.2,552.8 1780.9,545.0 1781.6,545.9 1782.3,545.4 1783.0,543.5 1783.7,546.2 1784.4,546.6 1785.1,543.5 1785.8,542.4 1786.5,545.9 1787.2,544.6 1787.9,544.6 1788.6,545.2 1789.3,545.4 1790.0,545.3 1790.7,546.4 1791.4,544.9 1792.1,546.7 1792.8,544.7 1793.5,545.1 1794.2,542.8 1794.9,547.1 1795.6,546.5 1796.3,546.1 1797.0,545.0 1797.7,544.9 1798.4,546.1 1799.1,546.6 1799.8,545.3 1800.5,545.1 1801.2,545.4 1801.9,544.6 1802.6,546.3 1803.3,546.2 1804.0,546.9 1804.7,546.3 1805.4,546.4 1806.1,544.9 1806.8,544.1 1807.5,546.7 1808.2,544.6 1808.9,546.6 1809.6,543.4 1810.3,545.7 1811.0,544.9 1811.7,546.1 1812.4,542.4 1813.1,545.3 1813.8,544.9 1814.5,544.5 1815.2,544.1 1815.9,547.2 1816.6,545.7 1817.3,545.4 1818.0,545.4 1818.7,546.2 1819.4,546.2 1820.1,544.0 1820.8,543.1 1821.5,542.8 1822.2,545.0 1822.9,543.7 1823.6,546.4 1824.3,544.9 1825.0,546.1 1825.7,545.4 1826.4,544.2 1827.1,545.1 1827.8,546.9 1828.5,546.1 1829.2,545.5 1829.9,544.7 1830.6,543.9 1831.3,544.9 1832.0,547.8 1832.7,545.6 1833.4,544.1 1834.1,543.7 1834.8,545.8 1835.5,547.0 1836.2,546.5 1836.9,544.7 1837.6,543.7 1838.3,546.4 1839.0,544.6 1839.7,546.7 1840.4,543.7 1841.1,545.4 1841.8,544.4 1842.5,544.7 1843.2,547.2 1843.9,543.7 1844.6,543.5 1845.3,545.8 1846.0,542.0 1846.7,545.2 1847.4,546.9 1848.1,545.5 1848.8,542.9 1849.5,545.2 1850.2,546.7 1850.9,544.9 1851.6,544.8 1852.3,546.8 1853.0,548.3 1853.7,546.0 1854.4,545.3 1855.1,547.2 1855.8,546.1 1856.5,546.4 1857.2,545.4 1857.9,546.5 1858.6,545.4 1859.3,547.6 1860.0,546.1 1860.7,545.3 1861.4,547.3 1862.1,545.0 1862.8,541.9 1863.5,544.0 1864.2,544.7 1864.9,546.1 1865.6,546.8 1866.3,544.7 1867.0,546.4 1867.7,545.7 1868.4,550.2 1869.1,545.8 1869.8,543.8 1870.5,544.6 1871.2,546.8 1871.9,544.3 1872.6,546.3 1873.3,544.9 1874.0,545.6 1874.7,543.5 1875.4,546.2 1876.1,545.0 1876.8,544.3 1877.5,549.6 1878.2,542.8 1878.9,545.3 1879.6,545.6 1880.3,547.0 1881.0,543.8 1881.7,545.9 1882.4,539.7 1883.1,545.3 1883.8,545.7 1884.5,544.8 1885.2,544.5 1885.9,546.3 1886.6,543.8 1887.3,545.6 1888.0,544.0 1888.7,543.9 1889.4,546.4 1890.1,544.4 1890.8,543.1 1891.5,544.2 1892.2,544.7 1892.9,542.9 1893.6,543.6 1894.3,541.7 1895.0,540.1 1895.7,542.0 1896.4,539.3 1897.1,536.9 1897.8,533.6 1898.5,527.3 1899.2,522.3 1899.9,521.3 1900.6,523.9 1901.3,530.6 1902.0,532.9 1902.7,534.3 1903.4,533.5 1904.1,533.0 1904.8,532.0 1905.5,531.5 1906.2,533.3 1906.9,536.6 1907.6,540.7 1908.3,541.6 1909.0,542.5 1909.7,543.6 1910.4,544.8 1911.1,544.7 1911.8,541.0 1912.5,543.5 1913.2,545.1 1913.9,546.8 1914.6,545.5 1915.3,545.8 1916.0,544.1 1916.7,545.7 1917.4,546.3 1918.1,544.0 1918.8,545.0 1919.5,546.8 1920.2,544.4 1920.9,544.4 1921.6,545.6 1922.3,544.8 1923.0,545.5 1923.7,548.1 1924.4,544.7 1925.1,545.7 1925.8,544.8 1926.5,542.7 1927.2,543.2 1927.9,545.0 1928.6,545.9 1929.3,546.4 1930.0,542.5 1930.7,545.3 1931.4,543.3 1932.1,541.7 1932.8,544.3 1933.5,543.6 1934.2,545.6 1934.9,544.9 1935.6,543.2 1936.3,543.7 1937.0,545.8 1937.7,544.9 1938.4,545.2 1939.1,543.3 1939.8,543.0 1940.5,545.5 1941.2,545.4 1941.9,543.5 1942.6,542.7 1943.3,544.6 1944.0,544.1 1944.7,541.2 1945.4,543.9 1946.1,544.0 1946.8,542.0 1947.5,544.4 1948.2,542.7 1948.9,542.6 1949.6,540.5 1950.3,540.8 1951.0,541.2 1951.7,541.6 1952.4,541.2 1953.1,540.0 1953.8,540.7 1954.5,538.1 1955.2,539.2 1955.9,538.2 1956.6,537.9 1957.3,539.9 1958.0,537.9 1958.7,538.1 1959.4,538.3 1960.1,534.6 1960.8,537.3 1961.5,535.4 1962.2,533.7 1962.9,535.4 1963.6,535.8 1964.3,534.0 1965.0,533.9 1965.7,534.0 1966.4,534.4 1967.1,535.3 1967.8,535.4 1968.5,534.9 1969.2,536.7 1969.9,536.6 1970.6,535.3 1971.3,537.2 1972.0,535.2 1972.7,537.9 1973.4,538.7 1974.1,538.2 1974.8,540.7 1975.5,536.0 1976.2,537.3 1976.9,541.3 1977.6,540.0 1978.3,541.1 1979.0,540.9 1979.7,540.3 1980.4,543.5 1981.1,540.1 1981.8,543.0 1982.5,541.5 1983.2,543.0 1983.9,543.5 1984.6,543.5 1985.3,543.3 1986.0,544.8 1986.7,543.5 1987.4,543.3 1988.1,544.3 1988.8,542.9 1989.5,539.5 1990.2,542.0 1990.9,544.7 1991.6,543.8 1992.3,546.0 1993.0,544.0 1993.7,545.5 1994.4,544.5 1995.1,544.3 1995.8,543.3 1996.5,544.5 1997.2,545.1 1997.9,543.9 1998.6,543.5 1999.3,547.2 2000.0,545.2 2000.7,544.0 2001.4,545.1 2002.1,544.7 2002.8,545.3 2003.5,543.9 2004.2,545.4 2004.9,545.3 2005.6,545.8 2006.3,545.0 2007.0,545.0 2007.7,546.3 2008.4,547.4 2009.1,545.6 2009.8,546.2 2010.5,546.0 2011.2,544.8 2011.9,547.9 2012.6,544.0 2013.3,542.8 2014.0,545.5 2014.7,544.7 2015.4,544.6 2016.1,543.8 2016.8,545.6 2017.5,544.5 2018.2,544.8 2018.9,540.8 2019.6,546.7 2020.3,549.0 2021.0,545.1 2021.7,544.9 2022.4,547.3 2023.1,544.8 2023.8,544.4 2024.5,546.9 2025.2,545.3 2025.9,544.0 2026.6,546.0 2027.3,546.6 2028.0,544.0 2028.7,543.5 2029.4,544.8 2030.1,544.9 2030.8,545.5 2031.5,543.8 2032.2,546.3 2032.9,545.6 2033.6,543.0 2034.3,545.0 2035.0,543.9 2035.7,543.9 2036.4,543.2 2037.1,544.9 2037.8,544.0 2038.5,541.9 2039.2,540.5 2039.9,537.6 2040.6,541.1 2041.3,535.8 2042.0,536.7 2042.7,535.5 2043.4,535.7 2044.1,538.7 2044.8,538.3 2045.5,539.8 2046.2,541.4 2046.9,538.9 2047.6,541.6 2048.3,537.2 2049.0,541.2 2049.7,540.5 2050.4,540.8 2051.1,540.8 2051.8,542.5 2052.5,544.2 2053.2,543.3 2053.9,544.7 2054.6,546.0 2055.3,544.3 2056.0,545.9 2056.7,544.0 2057.4,545.1 2058.1,546.4 2058.8,543.4 2059.5,544.2 2060.2,546.2 2060.9,547.0 2061.6,546.2 2062.3,546.4 2063.0,545.2 2063.7,544.7 2064.4,546.3 2065.1,544.4 2065.8,544.2 2066.5,544.7 2067.2,546.2 2067.9,545.3 2068.6,543.5 2069.3,546.0 2070.0,545.8 2070.7,545.0 2071.4,545.0 2072.1,545.0 2072.8,543.2 2073.5,546.3 2074.2,544.5 2074.9,547.8 2075.6,547.7 2076.3,546.1 2077.0,543.6 2077.7,544.8 2078.4,546.3 2079.1,543.7 2079.8,546.9 2080.5,546.2 2081.2,545.7 2081.9,543.3 2082.6,546.5 2083.3,546.1 2084.0,543.9 2084.7,546.5 2085.4,544.1 2086.1,545.7 2086.8,548.2 2087.5,544.5 2088.2,547.2 2088.9,543.5 2089.6,543.9 2090.3,544.0 2091.0,544.6 2091.7,544.2 2092.4,546.3 2093.1,547.1 2093.8,545.1 2094.5,544.3 2095.2,545.3 2095.9,545.2 2096.6,543.9 2097.3,543.6 2098.0,545.2 2098.7,546.0 2099.4,547.6 2100.1,545.5 2100.8,545.5 2101.5,546.7 2102.2,548.0 2102.9,545.6 2103.6,544.9 2104.3,546.0 2105.0,546.8 2105.7,546.1 2106.4,546.9 2107.1,545.3 2107.8,545.5 2108.5,544.9 2109.2,545.8 2109.9,545.3 2110.6,545.4 2111.3,544.1 2112.0,545.6 2112.7,545.4 2113.4,545.2 2114.1,545.4 2114.8,545.1 2115.5,546.1 2116.2,546.0 2116.9,547.4 2117.6,546.4 2118.3,545.2 2119.0,545.9 2119.7,546.5 2120.4,544.3 2121.1,543.9 2121.8,546.5 2122.5,545.8 2123.2,548.0 2123.9,546.2 2124.6,545.5 2125.3,546.5 2126.0,546.1 2126.7,545.7 2127.4,548.0 2128.1,546.5 2128.8,545.5 2129.5,544.9 2130.2,546.4 2130.9,546.2 2131.6,545.9 2132.3,546.2 2133.0,546.6 2133.7,547.4 2134.4,548.4 2135.1,544.0 2135.8,544.9 2136.5,545.1 2137.2,546.4 2137.9,546.8 2138.6,548.2 2139.3,545.4 2140.0,545.6 2140.7,545.9 2141.4,546.0 2142.1,544.6 2142.8,546.2 2143.5,546.4 2144.2,545.1 2144.9,545.3 2145.6,547.7 2146.3,543.8 2147.0,546.2 2147.7,547.0 2148.4,546.6 2149.1,546.5 2149.8,546.4 2150.5,545.5 2151.2,546.2 2151.9,546.6 2152.6,547.3 2153.3,544.6 2154.0,543.0 2154.7,544.9 2155.4,544.6 2156.1,545.8 2156.8,545.3 2157.5,545.5 2158.2,547.1 2158.9,544.4 2159.6,545.8 2160.3,545.4 2161.0,544.8 2161.7,544.6 2162.4,544.5 2163.1,545.8 2163.8,545.3 2164.5,546.1 2165.2,547.7 2165.9,545.8 2166.6,544.7 2167.3,545.2 2168.0,543.9 2168.7,543.4 2169.4,543.8 2170.1,544.2 2170.8,541.9 2171.5,541.7 2172.2,537.6 2172.9,536.2 2173.6,535.9 2174.3,531.7 2175.0,531.8 2175.7,530.0 2176.4,533.5 2177.1,536.7 2177.8,537.0 2178.5,539.0 2179.2,540.4 2179.9,537.6 2180.6,537.4 2181.3,538.1 2182.0,534.8 2182.7,535.2 2183.4,537.2 2184.1,537.6 2184.8,540.0 2185.5,534.7 2186.2,533.0 2186.9,532.1 2187.6,526.4 2188.3,522.9 2189.0,523.5 2189.7,520.5 2190.4,525.7 2191.1,529.3 2191.8,531.2 2192.5,533.1 2193.2,534.6 2193.9,535.4 2194.6,532.7 2195.3,530.4 2196.0,531.9 2196.7,532.5 2197.4,536.9 2198.1,537.4 2198.8,541.2 2199.5,540.4 2200.2,541.3 2200.9,544.8 2201.6,543.9 2202.3,544.4 2203.0,545.4 2203.7,544.1 2204.4,546.0 2205.1,543.5 2205.8,542.6 2206.5,543.8 2207.2,546.2 2207.9,545.7 2208.6,542.1 2209.3,546.4 2210.0,544.4 2210.7,544.3 2211.4,546.9 2212.1,545.5 2212.8,546.7 2213.5,542.7 2214.2,545.4 2214.9,543.8 2215.6,546.2 2216.3,545.5 2217.0,546.2 2217.7,546.7 2218.4,546.5 2219.1,545.9 2219.8,547.0 2220.5,546.5 2221.2,546.6 2221.9,547.1 2222.6,547.9 2223.3,544.8 2224.0,546.7 2224.7,545.8 2225.4,545.6 2226.1,545.0 2226.8,545.1 2227.5,544.6 2228.2,546.8 2228.9,545.3 2229.6,545.9 2230.3,545.9 2231.0,545.8 2231.7,546.3 2232.4,541.6 2233.1,546.9 2233.8,544.1 2234.5,545.6 2235.2,542.5 2235.9,543.9 2236.6,546.9 2237.3,544.1 2238.0,544.2 2238.7,546.1 2239.4,545.2 2240.1,545.9 2240.8,544.5 2241.5,544.8 2242.2,547.8 2242.9,545.7 2243.6,544.6 2244.3,545.8 2245.0,547.7 2245.7,546.1 2246.4,545.8 2247.1,546.2 2247.8,547.3 2248.5,544.3 2249.2,545.3 2249.9,547.3 2250.6,552.2 2251.3,545.4 2252.0,546.9 2252.7,544.1 2253.4,547.0 2254.1,544.0"/>
</g>
<g fill="#000">
<circle cx="479.0" cy="469.0" r="15.5"/>
<rect x="501.7" y="365.5" width="28.0" height="28.0"/>
<rect x="689.9" y="37.0" width="27.5" height="27.5"/>
<g stroke="#000" fill="none"><line x1="746.0" y1="449.2" x2="746.0" y2="484.2" stroke-width="3"/><line x1="728.5" y1="466.7" x2="763.5" y2="466.7" stroke-width="2.2"/><line x1="729.4" y1="450.1" x2="762.6" y2="483.3" stroke-width="2"/><line x1="729.4" y1="483.3" x2="762.6" y2="450.1" stroke-width="2"/></g>
<circle cx="818.4" cy="478.9" r="15.5"/>
<rect x="1056.3" y="470.3" width="28.0" height="28.0"/>
<rect x="1161.5" y="487.8" width="28.0" height="28.0"/>
<rect x="1191.3" y="487.8" width="28.0" height="28.0"/>
<rect x="1267.5" y="493.0" width="28.0" height="28.0"/>
<rect x="1383.2" y="493.0" width="28.0" height="28.0"/>
<rect x="1535.2" y="485.2" width="28.0" height="28.0"/>
<rect x="1708.1" y="479.7" width="28.0" height="28.0"/>
<rect x="1887.3" y="487.9" width="28.0" height="28.0"/>
<polygon points="2025.5,501.0 2063.5,501.0 2044.5,519.5" fill="#000"/><polygon points="2044.5,483.7 2062.3,501.0 2044.5,518.3 2026.7,501.0" fill="none" stroke="#000" stroke-width="2.4" stroke-linejoin="miter"/>
<rect x="2175.1" y="481.3" width="28.0" height="28.0"/>
<polygon points="156.6,585.4 162.1,595.9 174.5,597.5 165.6,605.7 167.7,617.2 156.6,611.8 145.5,617.2 147.6,605.7 138.7,597.5 151.1,595.9"/>
<rect x="286.1" y="682.7" width="28.0" height="28.0"/>
<polygon points="505.8,645.5 524.0,677.5 487.6,677.5"/>
<polygon points="505.8,691.7 511.3,702.2 523.7,703.8 514.8,712.0 516.9,723.5 505.8,718.1 494.7,723.5 496.8,712.0 487.9,703.8 500.3,702.2"/>
<polygon points="546.6,675.5 564.9,707.5 528.4,707.5"/>
<polygon points="588.0,651.2 606.2,683.2 569.8,683.2"/>
<rect x="700.7" y="557.3" width="28.0" height="28.0"/>
<rect x="918.0" y="612.4" width="22.0" height="22.0" fill="none" stroke="#000" stroke-width="7"/>
<polygon points="1069.5,651.6 1075.0,662.1 1087.4,663.7 1078.5,671.9 1080.6,683.4 1069.5,678.0 1058.4,683.4 1060.5,671.9 1051.6,663.7 1064.0,662.1"/>
<polygon points="1094.0,719.1 1099.5,729.6 1111.9,731.2 1103.0,739.4 1105.1,750.9 1094.0,745.5 1082.9,750.9 1085.0,739.4 1076.1,731.2 1088.5,729.6"/>
<rect x="1283.3" y="684.7" width="22.0" height="22.0" fill="none" stroke="#000" stroke-width="7"/>
<polygon points="1395.4,719.5 1400.9,730.0 1413.3,731.6 1404.4,739.8 1406.5,751.3 1395.4,745.9 1384.3,751.3 1386.4,739.8 1377.5,731.6 1389.9,730.0"/>
<polygon points="1505.2,732.4 1523.5,764.4 1487.0,764.4"/>
<polygon points="1681.8,707.6 1687.3,718.1 1699.7,719.7 1690.8,727.9 1692.9,739.4 1681.8,734.0 1670.7,739.4 1672.8,727.9 1663.9,719.7 1676.3,718.1"/>
<rect x="1967.9" y="716.0" width="22.0" height="22.0" fill="none" stroke="#000" stroke-width="7"/>
<polygon points="163.5,781.6 169.0,792.1 181.4,793.7 172.5,801.9 174.6,813.4 163.5,808.0 152.4,813.4 154.5,801.9 145.6,793.7 158.0,792.1"/>
<rect x="290.0" y="843.5" width="28.0" height="28.0"/>
<polygon points="510.2,814.5 528.5,846.5 491.9,846.5"/>
<polygon points="512.4,853.0 517.9,863.5 530.3,865.1 521.4,873.3 523.5,884.8 512.4,879.4 501.3,884.8 503.4,873.3 494.5,865.1 506.9,863.5"/>
<polygon points="552.3,849.0 570.5,881.0 534.0,881.0"/>
<polygon points="590.6,821.1 608.9,853.1 572.4,853.1"/>
<polygon points="1073.4,825.5 1078.9,836.0 1091.3,837.6 1082.4,845.8 1084.5,857.3 1073.4,851.9 1062.3,857.3 1064.4,845.8 1055.5,837.6 1067.9,836.0"/>
<polygon points="1100.4,880.4 1105.9,890.9 1118.3,892.5 1109.4,900.7 1111.5,912.2 1100.4,906.8 1089.3,912.2 1091.4,900.7 1082.5,892.5 1094.9,890.9"/>
<rect x="1288.8" y="803.2" width="22.0" height="22.0" fill="none" stroke="#000" stroke-width="7"/>
<polygon points="1401.8,883.0 1407.3,893.5 1419.7,895.1 1410.8,903.3 1412.9,914.8 1401.8,909.4 1390.7,914.8 1392.8,903.3 1383.9,895.1 1396.3,893.5"/>
<polygon points="1509.2,882.0 1527.5,914.0 1491.0,914.0"/>
<polygon points="1686.2,869.0 1691.7,879.5 1704.1,881.1 1695.2,889.3 1697.3,900.8 1686.2,895.4 1675.1,900.8 1677.2,889.3 1668.3,881.1 1680.7,879.5"/>
<rect x="1972.0" y="872.5" width="22.0" height="22.0" fill="none" stroke="#000" stroke-width="7"/>
<polygon points="163.5,962.4 169.0,972.9 181.4,974.5 172.5,982.7 174.6,994.2 163.5,988.8 152.4,994.2 154.5,982.7 145.6,974.5 158.0,972.9"/>
<rect x="288.5" y="1031.8" width="28.0" height="28.0"/>
<polygon points="511.5,983.5 529.8,1015.5 493.2,1015.5"/>
<polygon points="512.5,1020.3 518.0,1030.8 530.4,1032.4 521.5,1040.6 523.6,1052.1 512.5,1046.7 501.4,1052.1 503.5,1040.6 494.6,1032.4 507.0,1030.8"/>
<polygon points="552.3,1007.2 570.5,1039.2 534.0,1039.2"/>
<polygon points="588.0,992.9 606.2,1024.9 569.8,1024.9"/>
<rect x="704.6" y="956.5" width="28.0" height="28.0"/>
<polygon points="1073.0,988.7 1078.5,999.2 1090.9,1000.8 1082.0,1009.0 1084.1,1020.5 1073.0,1015.1 1061.9,1020.5 1064.0,1009.0 1055.1,1000.8 1067.5,999.2"/>
<polygon points="1100.4,1024.4 1105.9,1034.9 1118.3,1036.5 1109.4,1044.7 1111.5,1056.2 1100.4,1050.8 1089.3,1056.2 1091.4,1044.7 1082.5,1036.5 1094.9,1034.9"/>
<rect x="1284.5" y="955.8" width="22.0" height="22.0" fill="none" stroke="#000" stroke-width="7"/>
<polygon points="1401.8,1035.6 1407.3,1046.1 1419.7,1047.7 1410.8,1055.9 1412.9,1067.4 1401.8,1062.0 1390.7,1067.4 1392.8,1055.9 1383.9,1047.7 1396.3,1046.1"/>
<polygon points="1508.7,1035.9 1527.0,1067.9 1490.5,1067.9"/>
<polygon points="1685.7,1032.5 1691.2,1043.0 1703.6,1044.6 1694.7,1052.8 1696.8,1064.3 1685.7,1058.9 1674.6,1064.3 1676.7,1052.8 1667.8,1044.6 1680.2,1043.0"/>
<rect x="1974.4" y="1010.3" width="22.0" height="22.0" fill="none" stroke="#000" stroke-width="7"/>
<polygon points="163.5,1057.4 169.0,1067.9 181.4,1069.5 172.5,1077.7 174.6,1089.2 163.5,1083.8 152.4,1089.2 154.5,1077.7 145.6,1069.5 158.0,1067.9"/>
<polygon points="216.7,1163.2 234.9,1195.2 198.4,1195.2"/>
<polygon points="218.0,1205.7 223.5,1216.2 235.9,1217.8 227.0,1226.0 229.1,1237.5 218.0,1232.1 206.9,1237.5 209.0,1226.0 200.1,1217.8 212.5,1216.2"/>
<polygon points="303.8,1201.2 322.1,1233.2 285.6,1233.2"/>
<polygon points="516.0,1196.0 534.2,1228.0 497.8,1228.0"/>
<polygon points="516.9,1244.4 522.4,1254.9 534.8,1256.5 525.9,1264.7 528.0,1276.2 516.9,1270.8 505.8,1276.2 507.9,1264.7 499.0,1256.5 511.4,1254.9"/>
<polygon points="549.6,1182.4 567.9,1214.4 531.4,1214.4"/>
<polygon points="588.0,1147.1 606.2,1179.1 569.8,1179.1"/>
<polygon points="661.5,1230.8 679.8,1262.8 643.2,1262.8"/>
<rect x="706.1" y="1225.1" width="28.0" height="28.0"/>
<polygon points="1073.4,1171.7 1078.9,1182.2 1091.3,1183.8 1082.4,1192.0 1084.5,1203.5 1073.4,1198.1 1062.3,1203.5 1064.4,1192.0 1055.5,1183.8 1067.9,1182.2"/>
<polygon points="1100.4,1228.8 1105.9,1239.3 1118.3,1240.9 1109.4,1249.1 1111.5,1260.6 1100.4,1255.2 1089.3,1260.6 1091.4,1249.1 1082.5,1240.9 1094.9,1239.3"/>
<rect x="1284.7" y="1172.5" width="22.0" height="22.0" fill="none" stroke="#000" stroke-width="7"/>
<polygon points="1401.8,1259.6 1407.3,1270.1 1419.7,1271.7 1410.8,1279.9 1412.9,1291.4 1401.8,1286.0 1390.7,1291.4 1392.8,1279.9 1383.9,1271.7 1396.3,1270.1"/>
<polygon points="1508.5,1261.6 1526.8,1293.6 1490.2,1293.6"/>
<polygon points="1684.4,1237.3 1689.9,1247.8 1702.3,1249.4 1693.4,1257.6 1695.5,1269.1 1684.4,1263.7 1673.3,1269.1 1675.4,1257.6 1666.5,1249.4 1678.9,1247.8"/>
<rect x="1974.5" y="1224.4" width="22.0" height="22.0" fill="none" stroke="#000" stroke-width="7"/>
<rect x="851.9" y="51.1" width="29.0" height="29.0"/>
<polygon points="864.5,131.8 869.6,141.8 881.0,143.4 872.7,151.2 874.7,162.2 864.5,157.0 854.3,162.2 856.3,151.2 848.0,143.4 859.4,141.8"/>
<polygon points="864.3,222.4 882.8,255.4 845.8,255.4"/>
<rect x="1245.0" y="61.4" width="22.0" height="22.0" fill="none" stroke="#000" stroke-width="7"/>
<circle cx="1251.9" cy="155.8" r="16.0"/>
<polygon points="1232.8,243.7 1270.8,243.7 1251.8,261.7" fill="#000"/><polygon points="1251.8,226.9 1269.6,243.7 1251.8,260.5 1234.0,243.7" fill="none" stroke="#000" stroke-width="2.4" stroke-linejoin="miter"/>
<g stroke="#000" fill="none"><line x1="1638.0" y1="55.2" x2="1638.0" y2="89.2" stroke-width="3"/><line x1="1621.0" y1="72.2" x2="1655.0" y2="72.2" stroke-width="2.2"/><line x1="1621.8" y1="56.1" x2="1654.2" y2="88.3" stroke-width="2"/><line x1="1621.8" y1="88.3" x2="1654.2" y2="56.1" stroke-width="2"/></g>
</g>
<rect x="130.5" y="15.2" width="2125.3" height="1385.1" fill="none" stroke="#000" stroke-width="4.6"/>
<g stroke="#000" stroke-width="3.6">
<line x1="130.8" y1="1400.3" x2="130.8" y2="1425"/>
<line x1="166.2" y1="1400.3" x2="166.2" y2="1413.5"/>
<line x1="201.6" y1="1400.3" x2="201.6" y2="1413.5"/>
<line x1="237.1" y1="1400.3" x2="237.1" y2="1413.5"/>
<line x1="272.5" y1="1400.3" x2="272.5" y2="1413.5"/>
<line x1="307.9" y1="1400.3" x2="307.9" y2="1425"/>
<line x1="343.3" y1="1400.3" x2="343.3" y2="1413.5"/>
<line x1="378.7" y1="1400.3" x2="378.7" y2="1413.5"/>
<line x1="414.2" y1="1400.3" x2="414.2" y2="1413.5"/>
<line x1="449.6" y1="1400.3" x2="449.6" y2="1413.5"/>
<line x1="485.0" y1="1400.3" x2="485.0" y2="1425"/>
<line x1="520.4" y1="1400.3" x2="520.4" y2="1413.5"/>
<line x1="555.8" y1="1400.3" x2="555.8" y2="1413.5"/>
<line x1="591.3" y1="1400.3" x2="591.3" y2="1413.5"/>
<line x1="626.7" y1="1400.3" x2="626.7" y2="1413.5"/>
<line x1="662.1" y1="1400.3" x2="662.1" y2="1425"/>
<line x1="697.5" y1="1400.3" x2="697.5" y2="1413.5"/>
<line x1="732.9" y1="1400.3" x2="732.9" y2="1413.5"/>
<line x1="768.4" y1="1400.3" x2="768.4" y2="1413.5"/>
<line x1="803.8" y1="1400.3" x2="803.8" y2="1413.5"/>
<line x1="839.2" y1="1400.3" x2="839.2" y2="1425"/>
<line x1="874.6" y1="1400.3" x2="874.6" y2="1413.5"/>
<line x1="910.0" y1="1400.3" x2="910.0" y2="1413.5"/>
<line x1="945.5" y1="1400.3" x2="945.5" y2="1413.5"/>
<line x1="980.9" y1="1400.3" x2="980.9" y2="1413.5"/>
<line x1="1016.3" y1="1400.3" x2="1016.3" y2="1425"/>
<line x1="1051.7" y1="1400.3" x2="1051.7" y2="1413.5"/>
<line x1="1087.1" y1="1400.3" x2="1087.1" y2="1413.5"/>
<line x1="1122.6" y1="1400.3" x2="1122.6" y2="1413.5"/>
<line x1="1158.0" y1="1400.3" x2="1158.0" y2="1413.5"/>
<line x1="1193.4" y1="1400.3" x2="1193.4" y2="1425"/>
<line x1="1228.8" y1="1400.3" x2="1228.8" y2="1413.5"/>
<line x1="1264.2" y1="1400.3" x2="1264.2" y2="1413.5"/>
<line x1="1299.7" y1="1400.3" x2="1299.7" y2="1413.5"/>
<line x1="1335.1" y1="1400.3" x2="1335.1" y2="1413.5"/>
<line x1="1370.5" y1="1400.3" x2="1370.5" y2="1425"/>
<line x1="1405.9" y1="1400.3" x2="1405.9" y2="1413.5"/>
<line x1="1441.3" y1="1400.3" x2="1441.3" y2="1413.5"/>
<line x1="1476.8" y1="1400.3" x2="1476.8" y2="1413.5"/>
<line x1="1512.2" y1="1400.3" x2="1512.2" y2="1413.5"/>
<line x1="1547.6" y1="1400.3" x2="1547.6" y2="1425"/>
<line x1="1583.0" y1="1400.3" x2="1583.0" y2="1413.5"/>
<line x1="1618.4" y1="1400.3" x2="1618.4" y2="1413.5"/>
<line x1="1653.9" y1="1400.3" x2="1653.9" y2="1413.5"/>
<line x1="1689.3" y1="1400.3" x2="1689.3" y2="1413.5"/>
<line x1="1724.7" y1="1400.3" x2="1724.7" y2="1425"/>
<line x1="1760.1" y1="1400.3" x2="1760.1" y2="1413.5"/>
<line x1="1795.5" y1="1400.3" x2="1795.5" y2="1413.5"/>
<line x1="1831.0" y1="1400.3" x2="1831.0" y2="1413.5"/>
<line x1="1866.4" y1="1400.3" x2="1866.4" y2="1413.5"/>
<line x1="1901.8" y1="1400.3" x2="1901.8" y2="1425"/>
<line x1="1937.2" y1="1400.3" x2="1937.2" y2="1413.5"/>
<line x1="1972.6" y1="1400.3" x2="1972.6" y2="1413.5"/>
<line x1="2008.1" y1="1400.3" x2="2008.1" y2="1413.5"/>
<line x1="2043.5" y1="1400.3" x2="2043.5" y2="1413.5"/>
<line x1="2078.9" y1="1400.3" x2="2078.9" y2="1425"/>
<line x1="2114.3" y1="1400.3" x2="2114.3" y2="1413.5"/>
<line x1="2149.7" y1="1400.3" x2="2149.7" y2="1413.5"/>
<line x1="2185.2" y1="1400.3" x2="2185.2" y2="1413.5"/>
<line x1="2220.6" y1="1400.3" x2="2220.6" y2="1413.5"/>
<line x1="2256.0" y1="1400.3" x2="2256.0" y2="1425"/>
</g>
<text x="130.8" y="1494.5" font-size="82" text-anchor="middle">10</text>
<text x="307.9" y="1494.5" font-size="82" text-anchor="middle">15</text>
<text x="485.0" y="1494.5" font-size="82" text-anchor="middle">20</text>
<text x="662.1" y="1494.5" font-size="82" text-anchor="middle">25</text>
<text x="839.2" y="1494.5" font-size="82" text-anchor="middle">30</text>
<text x="1016.3" y="1494.5" font-size="82" text-anchor="middle">35</text>
<text x="1193.4" y="1494.5" font-size="82" text-anchor="middle">40</text>
<text x="1370.5" y="1494.5" font-size="82" text-anchor="middle">45</text>
<text x="1547.6" y="1494.5" font-size="82" text-anchor="middle">50</text>
<text x="1724.7" y="1494.5" font-size="82" text-anchor="middle">55</text>
<text x="1901.8" y="1494.5" font-size="82" text-anchor="middle">60</text>
<text x="2078.9" y="1494.5" font-size="82" text-anchor="middle">65</text>
<text x="2256.0" y="1494.5" font-size="82" text-anchor="middle">70</text>
<text x="997.2" y="1596.0" font-size="90.0" fill="#000">2 Theta (°)</text>
<text transform="translate(77.8,934.0) rotate(-90)" x="0" y="0" font-size="87.3">Intensity (a.u.)</text>
<text x="172.9" y="93.6" font-size="85.0" fill="#ff00ff">e</text>
<text x="235.6" y="94.2" font-size="66.0" fill="#ff00ff">FD</text>
<text x="170.9" y="177.1" font-size="87.0" fill="#008000">d</text>
<text x="234.5" y="170.4" font-size="66.0" fill="#008000">MOC-30FD</text>
<text x="168.1" y="242.5" font-size="87.0" fill="#0000ff">c</text>
<text x="233.1" y="244.0" font-size="66.0" fill="#0000ff">MOC-20FD</text>
<text x="173.7" y="324.6" font-size="83.0" fill="#ff0000">b</text>
<text x="238.6" y="322.6" font-size="66.0" fill="#ff0000">MOC-10FD</text>
<text x="173.1" y="401.4" font-size="85.0" fill="#000">a</text>
<text x="235.8" y="401.6" font-size="66.0" fill="#000">MOC</text>
<text x="899.5" y="91.3" font-size="66.0" fill="#000">Quartz</text>
<text x="898.1" y="177.8" font-size="66.0" fill="#000">Phase 5</text>
<text x="896.1" y="262.0" font-size="66.0" fill="#000">Phase 3</text>
<text x="1307.1" y="94.6" font-size="66.0" fill="#000">MgO</text>
<text x="1306.6" y="180.3" font-size="66.0" fill="#000">Illite</text>
<text x="1303.1" y="270.5" font-size="66.0" fill="#000">Hematite</text>
<text x="1679.4" y="91.0" font-size="66.0" fill="#000">Anorthite</text>
<text x="2198.0" y="603.4" font-size="81.0" fill="#ff00ff">e</text>
<text x="2198.1" y="864.8" font-size="85.0" fill="#008000">d</text>
<text x="2198.0" y="1028.9" font-size="85.0" fill="#0000ff">c</text>
<text x="2198.3" y="1180.8" font-size="81.0" fill="#ff0000">b</text>
<text x="2195.8" y="1377.4" font-size="85.0" fill="#000">a</text>
</svg></body></html>
